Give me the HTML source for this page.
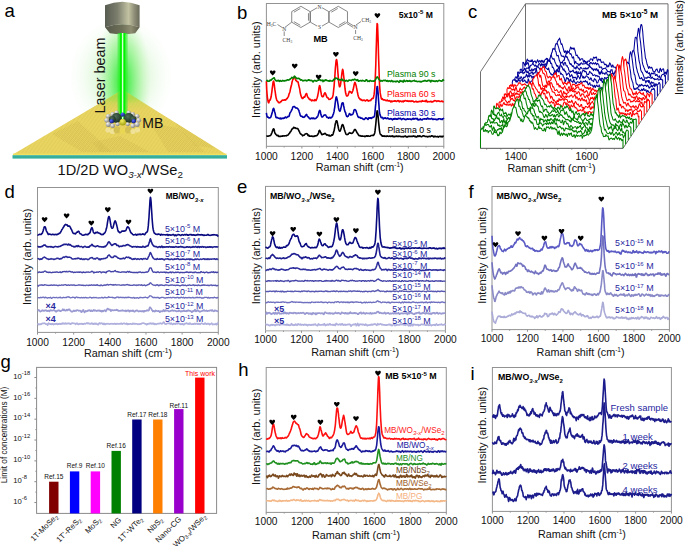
<!DOCTYPE html><html><head><meta charset="utf-8"><style>html,body{margin:0;padding:0;background:#fff;}svg{display:block;}</style></head><body>
<svg width="685" height="546" viewBox="0 0 685 546" font-family='"Liberation Sans", sans-serif'>
<rect width="685" height="546" fill="#fff"/>
<text x="4.60" y="16.90" font-size="18.5" text-anchor="start" font-weight="normal" fill="#000">a</text>
<text x="237.00" y="18.90" font-size="18.5" text-anchor="start" font-weight="normal" fill="#000">b</text>
<text x="468.00" y="17.60" font-size="18.5" text-anchor="start" font-weight="normal" fill="#000">c</text>
<text x="4.50" y="197.60" font-size="18.5" text-anchor="start" font-weight="normal" fill="#000">d</text>
<text x="237.00" y="193.00" font-size="18.5" text-anchor="start" font-weight="normal" fill="#000">e</text>
<text x="468.50" y="197.80" font-size="18.5" text-anchor="start" font-weight="normal" fill="#000">f</text>
<text x="0.60" y="367.70" font-size="18.5" text-anchor="start" font-weight="normal" fill="#000">g</text>
<text x="238.20" y="375.70" font-size="18.5" text-anchor="start" font-weight="normal" fill="#000">h</text>
<text x="470.50" y="379.70" font-size="18.5" text-anchor="start" font-weight="normal" fill="#000">i</text>
<rect x="266.4" y="3.5" width="177.40000000000003" height="142.8" fill="none" stroke="#939393" stroke-width="1"/>
<line x1="266.40" y1="146.3" x2="266.40" y2="148.5" stroke="#939393" stroke-width="1"/>
<line x1="284.14" y1="146.3" x2="284.14" y2="147.5" stroke="#939393" stroke-width="1"/>
<line x1="301.88" y1="146.3" x2="301.88" y2="148.5" stroke="#939393" stroke-width="1"/>
<line x1="319.62" y1="146.3" x2="319.62" y2="147.5" stroke="#939393" stroke-width="1"/>
<line x1="337.36" y1="146.3" x2="337.36" y2="148.5" stroke="#939393" stroke-width="1"/>
<line x1="355.10" y1="146.3" x2="355.10" y2="147.5" stroke="#939393" stroke-width="1"/>
<line x1="372.84" y1="146.3" x2="372.84" y2="148.5" stroke="#939393" stroke-width="1"/>
<line x1="390.58" y1="146.3" x2="390.58" y2="147.5" stroke="#939393" stroke-width="1"/>
<line x1="408.32" y1="146.3" x2="408.32" y2="148.5" stroke="#939393" stroke-width="1"/>
<line x1="426.06" y1="146.3" x2="426.06" y2="147.5" stroke="#939393" stroke-width="1"/>
<line x1="443.80" y1="146.3" x2="443.80" y2="148.5" stroke="#939393" stroke-width="1"/>
<text x="266.40" y="159.60" font-size="10.2" text-anchor="middle" font-weight="normal" fill="#111">1000</text>
<text x="301.88" y="159.60" font-size="10.2" text-anchor="middle" font-weight="normal" fill="#111">1200</text>
<text x="337.36" y="159.60" font-size="10.2" text-anchor="middle" font-weight="normal" fill="#111">1400</text>
<text x="372.84" y="159.60" font-size="10.2" text-anchor="middle" font-weight="normal" fill="#111">1600</text>
<text x="408.32" y="159.60" font-size="10.2" text-anchor="middle" font-weight="normal" fill="#111">1800</text>
<text x="443.80" y="159.60" font-size="10.2" text-anchor="middle" font-weight="normal" fill="#111">2000</text>
<text x="359.70" y="170.80" font-size="10.8" text-anchor="middle" font-weight="normal" fill="#111">Raman shift (cm<tspan dy="-3.6" font-size="6.5">-1</tspan><tspan dy="3.6">)</tspan></text>
<text x="260.20" y="69.60" font-size="11.0" text-anchor="middle" font-weight="normal" fill="#111" transform="rotate(-90 260.2 69.6)">Intensity (arb. units)</text>
<g stroke="#6a6a6a" stroke-width="0.8" fill="none"><path d="M300.90,6.30 L291.72,11.60 L291.72,22.20 L300.90,27.50 L310.08,22.20 L310.08,11.60Z"/><path d="M319.60,6.30 L310.42,11.60 L310.42,22.20 L319.60,27.50 L328.78,22.20 L328.78,11.60Z"/><path d="M338.30,6.30 L329.12,11.60 L329.12,22.20 L338.30,27.50 L347.48,22.20 L347.48,11.60Z"/><line x1="300.32" y1="8.48" x2="293.90" y2="12.19"/><line x1="293.90" y1="21.61" x2="300.32" y2="25.32"/><line x1="308.48" y1="20.61" x2="308.48" y2="13.19"/><line x1="337.72" y1="8.48" x2="331.30" y2="12.19"/><line x1="338.88" y1="25.32" x2="345.30" y2="21.61"/><line x1="291.7" y1="22.2" x2="284.6" y2="27.6"/><line x1="283.8" y1="28.5" x2="277.5" y2="24.5"/><line x1="284.2" y1="31" x2="284.2" y2="36"/><line x1="347.5" y1="22.2" x2="354.3" y2="26.3"/><line x1="347.0" y1="23.6" x2="353.5" y2="27.6"/><line x1="356" y1="25" x2="361" y2="21.5"/><line x1="355.6" y1="29.5" x2="355.6" y2="34"/></g>
<circle cx="319.6" cy="6.9" r="2.6" fill="#fff"/><circle cx="319.6" cy="27.4" r="2.6" fill="#fff"/><circle cx="284.3" cy="29.2" r="2.4" fill="#fff"/><circle cx="355.5" cy="27.5" r="2.4" fill="#fff"/>
<g fill="#3a3a3a" font-family="Liberation Serif, serif" font-size="5.6">
<text x="319.6" y="8.8" text-anchor="middle">N</text>
<text x="319.6" y="29.4" text-anchor="middle">S</text>
<text x="266.8" y="26.3">H<tspan font-size="3.5" dy="1">3</tspan><tspan dy="-1">C</tspan></text>
<text x="284.3" y="31" text-anchor="middle">N</text>
<text x="282.6" y="41.5">CH<tspan font-size="3.5" dy="1">3</tspan></text>
<text x="355.5" y="29.3" text-anchor="middle">N</text>
<text x="361.5" y="21.5">CH<tspan font-size="3.5" dy="1">3</tspan></text>
<text x="353.3" y="40">CH<tspan font-size="3.5" dy="1">3</tspan></text>
</g>
<text x="313.40" y="41.90" font-size="9.2" text-anchor="start" font-weight="bold" fill="#000">MB</text>
<text x="432.80" y="17.50" font-size="8.6" text-anchor="end" font-weight="bold" fill="#000">5x10<tspan dy="-3.5" font-size="6">-5</tspan><tspan dy="3.5"> M</tspan></text>
<path transform="scale(0.1)" d="M2664,1361l3-1 4 3 3 0 4-2 3-1 4 1 3-1 3-2 4 0 3-1 4-1 3-2 3-2 4-8 3-8 4-9 3-8 4-10 3-10 3-8 4-3 3 1 4 12 3 18 3 12 4 5 3 5 4 5 3 1 4 4 3 5 3 1 4-3 3 0 4 4 3 5 3 2 4-2 3-1 4 2 3 0 4 0 3-1 3-1 4-1 3 0 4 0 3-3 3-1 4 2 3 1 4 0 3-3 4 2 3-2 3 0 4 0 3 2 4-2 3-4 4-1 3 1 3-2 4-4 3-5 4-5 3-2 3-3 4-7 3-8 4-2 3-5 4-7 3-9 3-4 4-1 3-3 4-4 3-6 3-3 4 2 3 5 4 0 3-3 4 2 3 4 3 2 4 0 3-1 4 0 3 2 3 4 4 1 3 7 4 8 3 8 4 6 3 8 3 7 4 2 3 5 4 2 3 2 3 1 4 5 3 6 4-2 3-3 4-1 3 1 3-2 4-5 3-4 4-3 3-1 4-2 3 1 3 0 4 0 3 4 4 11 3 5 3-5 4-1 3 6 4 5 3-1 4 1 3 1 3-2 4 0 3-1 4 1 3 1 3 2 4 1 3-1 4 0 3 1 4-2 3-4 3-1 4 1 3 0 4 0 3-1 3-3 4-1 3-3 4-5 3-7 4-5 3-10 3-14 4-6 3-1 4 9 3 7 3 7 4 5 3 8 4 7 3 0 4-1 3-3 3-2 4 1 3 1 4-3 3-3 3-2 4 0 3 5 4 2 3 4 4 3 3 3 3-1 4-1 3 2 4 5 3-2 4-3 3 1 3 7 4 1 3 0 4-1 3-1 3-5 4-4 3 2 4 1 3-1 4-11 3-9 3-13 4-10 3-17 4-22 3-19 3-15 4-13 3-13 4-2 3 0 4 11 3 15 3 20 4 16 3 16 4 13 3 8 3 5 4 1 3-4 4-8 3-11 4-11 3-13 3-11 4-7 3-1 4 3 3 9 3 9 4 13 3 14 4 12 3 9 4 9 3 11 3 7 4 1 3 2 4 1 3-1 4-1 3-1 3-5 4-5 3-1 4-4 3-2 3 2 4 4 3 0 4 0 3 2 4 0 3-2 3-2 4-5 3-5 4-6 3-5 3-8 4-6 3 0 4 0 3 5 4 6 3 7 3 7 4 6 3 6 4 3 3 6 3 7 4 4 3 5 4-2 3 0 4 0 3 5 3-1 4 2 3 2 4-3 3-2 3 3 4 1 3 0 4 0 3 0 4-1 3 4 3 1 4 0 3-4 4-1 3-3 4 1 3 0 3 3 4-1 3-3 4-1 3 3 3 3 4 0 3 0 4-1 3-1 4-4 3-1 3-1 4 0 3 0 4-2 3 0 3 1 4 0 3-4 4-4 3-8 4-11 3-23 3-28 4-34 3-36 4-41 3-36 3-20 4 4 3 25 4 37 3 38 4 36 3 31 3 26 4 21 3 11 4 7 3 2 3 1 4 6 3 3 4 5 3-3 4 2 3 1 3 1 4-4 3 0 4 2 3 3 4-1 3-2 3 2 4 1 3-1 4-4 3 2 3 0 4 2 3 0 4 1 3-2 4-1 3 0 3 2 4 2 3-3 4-2 3 2 3 2 4 0 3-6 4 3 3 4 4 1 3-2 3 3 4 1 3-5 4-1 3 1 3 1 4-4 3 1 4-1 3 4 4 1 3 1 3-3 4-2 3 1 4 2 3-1 3-1 4 2 3 1 4 3 3 0 4-2 3-1 3 0 4 2 3 0 4 2 3-6 3 1 4 0 3 0 4-3 3-1 4 3 3 6 3 1 4-1 3-3 4 3 3-3 4-3 3-1 3 1 4 1 3-1 4 2 3 0 3-1 4-1 3 1 4-1 3 1 4 0 3 0 3-3 4 1 3-2 4 1 3 1 3 4 4 0 3-2 4 1 3 4 4 1 3-1 3-4 4-4 3-3 4 2 3 3 3 2 4-1 3-5 4-2 3 3 4 4 3 2 3 1 4 1 3-2 4-4 3-2 3-1 4 0 3 0 4 0 3 1 4 1 3 3 3 1 4 0 3 1 4-1 3-1 4 1 3 1 3 3 4-1 3-2 4-3 3 0 3 0 4 1 3 2 4 0 3-4 4-1 3-3 3 1 4 0 3 2 4 0 3 3 3 5 4 0 3-4 4-3 3 0 4 3 3-1 3 4 4 0 3 0 4-1 3-3 3 1 4 1 3 5 4-4 3-1 4-2 3 0 3-2 4 3 3 3 4-2 3-2 3 2 4 3 3-4 4-2 3-1 4 3 3 1" fill="none" stroke="#000" stroke-width="16.0" stroke-linejoin="round" opacity="1"/>
<path transform="scale(0.1)" d="M2664,1128l3 20 4 18 3 5 4 0 3-1 4 6 3 2 3 2 4-1 3-1 4-1 3 0 3-7 4-9 3-12 4-11 3-14 4-12 3-15 3-10 4-4 3 6 4 14 3 14 3 9 4 14 3 19 4 17 3 1 4-1 3-2 3 1 4 2 3 3 4 2 3 0 3 2 4 2 3 1 4-6 3-1 4 5 3 5 3-4 4-3 3-3 4 5 3-1 3-2 4-1 3 3 4-2 3-4 4-2 3-4 3-2 4 3 3 6 4-2 3-3 4-3 3-1 3-5 4-2 3 0 4 2 3-10 3-12 4-14 3-5 4-5 3-5 4-8 3-7 3-3 4-12 3-11 4-7 3 1 3 0 4-1 3-1 4 3 3 6 4 4 3 2 3-1 4 1 3 0 4 3 3 0 3 6 4 3 3 6 4 7 3 12 4 12 3 11 3 12 4 7 3 3 4 0 3 2 3-1 4 2 3 5 4 2 3 1 4-2 3 2 3-4 4 1 3-6 4-6 3-6 4-3 3-5 3 1 4 10 3 7 4 5 3 2 3 1 4 5 3 6 4 4 3 3 4 1 3-1 3-4 4-4 3 1 4 2 3 3 3-6 4 0 3-1 4 6 3 3 4 0 3-2 3-3 4 3 3-1 4 0 3-7 3-2 4-7 3 1 4-7 3-7 4-13 3-12 3-14 4-9 3-4 4 3 3 11 3 17 4 16 3 9 4 8 3 2 4 0 3-4 3-3 4-6 3-5 4 1 3-2 3-2 4 0 3 2 4 2 3 7 4 8 3 6 3-2 4 0 3 2 4 7 3 2 4-2 3-5 3-2 4 0 3 2 4 5 3-1 3-3 4-7 3 0 4-2 3-11 4-11 3-5 3-12 4-15 3-22 4-22 3-31 3-24 4-26 3-17 4-3 3 13 4 16 3 14 3 19 4 23 3 25 4 15 3 10 3 5 4 4 3-6 4-13 3-13 4-15 3-18 3-15 4-1 3-3 4-1 3 8 3 21 4 17 3 16 4 16 3 12 4 5 3 8 3 15 4 9 3 9 4 2 3 1 4-4 3 0 3-6 4-9 3-8 4-4 3 0 3 5 4 8 3 2 4-3 3-2 4-2 3 2 3-2 4-4 3-7 4-13 3-15 3-8 4 0 3-1 4 1 3 3 4 8 3 8 3 12 4 9 3 11 4 11 3 8 3 5 4 2 3 1 4-2 3-1 4 3 3 4 3 3 4-2 3 0 4 2 3 3 3-2 4 3 3 6 4 2 3-2 4 2 3 0 3-5 4-4 3-7 4 0 3 1 4 4 3-1 3 5 4 5 3 2 4-5 3-8 3-4 4 1 3 5 4-1 3-4 4-1 3 4 3 4 4-5 3-3 4-3 3 2 3-3 4-2 3 0 4-3 3-7 4-20 3-32 3-35 4-40 3-48 4-54 3-44 3-23 4 0 3 32 4 47 3 53 4 48 3 46 3 34 4 18 3 11 4 8 3 9 3 5 4 0 3 0 4-2 3 2 4 4 3 9 3-2 4-3 3-4 4 1 3-3 4-1 3 3 3 4 4 0 3 2 4-1 3-2 3-4 4 3 3 3 4 4 3 1 4 1 3-2 3 1 4-1 3-3 4 1 3 0 3 6 4 4 3 2 4-6 3-5 4 3 3 1 3 0 4-6 3-1 4 0 3 5 3 1 4 1 3-3 4 1 3 2 4 0 3-7 3-3 4 2 3 4 4-1 3-1 3-4 4 0 3 5 4 5 3 3 4 1 3-4 3-5 4 0 3 0 4-1 3 1 3 4 4-1 3 0 4 6 3 0 4-3 3 1 3 1 4-3 3-4 4 1 3 2 4 1 3 1 3-4 4 1 3 0 4 1 3-1 3 2 4 3 3 1 4-1 3-4 4-1 3-5 3-1 4 0 3 7 4 0 3-3 3 0 4-3 3-1 4 2 3 2 4 2 3-6 3 0 4 3 3 10 4 3 3-2 3-2 4 0 3 1 4-2 3-6 4 1 3 3 3 4 4 0 3 2 4-1 3-5 3-3 4 0 3 0 4-1 3-1 4 1 3 2 3-1 4-1 3-1 4 4 3-1 4-3 3-8 3 2 4 1 3 7 4-1 3-1 3 1 4 1 3 1 4-2 3-1 4-2 3-2 3 1 4 3 3 5 4 2 3 0 3-4 4-1 3 2 4 1 3-1 4 0 3 2 3-3 4 3 3 4 4 0 3-6 3 0 4 2 3-4 4-2 3-1 4 0 3 0 3 1 4 2 3 1 4 4 3-3 3-1 4-1 3 5 4-5 3-4 4-2 3 5" fill="none" stroke="#0000a8" stroke-width="16.0" stroke-linejoin="round" opacity="1"/>
<path transform="scale(0.1)" d="M2664,811l3 81 4 54 3 30 4 24 3 17 4 9 3 2 3-13 4-9 3-7 4 0 3-8 3-11 4-15 3-23 4-26 3-29 4-28 3-24 3-18 4-6 3 12 4 26 3 27 3 23 4 25 3 26 4 21 3 15 4 12 3 8 3 2 4 4 3 4 4 9 3 2 3 1 4-1 3 1 4-7 3-5 4 2 3-1 3-3 4-7 3-5 4-1 3-1 3 1 4 2 3 0 4-3 3-3 4 2 3 0 3 2 4-3 3-5 4-5 3-1 4-2 3-10 3-3 4-5 3-8 4-17 3-8 3-7 4-12 3-17 4-18 3-13 4-15 3-10 3-19 4-14 3-13 4-3 3-10 3-9 4-5 3 3 4 4 3 9 4 11 3 9 3 1 4 3 3 4 4 4 3-2 3 0 4 8 3 17 4 18 3 13 4 14 3 20 3 21 4 17 3 13 4 8 3 10 3 6 4 5 3 0 4 0 3-6 4-6 3-5 3 4 4-1 3-6 4-14 3-5 4-7 3-4 3 2 4 14 3 13 4 7 3 5 3 2 4 5 3 6 4 7 3-2 4 1 3-1 3 6 4 4 3 5 4-5 3-3 3-1 4 5 3 0 4 0 3 2 4 0 3-8 3-4 4 4 3 6 4 1 3-5 3-9 4-10 3-9 4-13 3-19 4-18 3-23 3-24 4-17 3-3 4 12 3 19 3 21 4 20 3 19 4 13 3 5 4-1 3 4 3-3 4-4 3-11 4-8 3-9 3-5 4 2 3 5 4 9 3 10 4 10 3 8 3 3 4 3 3-1 4 6 3 6 4 6 3-2 3 0 4 0 3-1 4-5 3-1 3-4 4 0 3-3 4-4 3-9 4-17 3-24 3-30 4-34 3-42 4-47 3-48 3-46 4-40 3-32 4-10 3 6 4 29 3 35 3 47 4 48 3 42 4 32 3 21 3 12 4-1 3-9 4-16 3-25 4-26 3-31 3-27 4-26 3-13 4 7 3 24 3 30 4 32 3 35 4 33 3 32 4 28 3 18 3 10 4 12 3 5 4 0 3-2 4-1 3-5 3-10 4-13 3-11 4-4 3 4 3 1 4-3 3 2 4 7 3 6 4-1 3-8 3-7 4-11 3-11 4-18 3-14 3-17 4-13 3-8 4 7 3 9 4 13 3 12 3 16 4 18 3 19 4 18 3 15 3 12 4 10 3 8 4 3 3 4 4 6 3 4 3-3 4 0 3 4 4 5 3-2 3 3 4 2 3-1 4-3 3-1 4 0 3 1 3 3 4 4 3 1 4-4 3-3 4-3 3 2 3-3 4 3 3 5 4 4 3-2 3-3 4 2 3-1 4-3 3 0 4 2 3-6 3-5 4-4 3-5 4-4 3 1 3 2 4-6 3-15 4-20 3-26 4-36 3-56 3-79 4-102 3-118 4-122 3-108 3-62 4 9 3 73 4 111 3 119 4 115 3 99 3 80 4 53 3 35 4 22 3 16 3 15 4 9 3 1 4-5 3 4 4 5 3 3 3 0 4 1 3 0 4-2 3 2 4 4 3-1 3 2 4 1 3 0 4-6 3 1 3 5 4 4 3 0 4-2 3 1 4-3 3 2 3 2 4 7 3 3 4-5 3-5 3 1 4 6 3-2 4-3 3 0 4 1 3-1 3-4 4 3 3-2 4-1 3 0 3 5 4 2 3-2 4-2 3-2 4 0 3-3 3 0 4 2 3 7 4 3 3-3 3-5 4 0 3 2 4 2 3 3 4-3 3-3 3 0 4 6 3 2 4-5 3-5 3 2 4 1 3-4 4-3 3 1 4 1 3 1 3 0 4 4 3-1 4 0 3-5 4 6 3 2 3 0 4-4 3 2 4 0 3-2 3 2 4 3 3-2 4-4 3-1 4 3 3 2 3-2 4 2 3 5 4 2 3-1 3-1 4 0 3-4 4 1 3-1 4 4 3-2 3 4 4 0 3 0 4-4 3 0 3 2 4-2 3-2 4 0 3-2 4 1 3 2 3 3 4-4 3-4 4-4 3 3 3 3 4 1 3 0 4-1 3-1 4 1 3 3 3 1 4-5 3-7 4 0 3 5 4 10 3 1 3-1 4-3 3 0 4 2 3 0 3 0 4-1 3-1 4-4 3 1 4 6 3 1 3-4 4 0 3 3 4-1 3-2 3-3 4-1 3-4 4-2 3 0 4 1 3 0 3 0 4 5 3 3 4 0 3-6 3 1 4 0 3 2 4-3 3 0 4 2 3 3 3 1 4 0 3 0 4-1 3-4 3 0 4 2 3 4 4-2 3 2 4 2 3 1" fill="none" stroke="#ff0000" stroke-width="16.0" stroke-linejoin="round" opacity="1"/>
<path transform="scale(0.1)" d="M2664,811l3-4 4-4 3 4 4 5 3 1 4-3 3 3 3-1 4-2 3-7 4-2 3-1 3 4 4-5 3 0 4-7 3-1 4-6 3 0 3-2 4-3 3 0 4-1 3 8 3 7 4 7 3-1 4 6 3 3 4 1 3 0 3-1 4-2 3-4 4 0 3 2 3 5 4 3 3-4 4-4 3 1 4 4 3 3 3 0 4-1 3-2 4-5 3-1 3 2 4 3 3 0 4 1 3 0 4-4 3 2 3-2 4 0 3-2 4 0 3-3 4-3 3 0 3 1 4 1 3 1 4-4 3-1 3 0 4-3 3-6 4-1 3-2 4-4 3-6 3 3 4-2 3 4 4 1 3 1 3-5 4-6 3-8 4 2 3 3 4 7 3 0 3 7 4 4 3 2 4 0 3-2 3 0 4-3 3 0 4 2 3 3 4 1 3 4 3 5 4 4 3-1 4-1 3 0 3 2 4 3 3 1 4 4 3-2 4-1 3-3 3 2 4-1 3 1 4-1 3-2 4 2 3 3 3 3 4-4 3 0 4-2 3-1 3-6 4 0 3 5 4 2 3-3 4 1 3 3 3 1 4-1 3-1 4 1 3 3 3 5 4 6 3 0 4-7 3-4 4-1 3-1 3-2 4 3 3 2 4 1 3 1 3 0 4-4 3-3 4 0 3-1 4 0 3-2 3-1 4-3 3 0 4 1 3 2 3 4 4 3 3-2 4-1 3-3 4 1 3 7 3 7 4-5 3-8 4 1 3 5 3-3 4-4 3-3 4 3 3-1 4 0 3 4 3 3 4 0 3-1 4 0 3 0 4 6 3 0 3-5 4-5 3 4 4 2 3 2 3-1 4 0 3-2 4 2 3 1 4-5 3-7 3-5 4 0 3 2 4-3 3-9 3-3 4-2 3 4 4-1 3 1 4 0 3 7 3 4 4-2 3 1 4 1 3 5 3-2 4 2 3 0 4 2 3-1 4-4 3-5 3-1 4 5 3 7 4 4 3 0 3-2 4-1 3 1 4 0 3 3 4 4 3-1 3-5 4-1 3 1 4 2 3 0 4 6 3-2 3-3 4-6 3-1 4 0 3 2 3-1 4 0 3 2 4 2 3-2 4-3 3-5 3 1 4 0 3 3 4-1 3 0 3-6 4-2 3 2 4 3 3 0 4 1 3 4 3 4 4-5 3-2 4-2 3 9 3 5 4 3 3-2 4-4 3 1 4 0 3-2 3-1 4 1 3 4 4-1 3 0 3-5 4 1 3 2 4 1 3 0 4 2 3 3 3 0 4-2 3-4 4-7 3-3 4 0 3 6 3 4 4 3 3 4 4-2 3-1 3-1 4 4 3-3 4-6 3-1 4 2 3 2 3 2 4 1 3-1 4 1 3-1 3 1 4-2 3 3 4-2 3 1 4-6 3-3 3-3 4-8 3-9 4-5 3-4 3-4 4 1 3 6 4 4 3 6 4 7 3 4 3 2 4 3 3 6 4 3 3 0 3-2 4-3 3 2 4 3 3-1 4-4 3-1 3-1 4-1 3 1 4 3 3-2 4-3 3 2 3 4 4 4 3-3 4-2 3-1 3 3 4 6 3-1 4-2 3-3 4 0 3 1 3 1 4 3 3 2 4-6 3-4 3 0 4 3 3 6 4 2 3 0 4-5 3 0 3 3 4 0 3-3 4 0 3 5 3 2 4-5 3-2 4 0 3-2 4 2 3 2 3 3 4 2 3 5 4-4 3-7 3-8 4 4 3 3 4 2 3-3 4-1 3 0 3 1 4 6 3 4 4-6 3-8 3-5 4 5 3 3 4 5 3-2 4-1 3-3 3-3 4 1 3 1 4 5 3-2 4 1 3-2 3 2 4-5 3-1 4 2 3 7 3 0 4-1 3 0 4 0 3-3 4-1 3 0 3-3 4 1 3 0 4-2 3-3 3 4 4 6 3 0 4 0 3-3 4 3 3 1 3 2 4-1 3 0 4 0 3 0 3 0 4-2 3 2 4 1 3 1 4-2 3 4 3 0 4-1 3-4 4 0 3-2 3 1 4-3 3-1 4 0 3 1 4-4 3-2 3 2 4 4 3 0 4 1 3 1 4-1 3-3 3-2 4-1 3-1 4-1 3 4 3 0 4-3 3 3 4 9 3 3 4-7 3-6 3-1 4 3 3 1 4 1 3 1 3 1 4-3 3 1 4 2 3 3 4 0 3-3 3-2 4-2 3 0 4 3 3 4 3-1 4-3 3-3 4-2 3-2 4 1 3 1 3 1 4 1 3 0 4 4 3 0 3 0 4-2 3-4 4-7 3-2 4 5 3 6" fill="none" stroke="#008000" stroke-width="16.0" stroke-linejoin="round" opacity="1"/>
<text x="387.00" y="77.00" font-size="8.8" text-anchor="start" font-weight="normal" fill="#008000">Plasma 90 s</text>
<text x="387.00" y="96.90" font-size="8.8" text-anchor="start" font-weight="normal" fill="#ff0000">Plasma 60 s</text>
<text x="387.00" y="115.50" font-size="8.8" text-anchor="start" font-weight="normal" fill="#0000a8">Plasma 30 s</text>
<text x="387.50" y="133.40" font-size="8.8" text-anchor="start" font-weight="normal" fill="#000">Plasma 0 s</text>
<path d="M272.70,75.50 C271.92,74.46 269.84,72.90 269.84,71.76 C269.84,70.04 272.44,70.04 272.70,71.60 C272.96,70.04 275.56,70.04 275.56,71.76 C275.56,72.90 273.48,74.46 272.70,75.50 Z" fill="#000"/>
<path d="M294.70,68.70 C293.92,67.66 291.84,66.10 291.84,64.96 C291.84,63.24 294.44,63.24 294.70,64.80 C294.96,63.24 297.56,63.24 297.56,64.96 C297.56,66.10 295.48,67.66 294.70,68.70 Z" fill="#000"/>
<path d="M318.60,79.70 C317.82,78.66 315.74,77.10 315.74,75.96 C315.74,74.24 318.34,74.24 318.60,75.80 C318.86,74.24 321.46,74.24 321.46,75.96 C321.46,77.10 319.38,78.66 318.60,79.70 Z" fill="#000"/>
<path d="M335.90,57.10 C335.12,56.06 333.04,54.50 333.04,53.36 C333.04,51.64 335.64,51.64 335.90,53.20 C336.16,51.64 338.76,51.64 338.76,53.36 C338.76,54.50 336.68,56.06 335.90,57.10 Z" fill="#000"/>
<path d="M355.70,76.30 C354.92,75.26 352.84,73.70 352.84,72.56 C352.84,70.84 355.44,70.84 355.70,72.40 C355.96,70.84 358.56,70.84 358.56,72.56 C358.56,73.70 356.48,75.26 355.70,76.30 Z" fill="#000"/>
<path d="M377.40,18.20 C376.62,17.16 374.54,15.60 374.54,14.46 C374.54,12.74 377.14,12.74 377.40,14.30 C377.66,12.74 380.26,12.74 380.26,14.46 C380.26,15.60 378.18,17.16 377.40,18.20 Z" fill="#000"/>
<rect x="37.5" y="187.5" width="180.8" height="144.89999999999998" fill="none" stroke="#939393" stroke-width="1"/>
<line x1="37.50" y1="332.4" x2="37.50" y2="334.59999999999997" stroke="#939393" stroke-width="1"/>
<line x1="55.58" y1="332.4" x2="55.58" y2="333.59999999999997" stroke="#939393" stroke-width="1"/>
<line x1="73.66" y1="332.4" x2="73.66" y2="334.59999999999997" stroke="#939393" stroke-width="1"/>
<line x1="91.74" y1="332.4" x2="91.74" y2="333.59999999999997" stroke="#939393" stroke-width="1"/>
<line x1="109.82" y1="332.4" x2="109.82" y2="334.59999999999997" stroke="#939393" stroke-width="1"/>
<line x1="127.90" y1="332.4" x2="127.90" y2="333.59999999999997" stroke="#939393" stroke-width="1"/>
<line x1="145.98" y1="332.4" x2="145.98" y2="334.59999999999997" stroke="#939393" stroke-width="1"/>
<line x1="164.06" y1="332.4" x2="164.06" y2="333.59999999999997" stroke="#939393" stroke-width="1"/>
<line x1="182.14" y1="332.4" x2="182.14" y2="334.59999999999997" stroke="#939393" stroke-width="1"/>
<line x1="200.22" y1="332.4" x2="200.22" y2="333.59999999999997" stroke="#939393" stroke-width="1"/>
<line x1="218.30" y1="332.4" x2="218.30" y2="334.59999999999997" stroke="#939393" stroke-width="1"/>
<text x="37.50" y="346.30" font-size="10.2" text-anchor="middle" font-weight="normal" fill="#111">1000</text>
<text x="73.66" y="346.30" font-size="10.2" text-anchor="middle" font-weight="normal" fill="#111">1200</text>
<text x="109.82" y="346.30" font-size="10.2" text-anchor="middle" font-weight="normal" fill="#111">1400</text>
<text x="145.98" y="346.30" font-size="10.2" text-anchor="middle" font-weight="normal" fill="#111">1600</text>
<text x="182.14" y="346.30" font-size="10.2" text-anchor="middle" font-weight="normal" fill="#111">1800</text>
<text x="218.30" y="346.30" font-size="10.2" text-anchor="middle" font-weight="normal" fill="#111">2000</text>
<text x="128.00" y="356.60" font-size="10.8" text-anchor="middle" font-weight="normal" fill="#111">Raman shift (cm<tspan dy="-3.6" font-size="6.5">-1</tspan><tspan dy="3.6">)</tspan></text>
<text x="31.50" y="256.80" font-size="11.0" text-anchor="middle" font-weight="normal" fill="#111" transform="rotate(-90 31.5 256.8)">Intensity (arb. units)</text>
<text x="165.70" y="199.40" font-size="8.2" text-anchor="start" font-weight="bold" fill="#000">MB/WO<tspan dy="2.4" font-size="6" font-style="italic">3-x</tspan></text>
<path transform="scale(0.1)" d="M375,2351l3 1 4-3 3-1 4-2 3-1 4-2 3-1 4 1 3 2 4 0 3-2 4-4 3-5 4-5 3-9 4-10 3-12 4-13 3-13 4-5 3 0 4 2 3 7 4 14 3 15 4 8 3 5 4 6 3 7 4 9 3 4 3 1 4-2 3-2 4 0 3 0 4 2 3 1 4 2 3 2 4-2 3-2 4 0 3 0 4-1 3 2 4 1 3 0 4 0 3 0 4-1 3-1 4 0 3 1 4 2 3 1 4-5 3-3 4 0 3 1 4-3 3-5 3-3 4 1 3-1 4-7 3-6 4-6 3-8 4-7 3-4 4-6 3-7 4-5 3-5 4-5 3-8 4-4 3-4 4-2 3-2 4 2 3 4 4 0 3-1 4 4 3 7 4 3 3-2 4 0 3 0 3 0 4 3 3 7 4 8 3 8 4 5 3 6 4 9 3 9 4 6 3 7 4 6 3 0 4 0 3 0 4 2 3-1 4 3 3-5 4-5 3-5 4-1 3 0 4-3 3-4 4-4 3 3 4 1 3 7 4 8 3 5 3 2 4 0 3 2 4 2 3 4 4 4 3 1 4 2 3 0 4-1 3-2 4 0 3-1 4-3 3-2 4 0 3 2 4 0 3-1 4-1 3 3 4 1 3-2 4-6 3-2 4-4 3 0 4-4 3-6 4-13 3-10 3-11 4-10 3-3 4 3 3 11 4 11 3 15 4 9 3 3 4 2 3 3 4 1 3-7 4-3 3-2 4 3 3 0 4-3 3-3 4 5 3 4 4 1 3-1 4 2 3 4 4-1 3 2 4 1 3 6 4 2 3 2 3-2 4-1 3-1 4 3 3-2 4-5 3-6 4-1 3-3 4-5 3-7 4-10 3-11 4-13 3-14 4-23 3-22 4-23 3-18 4-14 3-4 4 4 3 11 4 19 3 21 4 21 3 18 4 13 3 7 3 3 4 1 3-3 4-7 3-12 4-15 3-13 4-12 3-8 4-5 3 5 4 10 3 13 4 11 3 14 4 15 3 16 4 14 3 9 4 3 3 0 4 6 3 3 4 0 3-2 4-2 3-3 4-7 3-1 4-1 3 0 3 0 4 1 3-1 4-1 3 1 4-1 3-2 4-2 3 1 4-6 3-8 4-9 3-8 4-7 3-1 4 2 3 4 4 2 3 8 4 7 3 10 4 9 3 10 4 5 3 5 4 2 3 3 4 4 3 4 4 3 3 2 3 1 4-1 3-1 4 0 3 0 4-4 3-1 4 5 3 4 4-1 3-5 4-1 3 2 4 0 3-2 4-1 3 1 4 1 3-4 4 0 3 2 4 4 3-2 4-1 3-1 4-1 3-4 4 0 3 3 4 3 3 2 3 1 4-2 3-5 4-7 3-4 4-3 3-1 4-3 3-4 4-9 3-19 4-31 3-40 4-47 3-54 4-61 3-54 4-30 3 8 4 38 3 56 4 58 3 52 4 47 3 36 4 26 3 14 4 13 3 9 3 3 4 1 3 3 4 4 3 2 4-1 3 1 4 2 3-1 4 0 3-3 4 1 3-1 4 2 3-1 4 1 3 4 4 4 3-4 4-3 3-1 4 2 3 4 4-1 3-1 4-1 3 2 4-1 3 0 4 0 3 1 3 1 4 1 3 0 4-2 3-2 4-2 3 2 4 6 3 3 4-5 3-3 4 3 3 0 4-2 3 0 4 4 3 1 4-2 3-1 4-1 3-1 4-2 3 1 4-2 3 2 4 3 3 6 4 0 3-2 4-5 3 3 3 3 4 1 3-6 4 0 3-1 4-2 3-2 4 2 3 1 4-1 3 1 4 4 3 1 4 2 3-2 4-2 3-3 4-2 3 1 4 1 3 2 4 1 3 0 4-2 3-3 4 0 3 1 4 3 3-2 4-3 3-1 3 2 4 5 3 0 4 1 3-2 4 2 3-3 4-1 3-3 4 1 3 1 4 0 3-2 4 2 3 4 4 1 3-1 4-3 3 0 4-1 3 4 4-2 3 1 4 2 3 2 4-2 3-2 4-1 3 2 3-1 4-1 3-5 4 2 3 0 4 3 3-1 4 0 3-1 4 3 3 0 4 0 3-4 4 1 3 1 4 2 3-2 4 3 3 3 4-1 3-4 4 3 3 2 4-1 3-1 4 0 3 1 4-1 3 0 4-5 3-1 3-1 4 1 3 3 4 4 3 0 4-1 3 2 4 0 3-2 4 0 3-1 4-1 3-2 4 2 3-1 4 1 3-2 4-2 3 1 4 0 3 2 4-1 3 2 4 0 3 1 4-1 3-1 4 3 3 8 4-1 3-5" fill="none" stroke="#0a0a80" stroke-width="16.0" stroke-linejoin="round" opacity="1"/>
<path transform="scale(0.1)" d="M375,2467l3-2 4 1 3 3 4 2 3-1 4-1 3-2 4 3 3-1 4-1 3-4 4 2 3-1 4-1 3-4 4-3 3-2 4-3 3-2 4 1 3 0 4 0 3 3 4 6 3 2 4 2 3 4 4 1 3-2 4-2 3 3 3 1 4-2 3 0 4 0 3-1 4 0 3 3 4 1 3-1 4-3 3 2 4 3 3 2 4 1 3-1 4-3 3-2 4-1 3-1 4-2 3 1 4 0 3 3 4 0 3 0 4 0 3 1 4 0 3-4 4 0 3 0 3 0 4 0 3-2 4-1 3-3 4 0 3-2 4-3 3-2 4 0 3-3 4-5 3 1 4 1 3-1 4-3 3 2 4-1 3 1 4-1 3-1 4 1 3 3 4 4 3-1 4-3 3-6 4 3 3 5 3 2 4-5 3 0 4 4 3 5 4 2 3 2 4 4 3 1 4 0 3 0 4 2 3 3 4 2 3-2 4-3 3 2 4 1 3-3 4-6 3 0 4 2 3 5 4-3 3-6 4-2 3 5 4 4 3 0 4 2 3 2 3-1 4-1 3-1 4 0 3 2 4 0 3 5 4 3 3-1 4-4 3-2 4 0 3-3 4-1 3 0 4 2 3 2 4 3 3 1 4 0 3 0 4-1 3-2 4-1 3 3 4 0 3-3 4-6 3-4 4-1 3 1 3-5 4-5 3-4 4 1 3 4 4 7 3 4 4 0 3 1 4 1 3 1 4 3 3 1 4 0 3-3 4-1 3-2 4-2 3-1 4 1 3 2 4 2 3 2 4 2 3 0 4-1 3 0 4 2 3 0 4 1 3 0 3 1 4 0 3-2 4 0 3 1 4 2 3-3 4-4 3 1 4 1 3 0 4-6 3-2 4-5 3-4 4-6 3-4 4-7 3-9 4-3 3-1 4 1 3 4 4 6 3 5 4 6 3 4 4 5 3 3 3 2 4-4 3-4 4-1 3 0 4-2 3-4 4-2 3 0 4 0 3 1 4 0 3 6 4 5 3 4 4 0 3-2 4 1 3 3 4 4 3 5 4 3 3-2 4-3 3 0 4-1 3-1 4 2 3 1 4-2 3-2 3-2 4-3 3 0 4 2 3 1 4-1 3-1 4 1 3-1 4-4 3-4 4 1 3 1 4-3 3-2 4 2 3 1 4 3 3 1 4 4 3 2 4 2 3 0 4 2 3 3 4 2 3 2 4 3 3-1 4-4 3-1 3 1 4 0 3 1 4-1 3-1 4 0 3 1 4 2 3 2 4-1 3-4 4 0 3 3 4 0 3 0 4 1 3-1 4 3 3-2 4-1 3 1 4 3 3-1 4-2 3 1 4-1 3-6 4-1 3 2 4 5 3-2 3 3 4 2 3-1 4-4 3-4 4 0 3 1 4-4 3-2 4 1 3 0 4-6 3-11 4-10 3-10 4-11 3-14 4-10 3 6 4 13 3 13 4 7 3 11 4 5 3 6 4 4 3 5 4 4 3 3 3-1 4-1 3 2 4 1 3 0 4 0 3 3 4 2 3 1 4 3 3-1 4-4 3-3 4 0 3 0 4-1 3 6 4 2 3-1 4-7 3-3 4-2 3 5 4 7 3 2 4-3 3-5 4 1 3 0 4 4 3 0 3 0 4-3 3 0 4-1 3 1 4 0 3-1 4-1 3 1 4 3 3-2 4-2 3-1 4 1 3 1 4 3 3 1 4-2 3-2 4 2 3 2 4 1 3-5 4 2 3 1 4 2 3-3 4 1 3-1 4-3 3-1 3 0 4 2 3 2 4 0 3 0 4 1 3 1 4-1 3-2 4 0 3 1 4-1 3-3 4-2 3 1 4 2 3 3 4 1 3-1 4-2 3 2 4 3 3 1 4-1 3 0 4 1 3 0 4-2 3 0 4 0 3-4 3-1 4 0 3 3 4-1 3 3 4 1 3-2 4-2 3-1 4 3 3 3 4 0 3-3 4 0 3 2 4 0 3-4 4-3 3 0 4 4 3 1 4 0 3-1 4-1 3-3 4-1 3 2 4 2 3 3 3 1 4 1 3-6 4-2 3-1 4 4 3 5 4 0 3-4 4-3 3 1 4 1 3 1 4 1 3-3 4-3 3 3 4 1 3 2 4 1 3-2 4 0 3-1 4 1 3 2 4 3 3 0 4-3 3 1 4-3 3 1 3-2 4 2 3 0 4-1 3-2 4 0 3 4 4-1 3-3 4-1 3 2 4 3 3 1 4 2 3-2 4-3 3 0 4 0 3-2 4-1 3 0 4 1 3 1 4 1 3-1 4-1 3 2 4-1 3 1 4 0 3 1" fill="none" stroke="#1e1e90" stroke-width="16.0" stroke-linejoin="round" opacity="1"/>
<path transform="scale(0.1)" d="M375,2590l3-2 4-1 3-1 4 3 3 3 4 4 3-1 4-4 3-2 4-1 3 4 4 0 3 0 4-7 3-4 4-5 3 0 4-1 3-3 4-1 3 2 4 2 3 2 4 3 3 3 4 3 3 0 4 3 3 0 4 2 3 0 3 3 4 0 3-1 4-2 3 1 4-1 3-2 4-3 3 2 4 2 3 0 4-1 3 0 4 0 3 5 4 2 3-2 4-3 3-1 4-1 3 0 4-1 3-2 4-3 3 1 4 0 3-2 4 1 3 2 4 2 3 1 3 3 4 1 3-3 4-4 3 0 4 3 3 0 4-4 3-4 4-3 3-4 4-2 3-1 4 2 3 2 4-1 3-4 4-3 3-1 4 0 3 0 4 4 3 4 4 1 3-4 4 2 3 0 4 0 3-1 3 2 4-1 3 2 4 2 3 2 4 1 3 4 4 5 3 3 4-1 3-1 4 1 3 0 4 0 3-2 4-1 3 1 4 1 3-4 4-1 3 0 4 4 3-2 4-3 3-4 4 2 3 3 4 2 3-1 4 1 3 5 3 1 4-1 3-5 4 0 3 3 4 4 3 1 4 2 3-3 4-4 3 1 4 4 3 0 4-3 3-3 4 2 3 1 4-1 3 1 4 0 3 3 4 2 3 1 4-4 3-1 4-1 3-3 4-5 3-1 4-2 3-2 3 0 4 0 3-2 4 0 3 3 4 4 3 3 4 3 3 1 4-2 3-2 4 3 3 1 4-1 3-5 4-3 3-1 4 0 3-1 4 4 3 3 4 2 3 4 4 4 3-4 4-3 3 3 4 5 3-5 4-4 3-1 3 3 4 0 3-2 4-2 3 0 4 1 3-1 4-1 3 1 4 0 3-1 4-3 3-3 4-2 3 0 4-2 3-9 4-7 3-5 4-1 3-4 4 1 3 3 4 6 3 5 4 3 3 4 4 3 3 2 3-1 4-2 3 1 4 1 3-3 4-4 3-6 4-3 3 0 4 3 3 1 4 3 3-1 4 1 3 5 4 3 3 4 4 2 3 2 4-1 3 3 4 2 3 2 4-2 3 2 4 2 3-1 4-4 3 2 4 0 3-1 3-3 4-3 3-1 4 5 3 4 4 0 3-3 4-5 3-3 4-3 3-2 4-2 3 3 4 1 3 2 4-2 3 0 4-3 3 2 4 6 3 4 4-1 3-4 4 4 3 5 4 4 3 0 4 2 3 2 4-5 3-3 3 2 4 5 3-1 4-4 3-3 4-1 3 2 4 2 3 2 4 3 3-3 4-2 3-2 4 3 3 0 4 2 3 1 4 1 3-2 4-3 3-1 4-1 3 0 4 1 3 5 4 2 3-3 4-4 3-2 4 3 3 1 3-2 4-2 3-2 4 1 3 1 4 6 3 1 4 0 3-1 4-3 3-9 4-8 3-5 4-7 3-10 4-10 3-9 4-6 3 5 4 6 3 10 4 6 3 9 4 8 3 7 4 4 3 3 4 5 3 2 3 2 4 2 3-1 4-2 3 2 4 2 3-4 4-5 3 0 4 4 3 3 4-1 3 0 4 1 3-1 4-3 3 3 4 1 3 0 4-5 3 1 4 0 3-1 4 4 3 1 4 0 3-1 4 7 3 0 4-2 3-5 3-1 4-1 3 0 4 0 3-1 4 0 3-1 4 1 3-1 4 3 3 3 4 1 3-2 4 2 3 1 4-1 3-3 4-3 3 0 4 2 3 3 4 0 3 0 4 2 3 0 4-4 3-4 4 2 3 3 4-2 3-2 3 0 4 3 3-2 4-1 3-4 4 0 3 2 4 5 3 2 4 2 3-2 4 2 3-3 4 0 3-1 4 3 3-2 4-2 3-2 4 2 3 2 4-2 3 0 4 1 3 1 4 1 3 1 4 1 3-2 4-1 3-2 3 0 4 0 3 1 4 1 3-2 4-1 3-1 4 4 3 3 4-4 3-3 4 2 3 3 4-2 3-1 4 3 3 3 4 2 3-1 4 0 3 0 4 0 3-4 4-3 3-2 4 2 3 3 4 1 3-2 3-4 4 0 3 2 4 1 3 1 4 2 3-1 4 0 3 0 4-1 3-3 4 0 3 2 4 2 3 0 4-2 3-1 4-1 3-2 4-1 3 1 4 5 3 1 4 0 3-3 4-2 3 0 4 4 3 2 4 0 3-3 3-4 4 0 3 2 4 4 3 0 4-1 3-4 4 1 3 1 4 2 3 0 4-2 3-1 4-1 3 1 4 1 3 0 4 0 3-3 4 0 3 0 4 4 3 1 4 1 3-3 4-2 3-1 4 2 3 1 4 5 3 0" fill="none" stroke="#2c2c9c" stroke-width="15.0" stroke-linejoin="round" opacity="1"/>
<path transform="scale(0.1)" d="M375,2725l3 0 4 1 3-5 4 0 3-2 4 1 3 2 4 2 3-1 4-1 3 1 4 0 3-2 4-1 3 1 4 2 3-3 4-3 3-4 4 1 3-3 4 0 3 1 4 2 3 4 4 1 3 3 4 0 3 0 4-2 3 2 3 3 4 0 3-1 4-3 3 0 4 3 3 1 4 1 3 0 4 1 3-3 4-1 3-1 4 0 3 1 4 1 3-2 4-1 3 0 4 2 3-1 4-1 3-1 4 1 3-1 4 0 3 2 4 3 3-2 4 0 3 0 3 0 4-3 3-2 4 4 3 3 4 1 3-2 4-1 3-5 4-2 3 1 4 0 3-1 4-1 3 1 4 0 3-1 4 1 3 3 4-1 3-4 4-1 3 3 4 2 3 0 4 0 3-2 4-3 3-1 3 2 4 1 3 0 4 1 3 3 4 2 3-1 4-2 3-1 4 3 3 4 4 2 3-1 4-2 3-1 4 0 3 3 4-2 3-1 4-1 3 1 4-2 3 1 4 1 3 2 4-2 3-2 4 1 3 3 4-3 3-2 3 0 4 2 3 0 4 3 3 1 4 0 3 2 4-3 3-3 4-2 3 4 4 2 3-1 4-1 3-1 4 3 3 0 4-3 3-2 4 1 3 1 4-1 3-1 4 0 3 2 4 1 3 0 4-1 3-1 4-1 3-1 3 0 4-4 3-3 4 1 3 1 4 2 3 5 4 7 3 2 4-4 3-4 4 1 3 0 4 1 3-2 4 0 3-3 4 0 3 1 4 2 3 1 4-2 3-2 4-3 3 0 4 1 3 1 4 1 3 3 4 6 3-1 3-4 4-3 3 1 4 1 3-1 4-2 3 2 4 3 3-1 4-2 3 3 4 4 3 0 4-6 3-6 4-2 3 1 4-2 3-3 4-2 3 0 4 1 3-1 4 3 3 2 4 4 3-1 4 1 3 0 3 0 4-1 3-1 4 2 3-1 4-1 3-3 4-2 3-3 4-2 3 4 4 5 3 2 4 0 3 1 4 0 3-2 4 2 3 3 4 1 3-1 4 1 3 1 4 1 3 1 4 0 3-2 4-1 3-1 4 0 3-1 3 0 4 0 3 1 4 0 3 1 4 0 3-2 4 2 3 1 4 3 3-2 4-2 3-4 4-2 3-1 4 4 3 4 4-1 3-6 4-1 3 5 4 1 3 2 4 0 3 2 4-2 3 2 4 1 3-1 4-1 3 2 3 1 4-1 3-1 4 1 3 0 4-1 3 1 4 1 3-1 4-2 3 3 4 1 3 0 4-4 3-2 4 1 3 0 4-1 3-2 4 0 3 2 4 2 3 3 4 0 3 0 4-2 3-1 4-1 3 2 4 2 3 0 3-1 4-2 3 0 4 0 3-2 4-2 3 0 4 3 3 0 4-2 3-3 4-3 3-3 4-10 3-10 4-9 3-4 4 0 3 0 4 3 3 3 4 11 3 9 4 7 3 5 4 6 3 1 4-3 3 0 3 1 4 1 3 0 4 1 3 2 4 0 3-1 4-4 3 1 4-1 3 1 4-2 3 3 4 3 3 1 4-2 3-2 4-1 3 1 4-1 3 0 4 2 3 1 4-1 3-2 4 0 3 1 4 2 3-1 4-2 3-1 3 3 4 4 3 0 4-3 3-3 4 2 3 2 4 3 3 0 4 0 3-4 4-1 3 1 4 2 3-2 4-5 3 1 4 4 3 3 4-4 3-1 4-2 3 2 4 2 3 2 4 0 3 0 4 1 3-4 4-2 3 1 3 4 4-2 3-2 4 0 3 1 4-2 3 0 4 1 3 2 4 3 3 1 4-2 3-2 4 1 3 1 4-3 3 0 4 0 3 4 4-1 3-2 4 2 3 0 4 1 3-2 4-1 3-2 4 0 3 2 4-1 3-4 3-1 4 3 3 1 4 0 3 1 4 3 3 0 4-2 3-3 4 1 3 0 4 1 3-2 4 1 3 0 4 3 3 1 4 0 3-3 4 1 3 2 4 1 3-4 4-4 3 1 4 3 3 2 4 0 3 0 3 0 4 1 3 1 4 0 3-2 4 1 3-1 4 1 3 0 4 2 3-6 4-5 3-1 4 3 3 2 4 2 3 1 4-1 3-1 4-1 3 3 4 4 3 0 4-4 3 0 4-1 3-1 4-2 3 1 4 1 3 3 3 3 4 1 3-2 4-2 3 1 4 0 3-2 4-1 3 2 4-2 3-3 4-1 3 3 4 1 3-1 4-4 3-1 4 4 3 6 4-3 3-1 4-2 3 2 4-2 3 1 4 4 3 1 4-2 3-3 4 2 3 1" fill="none" stroke="#4444a8" stroke-width="13.5" stroke-linejoin="round" opacity="1"/>
<path transform="scale(0.1)" d="M375,2853l3 3 4 4 3 0 4-5 3-4 4 0 3 0 4 1 3-2 4 1 3-1 4 0 3-2 4 1 3 3 4 0 3 1 4 1 3-3 4-4 3 0 4 2 3 0 4 0 3 1 4 2 3 1 4 1 3-2 4 0 3 1 3 1 4 1 3-2 4-1 3-1 4 2 3-1 4 0 3-2 4 0 3 1 4 2 3 1 4-1 3-2 4-2 3 0 4 3 3 1 4 0 3-2 4 0 3 1 4 0 3 1 4 3 3 0 4-2 3 1 4 0 3-3 3-1 4 1 3 1 4 0 3 0 4-1 3-2 4-1 3 1 4 1 3 1 4 0 3-2 4-1 3-1 4 1 3-2 4-1 3 0 4 4 3 3 4 1 3-1 4 0 3-3 4-2 3 0 4 4 3 1 3 1 4-2 3-1 4-1 3 1 4 0 3-1 4 0 3 0 4 2 3 0 4-2 3-1 4 0 3 2 4 1 3 3 4-1 3 0 4 0 3 0 4-1 3 0 4-1 3-1 4-1 3 1 4-1 3 0 4-1 3 0 3 1 4 1 3 2 4-1 3-1 4 2 3 1 4-3 3 0 4 3 3 2 4-2 3-1 4 0 3 3 4 0 3-1 4-3 3-1 4 0 3 1 4 1 3 2 4 0 3-1 4-4 3 2 4 1 3 1 4-2 3 0 3-1 4-3 3 1 4 2 3 2 4 1 3-1 4-3 3-1 4 2 3 2 4-1 3 1 4-1 3 1 4-2 3-1 4-4 3 3 4 3 3 3 4-1 3-1 4 0 3 2 4 3 3-1 4-4 3-4 4 0 3 3 3 3 4 1 3 1 4-1 3-3 4-2 3 2 4-2 3-2 4 0 3 3 4 2 3-3 4-3 3-2 4-1 3 0 4 1 3 5 4 0 3-3 4-2 3 0 4 0 3-1 4 1 3 0 4 0 3 2 3 2 4 0 3-4 4 0 3 3 4 3 3-3 4-1 3-1 4 0 3-2 4 2 3 2 4 2 3 0 4-2 3 0 4 0 3 0 4 0 3-1 4 1 3 1 4 1 3 1 4 1 3 1 4-2 3-2 4 1 3-1 3 0 4-1 3 2 4-3 3 2 4 1 3 2 4-3 3-1 4-1 3 1 4-2 3-2 4 0 3 3 4 1 3 2 4-1 3 0 4 0 3 3 4 1 3-1 4-1 3 1 4 1 3 0 4 0 3-1 4-2 3-2 3 1 4 1 3-2 4 0 3 1 4 2 3 1 4 2 3-3 4-2 3 0 4 2 3 0 4 0 3-1 4-3 3 1 4 0 3 1 4 1 3 2 4-2 3-4 4 1 3 2 4 4 3 1 4-1 3-2 4 1 3 0 3-3 4 0 3 2 4 5 3 0 4-2 3-3 4 0 3-2 4-1 3-3 4-1 3 0 4-1 3-3 4-7 3-4 4-2 3 1 4 4 3 4 4 3 3 2 4 3 3 3 4 2 3 1 4 1 3-1 3 1 4 0 3 1 4 3 3-3 4-4 3-1 4 2 3 0 4-2 3 2 4 4 3 3 4 0 3-4 4-4 3 0 4 3 3 0 4-3 3 0 4 2 3 2 4-1 3 1 4 1 3 0 4 1 3 0 4-1 3-3 3-1 4 0 3 1 4-1 3 0 4 1 3 0 4 0 3 2 4 2 3 1 4-2 3 0 4-1 3-2 4-1 3 2 4 0 3-2 4-3 3 2 4 2 3 1 4 0 3 1 4 0 3-1 4 2 3 0 4 2 3-2 3-1 4-1 3 1 4-1 3 0 4 0 3 0 4 1 3 2 4 1 3 1 4 0 3 0 4 0 3-2 4-3 3 0 4 1 3-1 4-3 3 1 4 2 3 4 4-3 3 0 4-2 3 1 4-1 3 4 4 3 3 0 3-2 4-2 3-2 4 0 3 2 4 0 3-4 4-2 3 0 4 4 3 1 4 1 3-1 4 0 3 0 4 0 3-2 4-1 3-2 4 3 3 0 4 4 3 1 4-3 3-2 4 2 3 1 4 0 3-1 3 2 4 1 3-2 4-3 3-2 4 3 3 1 4 1 3 1 4 1 3 0 4 0 3-4 4 0 3 0 4 0 3-2 4 3 3-1 4-3 3 0 4 3 3 1 4-2 3 0 4 1 3 1 4 0 3 1 4-1 3-1 3 0 4 4 3-1 4 1 3-1 4 0 3-1 4-2 3-1 4-1 3 0 4 1 3 4 4 1 3-3 4-2 3 3 4 0 3-1 4 0 3 2 4-4 3 0 4 3 3 4 4 0 3-1 4 0 3-1 4-3 3-1" fill="none" stroke="#5858b2" stroke-width="13.5" stroke-linejoin="round" opacity="1"/>
<path transform="scale(0.1)" d="M375,2980l3 0 4-2 3-1 4-1 3 1 4 0 3 1 4-4 3-1 4 1 3 2 4 1 3-1 4-2 3-1 4-2 3 0 4 1 3 4 4 3 3 0 4-4 3-3 4 1 3 2 4 3 3 0 4 3 3-1 4-1 3-2 3 0 4-1 3 1 4 0 3-2 4-2 3 3 4 3 3 3 4 0 3-3 4-1 3-2 4-2 3-1 4 1 3 1 4 1 3 0 4 0 3 1 4-1 3-3 4 0 3 3 4 2 3 1 4-1 3-1 4-2 3-1 3 1 4 1 3-2 4-2 3 3 4 4 3 0 4 0 3-1 4 1 3-3 4-2 3-1 4 2 3 1 4 0 3 0 4-1 3-1 4 2 3 0 4-3 3-4 4 0 3 0 4 2 3-1 4-1 3 0 3 3 4 4 3 2 4 0 3-1 4-1 3 0 4-1 3-1 4-2 3 0 4 1 3 0 4 1 3 2 4 5 3 0 4-3 3-4 4-2 3-1 4-1 3 3 4 3 3 1 4-1 3-1 4 1 3 1 4-1 3 2 3 1 4 0 3-3 4-1 3 0 4 2 3 2 4-1 3-2 4-2 3 3 4 2 3-1 4-2 3-1 4-1 3 1 4 3 3 1 4-3 3 1 4 1 3 1 4-1 3 0 4-2 3-2 4-1 3-1 4 2 3 0 3 3 4 2 3 2 4-2 3-3 4 0 3 1 4-2 3-2 4 3 3 1 4 1 3-2 4-1 3-1 4 3 3 1 4 1 3-1 4 0 3 1 4 1 3-2 4-1 3 1 4 1 3 0 4 0 3-1 4-3 3 0 3-1 4 1 3 1 4 4 3 0 4-2 3-2 4-1 3-2 4-2 3 4 4 1 3 0 4 1 3 1 4-1 3-1 4 0 3-5 4-4 3 2 4 4 3 0 4 0 3 0 4 1 3 0 4-1 3 1 3 0 4 1 3-2 4 4 3 0 4-1 3 2 4 2 3 1 4-3 3-1 4 0 3-3 4-2 3-1 4 1 3-1 4-1 3 4 4 3 3-1 4-1 3 1 4 0 3-3 4-1 3 1 4 2 3 1 4 0 3-2 3 0 4 2 3 0 4-2 3 0 4 4 3 1 4-2 3-4 4-1 3 3 4 2 3 0 4-1 3-3 4-2 3 0 4 4 3 0 4-2 3 0 4 2 3 2 4 1 3 1 4-1 3-2 4 1 3 2 4 1 3-2 3-4 4 1 3 3 4 4 3 0 4-2 3-2 4 1 3 1 4-1 3-3 4 0 3 2 4 2 3 2 4 0 3-4 4-4 3 0 4 1 3 1 4-2 3 1 4 1 3 0 4 0 3 2 4 0 3-2 4-1 3 0 3-1 4-1 3 0 4-2 3 2 4 2 3 1 4 0 3 2 4 2 3-4 4-3 3-2 4-3 3-5 4-5 3 1 4-1 3 1 4 0 3 3 4 3 3 4 4 3 3 2 4 3 3-1 4-1 3-2 3 3 4 0 3 0 4-1 3 2 4 0 3-2 4 0 3 0 4 0 3-2 4 2 3 3 4 4 3 2 4-2 3-3 4-3 3 0 4 0 3-1 4-2 3 1 4 0 3 0 4 0 3 3 4 1 3 1 4 1 3 1 3-2 4 1 3-1 4-1 3-2 4 1 3 1 4-1 3-3 4 2 3 0 4 0 3 0 4 1 3-2 4-1 3 1 4 3 3 1 4-1 3-2 4-2 3 0 4-1 3 0 4 1 3 3 4 2 3-1 4-2 3 0 3 2 4-1 3-2 4-1 3 0 4-1 3 4 4 3 3 0 4-4 3 2 4 0 3 0 4-4 3-2 4 0 3 2 4 2 3 2 4-1 3-2 4-3 3 3 4 4 3 2 4-4 3-2 4 1 3 2 4-1 3 0 3 0 4 2 3 0 4-3 3 0 4-1 3 1 4-1 3 1 4 2 3-1 4 0 3 1 4 0 3 0 4-3 3-1 4 0 3 2 4 1 3 3 4-1 3 0 4-1 3 0 4-3 3 1 4-1 3 0 3-3 4 2 3 2 4 1 3-1 4 0 3-1 4 0 3 0 4 0 3 1 4 1 3 0 4 3 3 2 4-2 3-1 4 2 3-1 4-1 3-3 4 0 3-3 4 0 3 0 4 0 3 1 4 0 3 0 4 2 3 3 3 1 4-4 3-2 4 3 3 4 4-1 3-2 4-1 3 0 4 0 3-1 4 1 3 1 4 0 3-2 4 1 3 2 4-3 3-2 4-2 3 3 4 2 3 0 4-1 3 0 4 4 3 0 4-2 3-4 4 3 3 2" fill="none" stroke="#7070c0" stroke-width="13.5" stroke-linejoin="round" opacity="1"/>
<path transform="scale(0.1)" d="M375,3109l3-3 4-5 3-2 4 2 3 3 4 5 3 3 4 4 3-2 4-2 3-1 4-3 3-5 4-1 3 1 4 1 3 6 4-1 3 0 4-4 3 2 4-4 3 0 4 2 3-1 4 4 3-1 4 5 3-3 4 1 3-4 3-1 4 3 3 5 4 0 3-8 4-4 3 0 4 1 3 3 4 1 3 1 4-2 3 0 4-1 3-2 4-3 3 3 4 5 3 1 4 0 3 5 4 5 3-3 4-5 3-1 4-1 3 1 4-5 3-1 4 0 3 1 3 1 4 2 3 5 4-1 3 0 4-3 3-3 4-1 3-1 4-6 3-5 4 8 3 3 4-1 3-6 4 6 3 4 4 1 3 0 4-3 3-4 4-3 3 6 4 0 3-3 4-5 3 4 4-3 3 1 3-4 4 9 3 3 4 3 3 2 4 5 3 2 4-2 3 1 4 0 3-4 4-4 3-3 4 3 3 3 4-3 3-3 4 0 3 5 4-1 3-4 4-4 3 0 4 1 3 2 4 0 3 4 4 1 3-2 4 0 3 0 3 0 4 1 3 8 4 5 3-1 4-5 3-5 4-6 3-5 4 1 3 10 4 10 3 3 4-3 3-3 4-8 3 1 4 1 3 3 4-4 3 1 4-5 3-2 4 0 3 3 4-2 3-4 4 3 3 3 4 4 3-3 3-4 4-1 3 6 4 3 3 0 4-4 3-1 4-7 3-1 4 4 3 5 4-2 3-3 4 2 3 3 4 1 3 2 4-3 3-4 4 2 3 2 4-1 3-3 4 3 3-3 4 5 3 4 4-1 3-5 4 4 3 6 3-1 4-9 3 1 4 4 3 2 4-6 3-3 4-2 3-2 4 5 3 4 4 3 3-3 4-6 3-8 4-6 3-3 4 0 3 2 4 4 3 4 4 1 3-4 4 0 3 5 4 6 3 6 4-6 3-4 3-3 4 4 3 1 4 2 3 0 4-1 3-4 4 1 3 1 4 1 3-1 4-1 3-5 4 3 3 4 4 1 3-5 4 5 3 4 4 2 3-2 4 0 3 0 4 0 3-1 4-2 3 4 4-3 3-2 4-3 3 5 3-2 4 4 3-1 4 0 3 1 4 2 3-3 4-2 3 6 4 3 3-3 4-5 3 0 4 0 3 2 4-3 3-2 4 2 3 6 4 5 3-6 4-5 3 1 4 4 3-2 4-1 3 3 4 1 3-6 4-2 3 4 3 3 4 7 3 0 4 0 3-4 4-4 3-2 4 0 3 1 4-5 3 1 4 2 3 3 4 3 3 4 4-2 3-4 4 0 3 1 4 0 3-1 4 3 3-2 4 4 3-1 4 1 3-6 4 2 3 5 4 2 3-8 3-2 4 3 3 0 4-2 3 0 4 1 3-4 4-3 3-2 4 4 3 1 4 1 3-1 4-4 3-15 4-11 3-4 4 6 3 3 4 2 3 6 4 7 3 7 4 3 3 9 4-2 3-3 4-2 3 6 3 2 4-1 3-5 4-6 3 1 4 4 3 1 4 0 3 1 4 1 3-2 4-1 3 0 4 3 3 4 4 6 3-3 4-5 3-3 4 2 3 0 4-1 3 1 4 2 3-4 4-10 3-2 4 5 3 6 4 3 3-1 3-6 4-4 3 1 4 5 3-1 4-1 3 1 4 1 3 1 4 2 3 3 4-1 3 1 4-1 3-4 4-1 3 1 4-1 3-3 4-1 3-2 4 5 3 1 4 1 3-3 4 1 3-1 4 1 3 2 4 1 3-1 3 3 4 2 3-1 4-1 3 0 4 0 3 2 4-8 3-2 4 1 3 5 4 0 3 2 4 3 3 2 4-5 3-2 4 1 3 2 4-1 3-4 4 1 3-6 4 4 3 4 4 1 3-2 4 1 3 0 4-2 3 1 3 3 4-2 3-2 4-5 3-2 4 1 3 5 4-1 3 1 4 2 3 2 4-1 3 1 4 7 3 3 4-3 3-9 4 0 3 1 4 2 3-2 4-5 3-5 4-4 3 7 4 7 3 3 4-1 3-3 3-8 4-2 3 3 4 6 3-3 4 2 3 5 4 4 3 1 4-1 3-1 4-3 3-1 4-1 3-1 4-3 3 0 4 1 3-3 4-3 3-2 4 6 3 2 4 0 3 0 4 1 3-2 4-3 3 2 4 6 3 0 3-2 4-2 3-1 4 1 3 1 4-1 3-4 4-1 3-1 4 1 3 2 4 3 3-7 4 0 3 4 4 6 3 0 4 3 3-2 4-5 3-4 4 1 3 3 4 1 3-1 4 1 3 2 4 2 3 0 4 2 3-2" fill="none" stroke="#9a9ad2" stroke-width="17.0" stroke-linejoin="round" opacity="1"/>
<path transform="scale(0.1)" d="M375,3234l3 2 4 5 3 6 4-1 3-2 4-2 3 1 4-3 3 3 4-1 3 2 4-6 3-3 4-2 3 2 4-1 3-1 4 1 3-2 4-1 3 2 4 5 3 1 4-1 3 4 4-2 3 1 4 3 3 7 4-6 3-10 3-3 4 4 3 3 4 0 3-1 4 3 3-1 4-2 3 3 4 3 3-1 4-6 3 1 4 4 3 3 4-3 3-2 4 1 3-2 4-1 3 2 4 2 3-2 4-5 3 1 4 5 3 3 4-4 3-1 4 3 3-1 3-4 4-1 3 1 4 3 3 2 4-3 3-1 4-3 3 4 4-7 3 3 4-3 3 5 4-1 3 3 4-1 3-5 4-2 3 3 4 4 3-3 4 0 3 2 4 0 3-4 4-1 3 1 4 3 3 0 3-2 4 3 3 4 4 1 3-2 4-6 3-2 4 1 3 0 4-2 3 1 4 1 3 0 4 1 3 1 4 0 3 2 4 4 3 2 4-6 3-3 4-1 3 1 4 0 3 9 4 2 3-2 4-2 3 0 4-1 3-4 3 2 4 0 3 2 4-3 3-1 4 2 3 3 4-1 3-2 4 3 3-1 4-1 3-5 4 2 3 0 4 3 3-1 4-6 3-1 4-2 3 3 4 1 3 3 4-2 3-3 4 5 3 2 4 2 3-2 4 1 3-1 3-4 4-3 3 5 4 2 3-1 4-3 3 7 4 0 3 0 4-5 3-1 4-2 3 2 4 6 3 0 4-3 3-3 4 4 3 2 4 4 3 2 4-2 3-8 4-5 3-2 4 4 3 1 4 2 3-4 4-1 3-1 3 4 4 0 3 1 4 6 3 2 4-9 3-1 4 4 3 5 4-2 3 2 4-4 3-1 4-1 3 3 4-2 3-1 4-1 3 1 4 2 3 0 4 2 3-1 4 0 3-3 4 1 3 1 4-1 3-1 3 0 4 2 3 1 4-1 3 0 4 2 3-3 4-2 3-1 4 2 3 3 4 2 3-1 4-4 3-1 4 2 3 1 4 0 3-1 4 1 3 1 4-2 3-1 4 3 3 0 4-4 3-4 4 2 3 4 4 4 3-3 3-1 4-2 3-2 4-1 3 0 4 2 3 2 4 2 3 1 4-1 3-3 4-3 3 5 4 7 3 0 4-6 3 0 4 1 3 1 4-1 3-2 4-1 3 1 4 2 3 0 4 1 3 1 4-1 3-6 4 4 3-2 3 0 4-4 3 7 4-1 3 0 4-2 3 2 4 0 3-1 4 0 3 1 4 2 3 2 4 0 3-2 4-2 3 3 4 1 3-1 4-3 3-1 4 2 3-1 4-3 3-4 4 1 3-1 4 0 3-1 4 1 3 2 3 1 4 2 3 2 4 0 3 0 4 5 3 3 4-1 3-8 4 2 3 1 4-3 3-2 4 0 3 2 4-3 3-2 4-1 3 2 4 4 3 1 4-5 3-1 4 1 3 4 4-4 3 0 4 5 3 4 3-3 4-3 3 3 4 1 3 2 4 0 3-2 4-2 3-2 4 1 3-1 4 1 3-2 4-2 3 2 4-1 3-1 4-3 3 1 4 2 3 3 4 2 3-2 4-4 3-4 4-7 3-1 4 1 3 7 4 7 3 4 3 0 4 1 3 1 4-2 3-3 4-2 3-1 4-1 3 0 4 1 3 1 4 0 3-3 4 3 3 5 4-3 3-5 4-1 3 6 4 2 3 5 4-3 3 2 4-6 3 1 4-2 3 2 4-1 3 3 4 1 3-1 3-8 4 0 3 1 4 5 3-3 4-5 3-1 4 2 3 4 4 5 3-1 4-1 3 0 4 6 3 0 4-3 3-3 4 2 3 1 4-3 3 3 4 6 3 0 4-5 3-2 4-4 3-1 4 1 3-1 4-4 3 0 3 1 4 6 3-2 4 0 3-1 4 5 3 1 4-5 3-4 4 0 3 4 4 2 3 3 4 1 3 1 4-1 3-2 4-2 3 4 4-1 3-2 4-4 3 3 4 2 3 1 4-4 3 0 4 0 3 1 3-3 4 3 3 4 4 0 3-2 4-4 3 0 4 3 3 4 4 1 3-5 4-3 3-2 4 1 3-1 4 1 3 0 4 4 3 3 4 0 3-2 4-3 3-5 4-1 3 1 4 7 3 2 4 0 3-3 4-1 3 0 3 3 4-2 3-3 4 0 3 7 4 4 3-3 4-2 3-1 4-2 3-4 4-2 3 4 4 8 3 2 4-3 3-2 4 3 3 0 4-3 3 0 4 3 3-1 4-6 3 1 4 8 3 1 4-7 3-9 4-1 3 2" fill="none" stroke="#b0b0de" stroke-width="17.0" stroke-linejoin="round" opacity="1"/>
<text x="164.90" y="231.70" font-size="8.9" text-anchor="start" font-weight="normal" fill="#2828a0">5×10<tspan dy="-3.3" font-size="6">-5</tspan><tspan dy="3.3"> M</tspan></text>
<text x="164.90" y="244.40" font-size="8.9" text-anchor="start" font-weight="normal" fill="#2828a0">5×10<tspan dy="-3.3" font-size="6">-6</tspan><tspan dy="3.3"> M</tspan></text>
<text x="164.90" y="257.10" font-size="8.9" text-anchor="start" font-weight="normal" fill="#2828a0">5×10<tspan dy="-3.3" font-size="6">-7</tspan><tspan dy="3.3"> M</tspan></text>
<text x="164.90" y="269.60" font-size="8.9" text-anchor="start" font-weight="normal" fill="#2828a0">5×10<tspan dy="-3.3" font-size="6">-8</tspan><tspan dy="3.3"> M</tspan></text>
<text x="164.90" y="282.60" font-size="8.9" text-anchor="start" font-weight="normal" fill="#2828a0">5×10<tspan dy="-3.3" font-size="6">-10</tspan><tspan dy="3.3"> M</tspan></text>
<text x="164.90" y="295.10" font-size="8.9" text-anchor="start" font-weight="normal" fill="#2828a0">5×10<tspan dy="-3.3" font-size="6">-11</tspan><tspan dy="3.3"> M</tspan></text>
<text x="164.90" y="308.80" font-size="8.9" text-anchor="start" font-weight="normal" fill="#2828a0">5×10<tspan dy="-3.3" font-size="6">-12</tspan><tspan dy="3.3"> M</tspan></text>
<text x="164.90" y="322.30" font-size="8.9" text-anchor="start" font-weight="normal" fill="#2828a0">5×10<tspan dy="-3.3" font-size="6">-13</tspan><tspan dy="3.3"> M</tspan></text>
<text x="45.50" y="308.80" font-size="8.9" text-anchor="start" font-weight="bold" fill="#2828a0">×4</text>
<text x="45.50" y="322.30" font-size="8.9" text-anchor="start" font-weight="bold" fill="#2828a0">×4</text>
<path d="M44.60,222.20 C43.82,221.16 41.74,219.60 41.74,218.46 C41.74,216.74 44.34,216.74 44.60,218.30 C44.86,216.74 47.46,216.74 47.46,218.46 C47.46,219.60 45.38,221.16 44.60,222.20 Z" fill="#000"/>
<path d="M66.60,218.50 C65.82,217.46 63.74,215.90 63.74,214.76 C63.74,213.04 66.34,213.04 66.60,214.60 C66.86,213.04 69.46,213.04 69.46,214.76 C69.46,215.90 67.38,217.46 66.60,218.50 Z" fill="#000"/>
<path d="M91.30,225.70 C90.52,224.66 88.44,223.10 88.44,221.96 C88.44,220.24 91.04,220.24 91.30,221.80 C91.56,220.24 94.16,220.24 94.16,221.96 C94.16,223.10 92.08,224.66 91.30,225.70 Z" fill="#000"/>
<path d="M107.80,212.40 C107.02,211.36 104.94,209.80 104.94,208.66 C104.94,206.94 107.54,206.94 107.80,208.50 C108.06,206.94 110.66,206.94 110.66,208.66 C110.66,209.80 108.58,211.36 107.80,212.40 Z" fill="#000"/>
<path d="M128.50,224.70 C127.72,223.66 125.64,222.10 125.64,220.96 C125.64,219.24 128.24,219.24 128.50,220.80 C128.76,219.24 131.36,219.24 131.36,220.96 C131.36,222.10 129.28,223.66 128.50,224.70 Z" fill="#000"/>
<path d="M150.40,193.70 C149.62,192.66 147.54,191.10 147.54,189.96 C147.54,188.24 150.14,188.24 150.40,189.80 C150.66,188.24 153.26,188.24 153.26,189.96 C153.26,191.10 151.18,192.66 150.40,193.70 Z" fill="#000"/>
<rect x="265.5" y="186.4" width="179.89999999999998" height="144.29999999999998" fill="none" stroke="#939393" stroke-width="1"/>
<line x1="265.5" y1="330.7" x2="445.4" y2="330.7" stroke="#c4c4c4" stroke-width="1.2"/>
<line x1="265.50" y1="330.7" x2="265.50" y2="332.9" stroke="#939393" stroke-width="1"/>
<line x1="283.49" y1="330.7" x2="283.49" y2="331.9" stroke="#939393" stroke-width="1"/>
<line x1="301.48" y1="330.7" x2="301.48" y2="332.9" stroke="#939393" stroke-width="1"/>
<line x1="319.47" y1="330.7" x2="319.47" y2="331.9" stroke="#939393" stroke-width="1"/>
<line x1="337.46" y1="330.7" x2="337.46" y2="332.9" stroke="#939393" stroke-width="1"/>
<line x1="355.45" y1="330.7" x2="355.45" y2="331.9" stroke="#939393" stroke-width="1"/>
<line x1="373.44" y1="330.7" x2="373.44" y2="332.9" stroke="#939393" stroke-width="1"/>
<line x1="391.43" y1="330.7" x2="391.43" y2="331.9" stroke="#939393" stroke-width="1"/>
<line x1="409.42" y1="330.7" x2="409.42" y2="332.9" stroke="#939393" stroke-width="1"/>
<line x1="427.41" y1="330.7" x2="427.41" y2="331.9" stroke="#939393" stroke-width="1"/>
<line x1="445.40" y1="330.7" x2="445.40" y2="332.9" stroke="#939393" stroke-width="1"/>
<text x="265.50" y="343.30" font-size="10.2" text-anchor="middle" font-weight="normal" fill="#111">1000</text>
<text x="301.48" y="343.30" font-size="10.2" text-anchor="middle" font-weight="normal" fill="#111">1200</text>
<text x="337.46" y="343.30" font-size="10.2" text-anchor="middle" font-weight="normal" fill="#111">1400</text>
<text x="373.44" y="343.30" font-size="10.2" text-anchor="middle" font-weight="normal" fill="#111">1600</text>
<text x="409.42" y="343.30" font-size="10.2" text-anchor="middle" font-weight="normal" fill="#111">1800</text>
<text x="445.40" y="343.30" font-size="10.2" text-anchor="middle" font-weight="normal" fill="#111">2000</text>
<text x="355.20" y="355.60" font-size="10.8" text-anchor="middle" font-weight="normal" fill="#111">Raman shift (cm<tspan dy="-3.6" font-size="6.5">-1</tspan><tspan dy="3.6">)</tspan></text>
<text x="260.00" y="256.00" font-size="11.0" text-anchor="middle" font-weight="normal" fill="#111" transform="rotate(-90 260 256)">Intensity (arb. units)</text>
<text x="269.90" y="199.30" font-size="8.8" text-anchor="start" font-weight="bold" fill="#000">MB/WO<tspan dy="2.4" font-size="6" font-style="italic">3-x</tspan><tspan dy="-2.4">/WSe</tspan><tspan dy="2.4" font-size="6">2</tspan></text>
<path transform="scale(0.1)" d="M2655,2478l3-3 4-1 3 1 4 3 3 2 4 1 3 0 4-3 3-4 4-3 3-1 4-2 3-4 4-8 3-14 3-17 4-16 3-15 4-12 3-12 4-2 3 5 4 10 3 17 4 20 3 19 4 8 3 10 4 8 3 4 3 1 4 5 3 2 4-3 3-4 4 3 3 5 4 4 3 0 4-5 3-5 4 5 3 5 4 0 3-4 3-2 4 1 3 2 4 0 3-5 4-2 3-1 4 0 3 1 4 0 3-1 4 1 3 0 4-6 3-7 3-3 4-1 3 2 4-2 3-6 4-5 3-2 4-7 3-12 4-10 3-10 4-7 3-7 4-4 3-8 3-11 4-9 3-6 4-4 3-3 4-2 3 2 4 6 3 8 4 5 3 1 4-3 3 0 3 1 4-1 3-3 4 2 3 4 4 9 3 13 4 17 3 13 4 7 3 3 4 10 3 9 4 10 3 7 3 4 4 2 3 0 4-1 3-1 4-3 3 0 4-3 3-3 4-7 3-5 4-2 3-4 4-4 3 2 3 8 4 8 3 5 4 3 3 5 4 4 3 1 4-1 3 3 4 3 3 1 4 3 3-2 4-1 3-2 3 3 4-2 3-1 4 2 3 0 4 1 3 0 4-2 3-3 4-1 3 3 4 2 3-1 4-1 3-6 3-7 4-6 3-11 4-15 3-18 4-13 3-8 4 1 3 8 4 11 3 10 4 8 3 12 4 8 3 6 3 1 4 2 3-2 4-3 3-7 4-4 3-2 4-1 3 0 4 3 3 7 4 5 3 2 4 2 3 1 3 4 4 5 3 5 4 1 3-1 4-2 3-2 4-4 3 0 4 2 3 3 4-3 3-1 4-4 3-2 3-10 4-10 3-15 4-13 3-18 4-21 3-26 4-31 3-30 4-25 3-19 4-12 3 5 4 19 3 24 3 27 4 28 3 28 4 18 3 13 4 4 3 4 4-3 3-11 4-17 3-19 4-23 3-19 4-10 3-1 3 4 4 14 3 16 4 21 3 20 4 21 3 17 4 15 3 11 4 5 3 4 4 2 3 1 4 0 3-1 3-4 4-5 3-5 4-5 3-5 4-1 3 3 4 6 3 1 4 1 3 1 4-1 3-3 4-1 3-8 3-10 4-9 3-9 4-10 3-7 4 0 3 1 4 4 3 8 4 10 3 10 4 11 3 9 3 7 4 5 3 9 4 9 3 9 4 4 3 2 4 0 3 1 4-2 3 1 4 0 3 0 4 4 3 4 3 0 4-4 3-2 4 2 3-1 4 0 3 1 4 2 3-2 4-2 3-1 4 1 3 4 4-1 3 2 3-1 4 4 3-1 4-2 3-7 4 0 3 4 4 3 3-4 4-6 3-3 4 1 3 2 4-1 3-5 3-3 4-4 3-7 4-8 3-14 4-26 3-42 4-53 3-63 4-76 3-82 4-68 3-35 4 7 3 47 3 74 4 81 3 73 4 61 3 48 4 31 3 22 4 14 3 12 4 9 3 6 4 1 3-2 4 1 3 2 3-1 4-1 3 1 4 4 3 0 4-2 3 0 4 2 3 2 4 2 3-3 4-1 3 3 4 1 3 0 3 2 4 1 3-2 4-1 3 3 4-2 3-1 4 2 3-2 4-2 3-2 4 3 3 1 4-1 3 0 3-1 4 1 3 1 4 1 3 2 4-1 3 2 4 3 3 0 4-1 3-2 4 0 3 1 4 2 3-3 3-3 4-1 3 3 4 4 3 5 4-1 3-5 4-2 3 1 4 3 3-3 4 1 3 3 4 2 3-3 3-3 4-3 3 1 4 1 3 3 4-5 3-1 4 2 3 3 4-1 3-4 4 0 3 3 4 2 3 0 3-1 4 1 3 0 4-1 3-2 4-1 3 0 4 0 3-1 4 1 3 2 4-2 3 1 4 1 3-1 3-2 4 0 3 1 4 0 3 1 4-1 3 0 4 1 3 2 4 0 3-4 4-3 3 0 3 5 4 0 3 0 4 1 3 2 4 0 3 0 4 1 3-1 4 1 3-2 4-2 3-1 4 3 3 0 3-1 4 0 3 1 4 0 3 1 4-1 3-1 4 0 3 1 4 2 3-1 4-2 3-4 4 2 3-1 3 1 4-2 3 4 4 1 3 1 4-1 3 1 4-2 3-1 4 0 3 0 4-2 3 1 4 3 3 3 3-1 4 1 3 0 4-1 3-3 4 5 3 3 4 0 3-4 4-2 3 0 4 1 3 0 4-4 3 0 3 2 4 4 3 0 4-1 3-5 4 0 3 1 4 3 3-1 4-5 3-2 4 4 3 4 4-2 3-1" fill="none" stroke="#0a0a80" stroke-width="16.0" stroke-linejoin="round" opacity="1"/>
<path transform="scale(0.1)" d="M2655,2581l3 2 4-1 3 1 4-1 3 4 4 2 3-1 4-4 3-3 4-2 3 3 4 3 3-4 4-8 3-9 3-5 4-2 3-2 4-6 3-4 4 2 3 4 4 4 3 3 4 4 3 3 4 6 3 4 4 3 3 2 3 4 4 1 3-3 4-1 3 1 4 2 3 0 4 1 3-1 4-1 3-1 4 0 3 2 4 1 3 3 3-1 4-1 3-2 4 0 3-2 4-3 3 1 4 1 3 4 4 0 3 1 4-3 3 0 4 1 3-1 3-2 4-1 3-2 4-4 3-3 4 0 3-1 4-1 3-2 4-1 3-4 4-4 3-4 4-2 3-4 3-5 4-2 3 0 4 1 3-1 4-2 3-2 4-1 3 3 4 2 3 0 4 0 3 3 3 5 4 0 3-1 4 0 3 2 4 0 3 4 4 6 3 5 4 0 3 5 4 5 3 3 4-3 3 2 3 7 4 5 3-2 4-6 3-5 4-1 3 2 4 1 3-2 4-2 3 0 4-4 3 0 4 2 3 3 3 0 4 1 3 4 4 1 3-2 4-2 3 1 4 0 3 5 4 5 3 3 4-2 3 0 4-1 3-1 3 0 4 3 3 0 4-3 3-3 4-2 3 1 4 0 3 0 4 0 3-2 4 1 3 3 4 2 3-2 3-5 4-4 3-4 4-3 3-7 4-5 3-4 4 1 3 4 4 4 3 1 4 5 3 6 4 4 3-1 3-1 4 0 3 0 4 0 3-2 4-1 3-1 4-1 3-1 4-1 3 1 4 2 3 5 4 5 3 0 3-2 4 0 3-1 4 0 3 2 4 3 3-1 4-1 3 0 4 4 3-1 4-4 3-5 4 1 3 3 3-2 4-7 3-5 4-3 3-6 4-7 3-6 4-7 3-10 4-14 3-9 4-2 3 4 4 6 3 9 3 13 4 9 3 5 4 4 3 8 4 4 3-2 4-4 3-3 4-4 3-8 4-7 3-6 4-3 3-2 3 3 4 5 3 5 4 7 3 8 4 5 3 4 4 2 3 1 4 2 3 4 4 0 3 0 4 3 3 3 3 0 4 0 3-3 4-4 3-3 4-1 3 0 4 3 3 1 4 1 3 2 4-1 3-2 4-3 3-3 3-5 4-1 3 0 4-1 3-5 4-4 3 1 4 3 3 4 4 0 3 0 4 6 3 6 3 7 4 0 3 0 4 2 3 4 4 1 3-2 4 1 3 2 4 2 3-2 4 0 3 1 4 2 3 4 3-1 4-4 3 0 4 2 3 0 4-4 3 3 4 0 3 1 4-4 3 1 4 0 3 2 4-1 3-2 3-1 4 0 3-1 4-1 3 0 4 2 3 1 4 0 3-1 4-1 3-1 4 0 3 0 4-1 3-1 3 1 4 0 3-3 4-4 3-6 4-4 3-12 4-13 3-19 4-22 3-25 4-23 3-14 4 0 3 15 3 21 4 23 3 23 4 23 3 15 4 8 3 5 4 5 3 2 4 2 3 2 4 1 3 0 4 2 3 2 3 1 4-3 3-4 4 0 3 5 4 5 3 0 4 0 3-1 4 0 3-1 4-1 3-4 4-2 3-1 3 0 4 3 3 2 4 3 3-1 4-2 3 1 4-1 3-2 4 0 3 2 4 3 3 5 4 2 3-3 3-4 4 1 3 2 4-3 3-3 4-2 3 4 4 0 3-1 4-2 3 2 4 2 3 2 4 0 3 0 3-1 4 0 3-1 4-2 3 0 4 2 3 2 4 1 3 0 4 1 3 3 4 0 3-6 4-2 3 1 3 1 4-2 3 1 4-2 3-2 4 3 3 3 4 0 3-5 4 1 3 0 4-2 3-3 4-1 3 1 3 2 4 1 3 3 4-1 3 0 4-2 3 4 4-1 3 4 4 1 3 1 4-1 3 3 4 1 3-2 3-3 4-2 3 1 4 1 3 1 4 2 3-1 4 2 3-1 4-2 3-6 4-3 3 1 3 4 4 1 3-1 4-2 3 3 4 1 3-2 4-4 3 2 4 1 3 1 4 0 3-1 4-1 3 1 3 1 4 1 3 2 4 0 3-1 4-2 3 3 4-1 3-1 4-4 3 4 4 5 3 0 4-6 3-2 3 2 4 0 3 0 4 1 3 1 4-1 3-3 4 2 3 2 4-2 3-1 4 1 3 1 4-2 3-3 3 1 4 1 3 1 4 2 3 2 4 0 3-3 4 2 3 0 4-3 3-1 4 2 3 2 4-2 3-4 3 0 4 5 3 4 4 0 3-1 4-2 3 0 4 1 3-1 4 0 3-2 4-2 3-3 4 6 3 2" fill="none" stroke="#1e1e90" stroke-width="16.0" stroke-linejoin="round" opacity="1"/>
<path transform="scale(0.1)" d="M2655,2704l3 1 4-1 3-4 4 0 3-1 4-1 3-2 4 3 3 1 4-3 3-5 4-1 3-1 4 2 3 1 3 3 4-1 3-4 4-5 3-1 4-2 3 1 4 1 3 5 4 0 3-1 4 3 3 6 4-1 3-1 3-1 4 0 3 3 4 1 3 1 4-1 3 3 4-1 3-3 4-1 3 2 4-1 3-2 4-4 3 0 3 0 4-1 3 1 4 2 3 2 4 0 3 0 4 3 3 2 4 0 3 0 4 2 3-2 4-3 3 0 3 1 4-2 3 0 4 1 3-1 4-1 3-2 4-4 3-3 4-2 3-1 4-2 3 0 4 1 3-1 3-1 4 0 3 0 4-2 3-2 4 1 3 5 4 0 3-2 4 1 3 2 4 0 3-3 3 1 4-2 3 0 4 0 3 2 4 0 3 3 4 1 3 2 4 1 3 3 4 3 3 1 4-1 3 1 3 0 4 0 3-2 4-1 3 1 4 0 3-2 4-1 3 2 4 2 3-1 4-1 3 1 4 3 3 1 3 2 4 0 3 0 4-2 3-1 4 2 3 2 4-1 3 0 4 1 3 1 4 0 3 1 4-3 3 0 3 0 4 1 3-3 4-3 3 2 4 1 3 0 4-3 3 0 4 1 3 2 4 2 3-2 4-3 3-1 3 1 4-2 3-2 4-1 3 1 4-2 3-2 4-2 3-1 4 3 3 4 4 4 3 2 4 2 3 0 3 0 4-4 3 0 4-1 3-3 4-2 3 2 4 2 3 0 4 2 3 0 4-1 3 0 4 3 3 2 3 1 4 1 3 2 4-2 3-2 4-2 3-1 4-1 3 1 4 3 3 1 4-1 3-2 4 1 3 3 3-2 4-2 3-5 4-3 3-3 4-2 3-5 4-5 3-3 4-3 3-3 4-2 3 1 4 1 3 2 3 5 4 5 3 6 4 2 3 2 4 1 3 2 4-1 3-2 4-7 3-4 4-2 3 1 4-2 3-1 3-2 4 1 3 2 4 3 3 5 4 6 3 4 4 3 3-1 4 0 3-1 4 3 3 1 4 0 3-4 3-1 4-1 3 2 4-1 3 1 4 1 3-2 4 1 3 0 4 1 3 0 4 2 3 2 4-1 3-2 3-4 4-2 3-3 4 1 3-1 4-1 3 1 4 2 3-2 4-1 3 4 4 3 3-1 3 1 4 1 3 4 4 2 3 4 4-3 3-1 4-5 3 0 4 1 3 5 4 3 3 1 4-3 3 0 3 3 4 1 3-4 4-2 3 1 4-1 3-3 4 3 3 3 4 1 3-3 4 0 3 1 4 1 3-1 3 0 4 3 3 2 4-2 3-2 4 2 3 2 4-1 3-3 4-2 3 0 4-2 3-2 4 1 3 4 3-2 4-2 3-2 4 0 3-3 4-4 3-6 4-8 3-8 4-11 3-11 4-13 3-8 4 0 3 9 3 14 4 10 3 8 4 9 3 9 4 4 3 2 4 6 3 6 4 1 3-2 4 0 3-2 4 1 3-2 3 2 4-1 3 1 4-2 3-2 4-2 3 1 4 4 3 4 4 6 3-2 4-5 3-5 4 3 3-1 3 1 4-1 3 5 4 1 3-1 4-4 3 0 4 3 3-1 4 1 3 0 4 3 3-3 4 1 3-3 3 1 4 1 3 1 4 1 3 0 4 1 3 0 4-2 3-1 4-2 3-1 4-1 3 3 4 1 3-1 3-4 4 0 3-1 4 3 3 3 4 0 3-2 4 3 3 1 4 0 3-5 4-2 3 0 4 5 3 3 3 0 4-1 3-3 4 0 3 0 4 2 3-2 4 1 3 1 4 0 3-2 4 1 3 1 4 0 3-4 3 1 4 0 3 0 4 0 3 0 4-1 3-2 4 1 3 0 4 0 3 2 4 3 3 1 4 0 3-1 3-4 4 0 3 2 4 2 3-3 4-2 3 2 4 2 3 2 4-2 3-3 4-1 3 2 3 1 4 2 3 1 4 0 3 0 4 2 3 3 4-2 3-3 4-1 3 2 4 3 3-1 4-1 3 0 3 1 4-5 3-3 4 1 3 4 4-2 3-2 4-1 3 4 4 1 3-3 4-3 3 0 4 2 3 0 3 0 4-1 3 2 4 1 3 2 4 0 3 0 4-1 3-4 4 0 3 3 4 1 3-1 4-2 3 2 3-2 4 1 3 0 4-1 3 2 4 3 3 1 4-4 3 0 4 1 3 1 4-1 3-1 4 0 3-3 3-1 4 2 3 3 4 0 3 0 4 0 3 1 4 2 3 1 4-4 3-3 4 0 3 2 4 1 3-1" fill="none" stroke="#2c2c9c" stroke-width="15.0" stroke-linejoin="round" opacity="1"/>
<path transform="scale(0.1)" d="M2655,2809l3 0 4 4 3 0 4 2 3-3 4-2 3-3 4 0 3 0 4 2 3 2 4-2 3-1 4 1 3 2 3 0 4-1 3-1 4-1 3 0 4 1 3 0 4 1 3 0 4-2 3 0 4 1 3-2 4-1 3 4 3 4 4-4 3-5 4 1 3 3 4 1 3 0 4 3 3-1 4 0 3-2 4 0 3-3 4-2 3 2 3 4 4-1 3 0 4 1 3 1 4 0 3 2 4 2 3-2 4-2 3-3 4 0 3-1 4 1 3-1 3 1 4 1 3 0 4-3 3-4 4 1 3 3 4 5 3 4 4 2 3-4 4-4 3 2 4 0 3-2 3-2 4 1 3-1 4-1 3 1 4 1 3 1 4-4 3 1 4-2 3 0 4-3 3 3 3 0 4 1 3 1 4 2 3 1 4 0 3 1 4 1 3 0 4-1 3-1 4 2 3-1 4-1 3-1 3 1 4 1 3-1 4 0 3 0 4 2 3 2 4 0 3-4 4-4 3-2 4 1 3 0 4 3 3 1 3-1 4-3 3 1 4 4 3-1 4 0 3-1 4 2 3-1 4-1 3-2 4 0 3 2 4 1 3 1 3-1 4-2 3-1 4 3 3 3 4 0 3-2 4 1 3 0 4-4 3-1 4 3 3 0 4-1 3 1 3 1 4-1 3-1 4-1 3 3 4-1 3 0 4-2 3 0 4 1 3-2 4 1 3 1 4 4 3 1 3 0 4 0 3 0 4 1 3-1 4-2 3-3 4 2 3 1 4 0 3-5 4-2 3 3 4 4 3 0 3-3 4-1 3 1 4 1 3 1 4 0 3-1 4 0 3-1 4 4 3 1 4-2 3-5 4-2 3 2 3 3 4 2 3-2 4 0 3 1 4 3 3-2 4-2 3-3 4-1 3-2 4-2 3 1 4 4 3 3 3 0 4-3 3-2 4 3 3 3 4 0 3 0 4 2 3 0 4-4 3-5 4-2 3 2 4 1 3-1 3 0 4 1 3 2 4 0 3 1 4 0 3 0 4-2 3 1 4 1 3 3 4 1 3 0 4 1 3 0 3 0 4 0 3-1 4-1 3-1 4-2 3-3 4 0 3 1 4 2 3-3 4-1 3-1 4 3 3 3 3 0 4-1 3 0 4 0 3 1 4 3 3 2 4 0 3-2 4-1 3 0 4 2 3-2 3-2 4 0 3 2 4-2 3-2 4 1 3 1 4 0 3 1 4 3 3 2 4-3 3-4 4-1 3 0 3 0 4 0 3 4 4 2 3 0 4-3 3-3 4 2 3 4 4 0 3-2 4 0 3 0 4-2 3-2 3 1 4 0 3 1 4 1 3 3 4-2 3-5 4-1 3 2 4 2 3-1 4-1 3-1 4 2 3 2 3 2 4 3 3 0 4-1 3-4 4-1 3-1 4-1 3-4 4-5 3-2 4-1 3-2 4-2 3 1 3 3 4 3 3 3 4 0 3 2 4 3 3 3 4-1 3 1 4 2 3 2 4 0 3-1 4-3 3 2 3-1 4-1 3 0 4 1 3 1 4 1 3 2 4 1 3-1 4-3 3-2 4 1 3 1 4 2 3-1 3-2 4-2 3 0 4 2 3 1 4 2 3 2 4 0 3-2 4-3 3-1 4 1 3 3 4 1 3-2 3-2 4 2 3 1 4-1 3-4 4 1 3 0 4 1 3 1 4 1 3 0 4 1 3 0 4-3 3-2 3 3 4 3 3 0 4 1 3 1 4-1 3-5 4-3 3 1 4 2 3 2 4 2 3-1 4-2 3-2 3 1 4 1 3-1 4 4 3 1 4-2 3-1 4 1 3 2 4 0 3-2 4-2 3-1 4 0 3 0 3-3 4 0 3 2 4 4 3-2 4 0 3 2 4 0 3-3 4-1 3 0 4 1 3-1 4 1 3-1 3 2 4 0 3 0 4-4 3 0 4-1 3 2 4-2 3 1 4 1 3 5 4 2 3-1 3-4 4-2 3 1 4 0 3 1 4 1 3-1 4-2 3 0 4 2 3 1 4 0 3 0 4 1 3 0 3 0 4 1 3-1 4-4 3-4 4 1 3 4 4 1 3-1 4-2 3 2 4 4 3 3 4-2 3-2 3 0 4 2 3-2 4 0 3 0 4-1 3-2 4 2 3 1 4 3 3-1 4-1 3 0 4 1 3-2 3-2 4-1 3-1 4 1 3 1 4 1 3 1 4 0 3-1 4-1 3 1 4 0 3 0 4-1 3-2 3 5 4 1 3-1 4-3 3 3 4 1 3 0 4-2 3 0 4 0 3 1 4-1 3 1 4-1 3-1" fill="none" stroke="#4444a8" stroke-width="13.5" stroke-linejoin="round" opacity="1"/>
<path transform="scale(0.1)" d="M2655,2911l3 2 4 3 3 0 4-1 3-1 4 1 3-1 4 1 3 0 4-1 3-2 4 0 3 0 4-1 3 1 3 2 4 1 3-2 4 1 3-1 4 2 3-2 4-1 3-3 4 2 3 4 4 4 3-1 4-5 3-3 3-1 4 3 3 2 4 2 3-2 4-1 3 1 4-1 3 0 4 0 3 4 4-1 3-1 4-4 3 2 3 5 4 1 3-5 4-3 3 2 4 1 3 2 4 4 3 1 4-4 3-2 4 1 3 1 4 0 3 1 3-3 4-2 3-1 4 2 3 0 4 0 3-1 4 1 3 0 4 0 3-2 4 2 3 1 4 2 3-4 3-1 4-1 3 4 4 1 3 1 4-1 3-1 4-3 3 0 4-2 3 2 4-1 3 2 3 0 4 1 3 0 4-1 3 1 4 0 3 1 4-2 3 2 4-1 3 1 4 0 3 2 4 0 3-2 3-5 4 2 3 2 4 1 3-5 4 0 3 1 4 0 3-1 4 1 3 2 4 0 3-2 4 0 3 0 3 4 4 0 3 1 4-4 3-1 4-1 3 1 4 1 3 3 4 2 3 1 4-3 3 0 4-1 3 2 3-1 4-1 3-1 4 2 3-1 4 1 3-1 4 5 3-1 4-2 3-5 4 0 3 0 4 3 3 1 3 1 4-1 3 0 4 0 3-1 4-2 3 0 4 2 3 0 4-1 3-2 4 0 3 0 4 3 3-1 3 1 4 0 3 2 4-1 3 1 4 0 3-1 4-1 3-2 4-2 3-2 4 1 3 3 4 0 3-1 3 3 4 3 3-1 4-2 3 2 4 0 3 0 4-1 3 0 4 0 3-1 4-1 3-2 4 0 3 2 3 2 4-2 3-4 4 0 3 2 4 2 3-1 4 2 3 2 4-1 3-3 4-3 3 1 4 1 3 1 3 0 4 3 3 3 4-1 3-4 4 0 3-1 4 4 3-1 4 0 3-3 4 2 3 0 4 1 3-2 3 0 4-1 3 0 4 0 3 2 4 1 3 0 4 1 3-1 4 1 3-1 4 1 3 0 4 1 3-3 3-3 4-1 3 2 4 1 3-1 4-1 3-2 4 0 3 4 4 3 3-1 4-1 3-1 4-3 3-1 3 1 4 0 3 0 4 1 3-1 4 1 3 1 4 0 3 0 4 1 3 0 4-2 3-1 3 2 4 2 3 0 4-3 3 0 4 1 3 3 4 2 3-2 4-1 3-1 4 2 3 2 4 1 3 0 3-5 4 0 3 1 4 3 3-1 4-3 3-1 4 0 3 2 4 0 3-1 4 2 3 3 4-2 3-2 3 0 4 1 3-1 4 0 3-1 4 1 3 2 4 1 3-1 4-3 3-3 4-1 3 0 4 1 3-1 3 0 4 3 3 2 4 1 3-1 4-2 3-4 4-1 3 2 4-1 3-5 4-3 3 0 4 1 3-1 3 5 4 5 3 1 4-1 3 2 4 3 3-1 4-2 3-1 4 0 3 1 4 1 3-1 4-1 3 0 3 2 4 3 3 2 4 0 3-3 4 1 3 2 4-2 3-7 4 1 3 4 4 0 3 0 4 0 3 2 3-1 4-1 3-3 4 1 3 3 4 3 3-2 4-2 3-3 4 0 3 1 4 2 3-4 4 0 3 0 3 4 4 2 3 0 4-3 3-2 4 0 3 0 4 1 3 1 4 2 3 1 4 1 3 0 4-2 3-4 3-3 4-1 3 3 4 3 3 2 4-2 3-4 4-2 3 2 4 2 3 2 4 0 3-1 4 0 3 1 3 1 4 0 3 0 4-1 3-1 4-1 3 3 4 1 3 1 4 0 3 0 4-2 3 1 4 1 3 0 3-2 4-3 3 2 4 0 3 1 4-4 3 2 4 2 3 3 4-1 3-1 4-1 3-1 4-1 3 1 3 0 4-1 3 0 4 0 3 0 4 2 3 2 4-1 3-3 4-1 3 2 4-1 3 0 3 1 4 1 3 0 4 0 3 1 4 0 3-1 4 0 3-2 4 0 3-1 4 0 3 1 4 1 3 0 3 3 4 0 3 0 4 1 3 1 4-2 3-4 4-1 3-2 4 1 3 2 4 2 3 0 4-1 3-1 3 1 4 0 3-1 4-1 3 0 4 2 3 3 4-2 3-2 4-1 3 4 4 1 3 0 4-2 3 1 3-3 4 1 3 1 4 4 3 1 4-4 3-4 4 1 3 1 4 0 3-1 4 2 3 2 4 0 3-1 3-1 4 0 3-4 4 1 3 2 4 0 3-1 4 1 3 2 4-1 3-1 4 1 3 1 4 1 3-1" fill="none" stroke="#5858b2" stroke-width="13.5" stroke-linejoin="round" opacity="1"/>
<path transform="scale(0.1)" d="M2655,3023l3 1 4 4 3 0 4-2 3-5 4 1 3-1 4-2 3-1 4 4 3 1 4 0 3 0 4-1 3-2 3 0 4 3 3 1 4 0 3-1 4-1 3 0 4-1 3 0 4 4 3 3 4 1 3-3 4-1 3-2 3-1 4-1 3 2 4 0 3-1 4 0 3 0 4 1 3 0 4 1 3 0 4 0 3-1 4-2 3 1 3 0 4 1 3-3 4-2 3 0 4 1 3 0 4 2 3 3 4-1 3-1 4-1 3 0 4 1 3 2 3 2 4 0 3 2 4-3 3 0 4 1 3 1 4-2 3-1 4 1 3-2 4-2 3 1 4-2 3-2 3-3 4 2 3-1 4 3 3 3 4 1 3-2 4 0 3-1 4 3 3 2 4-2 3-3 3 1 4 1 3-1 4 0 3 1 4 1 3 1 4-3 3 1 4 0 3 2 4-2 3 0 4-1 3 2 3 1 4 2 3 0 4-1 3 1 4 1 3 0 4-2 3-1 4 2 3 1 4-1 3-1 4 0 3 1 3 0 4-1 3-1 4 2 3 1 4 1 3-2 4-2 3 1 4 2 3 2 4 0 3-4 4-1 3-4 3 2 4-1 3 0 4 1 3 1 4 1 3 1 4-1 3-1 4 2 3-2 4-2 3 0 4 1 3-1 3 2 4 0 3-2 4 0 3 2 4-1 3 2 4 0 3-1 4-3 3 1 4 1 3-2 4-1 3 1 3 3 4 2 3 1 4-1 3 0 4 0 3-1 4-1 3-1 4-1 3 1 4 2 3 0 4 1 3 2 3 3 4-3 3-4 4-2 3 0 4 0 3 1 4 2 3 1 4 1 3-1 4 0 3 0 4 0 3-1 3 0 4 0 3 1 4 2 3 0 4-3 3-4 4-2 3 0 4 0 3 2 4 3 3-1 4-5 3-1 3 0 4 1 3 1 4 4 3 3 4 0 3-1 4-2 3-1 4-1 3 0 4 0 3 0 4 2 3 3 3 0 4-4 3-1 4 1 3 1 4 0 3-1 4 3 3 2 4-2 3-2 4-2 3 1 4 4 3-1 3-3 4 3 3 5 4-3 3-3 4 1 3 0 4-4 3-2 4 1 3 3 4 1 3-4 4 0 3 4 3 3 4-2 3-3 4 0 3 1 4-1 3-1 4-2 3 2 4 0 3 2 4-2 3 1 3 1 4 2 3-1 4 1 3 0 4 0 3-2 4 0 3 0 4 2 3 2 4 4 3 0 4-2 3-2 3 0 4-1 3 0 4-3 3-1 4 3 3 5 4-1 3-3 4-4 3 2 4 2 3 2 4-2 3-1 3-2 4 0 3 1 4 2 3 0 4-3 3-1 4 1 3 3 4 2 3-1 4-1 3-1 4-1 3-2 3 0 4 2 3 1 4 0 3-1 4-1 3-1 4-1 3-4 4-3 3-3 4-2 3 1 4 2 3 5 3 2 4 0 3-1 4-1 3 4 4 2 3 3 4 1 3 2 4-3 3-2 4-3 3 1 4 0 3 1 3-1 4 1 3 0 4 0 3 0 4 1 3 1 4 3 3 1 4-3 3-3 4 1 3 3 4-2 3-4 3 2 4 5 3 4 4-1 3-1 4-4 3-3 4 0 3-1 4 1 3 0 4 1 3 1 4 0 3 1 3-1 4-1 3 0 4 1 3 0 4 0 3-1 4 1 3-1 4 0 3 1 4 1 3 0 4-3 3 0 3 0 4 4 3 1 4 3 3-3 4 0 3-3 4-2 3-3 4 3 3 4 4 3 3-4 4-4 3-1 3 1 4 2 3 2 4-2 3-1 4 2 3 2 4-3 3 1 4-1 3 2 4-4 3 0 4 1 3 3 3 1 4-1 3 2 4-2 3 1 4-1 3-2 4-3 3-1 4 1 3-1 4 3 3 2 4 0 3-1 3 1 4 2 3 1 4-2 3-2 4 2 3 2 4 0 3-2 4 0 3 0 4 1 3 0 3-1 4-3 3 1 4 2 3 1 4-3 3-2 4 0 3 0 4 3 3 3 4 1 3-4 4-1 3 1 3 1 4 0 3-3 4-3 3 1 4 2 3 5 4 0 3 0 4-2 3-1 4 0 3-2 4-1 3 1 3 4 4 2 3-3 4-5 3-1 4 2 3 3 4 0 3-2 4-2 3 1 4 1 3 1 4-1 3 2 3-1 4 1 3-2 4 1 3 0 4 2 3 0 4 0 3-2 4-1 3 0 4 3 3 2 4-1 3-3 3 2 4 0 3-2 4-3 3 1 4 0 3-2 4 3 3 1 4 1 3 1 4 1 3-1 4-2 3-1" fill="none" stroke="#7070c0" stroke-width="13.5" stroke-linejoin="round" opacity="1"/>
<path transform="scale(0.1)" d="M2655,3146l3-2 4-10 3-10 4 4 3 4 4 4 3-4 4-3 3-1 4 2 3-1 4-2 3 5 4 4 3 0 3 1 4 5 3-1 4-3 3-5 4 1 3-3 4-2 3-2 4 5 3 8 4-3 3-5 4-7 3 3 3 5 4 5 3 1 4-2 3-4 4-6 3-6 4 1 3 4 4 8 3 4 4 0 3-1 4-1 3 1 3 1 4-5 3 1 4 0 3 1 4-7 3 1 4 6 3-3 4-8 3-2 4 6 3 5 4 2 3 1 3-3 4-4 3 2 4 2 3 2 4 2 3 1 4-4 3-7 4 1 3 1 4 0 3-2 4 3 3 2 3-1 4-2 3 2 4 4 3 0 4-5 3-3 4 0 3 3 4-2 3 0 4 3 3 4 3-2 4-2 3 1 4 2 3-1 4-3 3-2 4 4 3 2 4-2 3-1 4-2 3 0 4-2 3 5 3-1 4 0 3-2 4 1 3-3 4 0 3 2 4 2 3 3 4 5 3 3 4-3 3-4 4-4 3-3 3 0 4 4 3 0 4-2 3 0 4 8 3 0 4 0 3-4 4-1 3 1 4 5 3-4 4-2 3 3 3 8 4-3 3-7 4-6 3 2 4 5 3 1 4 0 3-2 4-3 3 4 4 9 3 0 4-9 3-3 3 4 4 1 3-6 4-1 3 0 4 2 3-2 4 0 3 1 4 3 3 2 4-2 3-2 4-1 3 2 3 0 4-1 3 2 4 8 3 2 4-4 3-10 4-5 3-2 4 0 3 3 4 3 3 3 4-1 3 1 3 1 4 0 3-2 4 4 3 1 4-3 3-4 4 5 3 3 4-2 3-3 4 1 3 0 4-1 3 4 3 2 4-1 3-3 4 4 3-2 4-3 3-3 4-1 3-4 4 3 3 3 4 1 3 2 4 1 3-4 3-3 4 1 3 1 4-1 3 6 4 1 3 1 4 1 3 2 4-6 3-6 4-5 3 2 4 2 3 3 3 1 4 0 3-1 4 4 3 2 4-1 3-6 4-1 3 0 4 8 3-1 4-3 3-1 4 4 3 4 3-5 4-1 3-3 4 4 3-6 4-3 3-4 4 6 3 5 4 1 3-1 4 1 3 0 4-2 3-1 3 3 4-1 3-3 4 0 3 0 4 5 3-2 4-2 3 0 4 4 3 2 4-1 3 7 3 0 4 0 3-5 4-4 3-5 4 1 3 0 4-2 3-4 4 6 3 7 4-1 3 0 4-1 3 0 3-7 4 0 3 0 4 6 3 3 4 2 3 0 4-4 3-3 4-2 3 2 4 2 3 2 4 0 3 0 3-2 4 0 3 0 4 3 3 0 4-5 3-4 4 2 3 5 4 4 3-1 4-3 3-3 4 2 3 1 3 1 4-3 3-1 4-2 3 2 4 1 3 1 4-4 3-3 4-5 3-1 4-2 3 0 4-2 3 2 3 5 4 6 3 3 4-2 3-4 4 1 3 1 4 3 3 0 4 3 3 1 4 0 3-3 4 3 3-1 3-3 4-4 3-2 4 4 3 5 4 5 3-5 4-2 3-1 4 0 3 1 4-1 3-2 4 0 3 5 3 4 4 1 3-2 4-1 3-3 4 2 3 1 4 1 3-4 4-1 3-1 4 1 3 4 4 2 3-5 3-5 4-2 3 7 4 3 3-2 4-3 3 5 4 0 3-1 4-2 3 0 4-4 3-1 4 7 3 4 3 3 4-5 3 1 4-5 3 1 4-2 3 2 4-3 3 3 4 1 3 2 4-3 3-2 4-1 3 2 3 0 4 0 3 1 4-1 3-5 4 2 3 8 4 5 3-8 4-7 3 0 4 6 3 4 4-2 3-5 3-7 4 5 3 1 4 0 3-3 4 5 3 3 4 2 3-2 4 4 3 2 4 0 3 1 4-2 3-4 3-4 4 2 3 2 4-4 3-2 4-2 3 0 4 2 3 0 4-1 3-5 4-2 3 5 3 7 4 4 3-1 4-3 3-1 4 3 3 0 4-5 3-1 4-3 3-1 4 0 3 7 4 1 3 0 3-1 4 6 3-3 4-6 3-5 4 5 3 4 4 1 3-1 4-2 3-1 4 5 3 3 4-1 3-1 3-5 4 1 3 3 4 5 3-6 4-2 3 1 4 1 3-6 4-1 3 1 4 0 3 0 4 5 3 3 3-1 4-3 3 0 4-5 3-3 4 0 3 5 4 3 3 4 4 1 3-3 4-3 3-1 4 0 3 1 3 4 4-1 3 2 4 0 3 2 4-7 3 1 4 1 3 0 4-2 3-2 4 1 3 0 4 0 3 0" fill="none" stroke="#9a9ad2" stroke-width="17.0" stroke-linejoin="round" opacity="1"/>
<path transform="scale(0.1)" d="M2655,3243l3-2 4 5 3 1 4 1 3-1 4-1 3 0 4 3 3 4 4 1 3 2 4 0 3-5 4 0 3 2 3-2 4-5 3 3 4 2 3 0 4-4 3 2 4 0 3-2 4 1 3 3 4 4 3-3 4 1 3-6 3-1 4-3 3 5 4 0 3-2 4-2 3 2 4 1 3-2 4 5 3 1 4-1 3-3 4-2 3-4 3 3 4 1 3 1 4-2 3 1 4 1 3-1 4 0 3 2 4 1 3-1 4 1 3 2 4-2 3-4 3 1 4 5 3-2 4-4 3 3 4 4 3 1 4-3 3 4 4-1 3 1 4-1 3-2 4-9 3-4 3 2 4 8 3 3 4 1 3 2 4-1 3-3 4-2 3 5 4-1 3-5 4-4 3 3 3 2 4 1 3 5 4-2 3-8 4-4 3 5 4 0 3 1 4 2 3 1 4-7 3 2 4 5 3 3 3-1 4-4 3 0 4 0 3 2 4-1 3 5 4-2 3-3 4-4 3 1 4 2 3 3 4 2 3-4 3-1 4 5 3 5 4-1 3-6 4 0 3-2 4 1 3-1 4 2 3 2 4 0 3-3 4-2 3 2 3 3 4-2 3-4 4 0 3 4 4-2 3-4 4 3 3 1 4-3 3-3 4 6 3 4 4 2 3 1 3 0 4 3 3-4 4-8 3-6 4 3 3 5 4 2 3 1 4 0 3-1 4 0 3-1 4 0 3 0 3-3 4 0 3 3 4 2 3-4 4-7 3-1 4 6 3 7 4 4 3-2 4-2 3-1 4-3 3-4 3 0 4 2 3 5 4 0 3 0 4-9 3-3 4 0 3 5 4 5 3 0 4-1 3 1 4-1 3-1 3 3 4 3 3-2 4-3 3-2 4 1 3 5 4 4 3-5 4-9 3-6 4 3 3 5 4 2 3 1 3 1 4 1 3-3 4 0 3-3 4-1 3-1 4 8 3 2 4-1 3-6 4-2 3-4 4 2 3 6 3 4 4 2 3-3 4 2 3-4 4 1 3-2 4 5 3-2 4 2 3-2 4-1 3-2 4 2 3-1 3-2 4 0 3 0 4-2 3 1 4 2 3 6 4 7 3 3 4-7 3-4 4 0 3 0 4-4 3-3 3 2 4 1 3 1 4-1 3-2 4-6 3 3 4 7 3 8 4-1 3-4 4-11 3-5 3 5 4 10 3 7 4-3 3-8 4-3 3 1 4-1 3-2 4 3 3-1 4 4 3 1 4-2 3-3 3 2 4 2 3 0 4 2 3 3 4 0 3-7 4-3 3 2 4 3 3 4 4 4 3 2 4-6 3-1 3 0 4 1 3 0 4 0 3 0 4-4 3 3 4-2 3 0 4-5 3 1 4 5 3-1 4 0 3-4 3 0 4-2 3-2 4 0 3-1 4 4 3 0 4 4 3 0 4 6 3-3 4-8 3-5 4 5 3 4 3-1 4-2 3 1 4-3 3-2 4 0 3 2 4 2 3 1 4 4 3-2 4-2 3 2 4 3 3 1 3-1 4-1 3 0 4 3 3 0 4 1 3 0 4 0 3-4 4 1 3-1 4 1 3-2 4 0 3-2 3-2 4 1 3 5 4-2 3-2 4 1 3 7 4 0 3 3 4-1 3-3 4-4 3-4 4-3 3-3 3 6 4 6 3 6 4-3 3-1 4-2 3 1 4-5 3 1 4 2 3 0 4 1 3 0 4 0 3-3 3 2 4-2 3-4 4-3 3 0 4 3 3 2 4 2 3-6 4-1 3 0 4 7 3 2 4-1 3-2 3 5 4 2 3-5 4-5 3 1 4 3 3-2 4-1 3 1 4 7 3 4 4 2 3-6 4-3 3-3 3 7 4 5 3 0 4-7 3-7 4-4 3 4 4 7 3 6 4-5 3-6 4-3 3 1 4 1 3 2 3 0 4 3 3-2 4 2 3-2 4 1 3 1 4-4 3 0 4 3 3 6 4-2 3-3 3 1 4 1 3-2 4-4 3-3 4 0 3 2 4-1 3 0 4 2 3 1 4-2 3 0 4 2 3-2 3 0 4 5 3 2 4-2 3-1 4 2 3 0 4-2 3-3 4-1 3 4 4 4 3-1 4-2 3 1 3-4 4-1 3 4 4 7 3-2 4-2 3-2 4 0 3-2 4 1 3-1 4-1 3-1 4 5 3-2 3 3 4-4 3-2 4-7 3 3 4 3 3 5 4 0 3 1 4-3 3 0 4-2 3 0 4-2 3 2 3 0 4-1 3-5 4 2 3 3 4 3 3-1 4 2 3 0 4-2 3-1 4-3 3-2 4 3 3 5" fill="none" stroke="#b0b0de" stroke-width="17.0" stroke-linejoin="round" opacity="1"/>
<text x="392.20" y="246.80" font-size="8.9" text-anchor="start" font-weight="normal" fill="#2828a0">5×10<tspan dy="-3.3" font-size="6">-5</tspan><tspan dy="3.3"> M</tspan></text>
<text x="392.20" y="257.00" font-size="8.9" text-anchor="start" font-weight="normal" fill="#2828a0">5×10<tspan dy="-3.3" font-size="6">-6</tspan><tspan dy="3.3"> M</tspan></text>
<text x="392.20" y="268.50" font-size="8.9" text-anchor="start" font-weight="normal" fill="#2828a0">5×10<tspan dy="-3.3" font-size="6">-7</tspan><tspan dy="3.3"> M</tspan></text>
<text x="392.20" y="278.40" font-size="8.9" text-anchor="start" font-weight="normal" fill="#2828a0">5×10<tspan dy="-3.3" font-size="6">-14</tspan><tspan dy="3.3"> M</tspan></text>
<text x="392.20" y="290.30" font-size="8.9" text-anchor="start" font-weight="normal" fill="#2828a0">5×10<tspan dy="-3.3" font-size="6">-15</tspan><tspan dy="3.3"> M</tspan></text>
<text x="392.20" y="300.40" font-size="8.9" text-anchor="start" font-weight="normal" fill="#2828a0">5×10<tspan dy="-3.3" font-size="6">-16</tspan><tspan dy="3.3"> M</tspan></text>
<text x="392.20" y="311.90" font-size="8.9" text-anchor="start" font-weight="normal" fill="#2828a0">5×10<tspan dy="-3.3" font-size="6">-17</tspan><tspan dy="3.3"> M</tspan></text>
<text x="392.20" y="323.50" font-size="8.9" text-anchor="start" font-weight="normal" fill="#2828a0">5×10<tspan dy="-3.3" font-size="6">-18</tspan><tspan dy="3.3"> M</tspan></text>
<text x="274.00" y="311.90" font-size="8.9" text-anchor="start" font-weight="bold" fill="#2828a0">×5</text>
<text x="274.00" y="323.50" font-size="8.9" text-anchor="start" font-weight="bold" fill="#2828a0">×5</text>
<path d="M272.60,236.20 C271.82,235.16 269.74,233.60 269.74,232.46 C269.74,230.74 272.34,230.74 272.60,232.30 C272.86,230.74 275.46,230.74 275.46,232.46 C275.46,233.60 273.38,235.16 272.60,236.20 Z" fill="#000"/>
<path d="M293.20,232.10 C292.42,231.06 290.34,229.50 290.34,228.36 C290.34,226.64 292.94,226.64 293.20,228.20 C293.46,226.64 296.06,226.64 296.06,228.36 C296.06,229.50 293.98,231.06 293.20,232.10 Z" fill="#000"/>
<path d="M319.40,236.70 C318.62,235.66 316.54,234.10 316.54,232.96 C316.54,231.24 319.14,231.24 319.40,232.80 C319.66,231.24 322.26,231.24 322.26,232.96 C322.26,234.10 320.18,235.66 319.40,236.70 Z" fill="#000"/>
<path d="M336.40,222.40 C335.62,221.36 333.54,219.80 333.54,218.66 C333.54,216.94 336.14,216.94 336.40,218.50 C336.66,216.94 339.26,216.94 339.26,218.66 C339.26,219.80 337.18,221.36 336.40,222.40 Z" fill="#000"/>
<path d="M355.90,233.40 C355.12,232.36 353.04,230.80 353.04,229.66 C353.04,227.94 355.64,227.94 355.90,229.50 C356.16,227.94 358.76,227.94 358.76,229.66 C358.76,230.80 356.68,232.36 355.90,233.40 Z" fill="#000"/>
<path d="M377.90,194.90 C377.12,193.86 375.04,192.30 375.04,191.16 C375.04,189.44 377.64,189.44 377.90,191.00 C378.16,189.44 380.76,189.44 380.76,191.16 C380.76,192.30 378.68,193.86 377.90,194.90 Z" fill="#000"/>
<rect x="492" y="186.5" width="177.39999999999998" height="143.10000000000002" fill="none" stroke="#939393" stroke-width="1"/>
<line x1="492.00" y1="329.6" x2="492.00" y2="331.8" stroke="#939393" stroke-width="1"/>
<line x1="509.74" y1="329.6" x2="509.74" y2="330.8" stroke="#939393" stroke-width="1"/>
<line x1="527.48" y1="329.6" x2="527.48" y2="331.8" stroke="#939393" stroke-width="1"/>
<line x1="545.22" y1="329.6" x2="545.22" y2="330.8" stroke="#939393" stroke-width="1"/>
<line x1="562.96" y1="329.6" x2="562.96" y2="331.8" stroke="#939393" stroke-width="1"/>
<line x1="580.70" y1="329.6" x2="580.70" y2="330.8" stroke="#939393" stroke-width="1"/>
<line x1="598.44" y1="329.6" x2="598.44" y2="331.8" stroke="#939393" stroke-width="1"/>
<line x1="616.18" y1="329.6" x2="616.18" y2="330.8" stroke="#939393" stroke-width="1"/>
<line x1="633.92" y1="329.6" x2="633.92" y2="331.8" stroke="#939393" stroke-width="1"/>
<line x1="651.66" y1="329.6" x2="651.66" y2="330.8" stroke="#939393" stroke-width="1"/>
<line x1="669.40" y1="329.6" x2="669.40" y2="331.8" stroke="#939393" stroke-width="1"/>
<text x="492.00" y="341.70" font-size="10.2" text-anchor="middle" font-weight="normal" fill="#111">1000</text>
<text x="527.48" y="341.70" font-size="10.2" text-anchor="middle" font-weight="normal" fill="#111">1200</text>
<text x="562.96" y="341.70" font-size="10.2" text-anchor="middle" font-weight="normal" fill="#111">1400</text>
<text x="598.44" y="341.70" font-size="10.2" text-anchor="middle" font-weight="normal" fill="#111">1600</text>
<text x="633.92" y="341.70" font-size="10.2" text-anchor="middle" font-weight="normal" fill="#111">1800</text>
<text x="669.40" y="341.70" font-size="10.2" text-anchor="middle" font-weight="normal" fill="#111">2000</text>
<text x="580.60" y="355.60" font-size="10.8" text-anchor="middle" font-weight="normal" fill="#111">Raman shift (cm<tspan dy="-3.6" font-size="6.5">-1</tspan><tspan dy="3.6">)</tspan></text>
<text x="486.30" y="255.50" font-size="11.0" text-anchor="middle" font-weight="normal" fill="#111" transform="rotate(-90 486.3 255.5)">Intensity (arb. units)</text>
<text x="496.50" y="199.30" font-size="8.8" text-anchor="start" font-weight="bold" fill="#000">MB/WO<tspan dy="2.4" font-size="6" font-style="italic">3-x</tspan><tspan dy="-2.4">/WSe</tspan><tspan dy="2.4" font-size="6">2</tspan></text>
<path transform="scale(0.1)" d="M4920,2357l3 53 4 45 3 34 4 16 3 21 4 15 3 16 3 0 4 3 3-6 4-7 3-12 3-13 4-12 3-15 4-16 3-11 4-5 3-4 3-2 4-1 3 4 4 5 3 15 3 9 4 2 3 3 4 9 3 7 4 1 3 1 3 2 4 2 3-3 4-9 3-6 3-6 4 4 3 6 4 6 3-4 4-7 3-4 3 0 4-3 3-2 4-4 3-1 3-3 4-1 3 2 4-2 3-5 4-3 3-8 3-5 4 3 3 11 4 1 3-1 4-8 3-5 3-10 4 0 3-5 4-8 3-11 3 2 4 2 3-4 4-13 3-7 4-11 3-3 3 3 4 6 3-6 4-5 3-3 3-5 4-5 3 7 4 7 3-1 4 4 3 5 3 2 4-3 3 7 4 1 3 5 3-1 4 9 3 4 4 7 3 6 4 15 3 10 3 3 4 1 3 3 4-6 3-2 3 0 4 7 3 1 4 5 3 3 4 4 3-4 3 5 4 5 3 3 4-1 3 1 4 0 3-6 3 0 4 3 3 6 4 11 3-2 3-2 4 0 3 13 4 2 3-3 4-3 3 2 3-3 4 1 3 0 4 5 3 3 3-1 4-2 3-1 4-1 3 2 4-3 3 0 3-8 4-4 3-6 4 4 3 5 3-5 4-13 3-7 4-6 3-10 4-17 3-9 3-8 4-5 3-1 4 0 3 12 3 15 4 17 3 7 4 7 3 4 4 0 3-4 3 0 4 4 3-3 4-6 3-5 3 9 4 2 3 1 4-8 3-6 4 0 3 6 3 4 4-1 3-3 4 1 3 6 4 7 3-5 3-8 4 0 3 4 4-1 3-4 3-4 4-1 3-5 4 1 3 3 4 2 3-11 3-7 4-20 3-20 4-21 3-11 3-14 4-20 3-15 4-6 3 11 4 9 3 11 3 16 4 30 3 26 4 13 3-2 3 4 4-1 3 1 4-2 3-4 4-5 3-3 3 3 4-1 3 2 4-1 3-2 3 2 4 16 3 13 4-1 3-3 4 2 3 6 3 1 4 1 3-2 4-7 3-4 4-2 3-7 3-15 4-15 3-10 4-4 3 3 3 1 4 4 3 5 4 14 3 14 4 13 3 6 3-1 4-1 3-5 4-4 3-12 3 3 4 0 3 5 4-2 3 6 4-1 3 5 3 10 4 5 3 6 4 4 3 9 3-1 4 5 3 6 4 11 3 4 4-4 3-8 3-2 4 3 3 9 4 4 3-3 3-9 4 4 3 8 4 4 3-4 4 0 3 0 3-4 4-4 3 3 4 4 3 5 4 1 3-1 3-10 4 1 3 0 4 1 3-8 3-3 4 0 3 7 4 1 3-7 4-1 3 1 3 2 4-3 3 7 4-1 3-1 3-5 4 0 3-3 4-11 3-16 4-17 3-26 3-51 4-67 3-70 4-72 3-57 3-28 4 7 3 32 4 61 3 78 4 69 3 54 3 42 4 41 3 22 4 10 3 5 3 8 4 3 3 1 4-1 3-5 4 6 3 8 3 4 4-8 3-3 4 0 3 3 4 1 3-4 3-3 4 3 3 2 4 0 3 1 3 1 4-2 3 1 4 1 3 2 4-8 3 4 3 2 4 6 3 1 4 2 3-1 3-3 4-2 3 2 4-1 3-1 4 2 3 11 3 1 4-3 3 8 4 2 3-8 3-16 4-1 3-11 4-2 3 3 4 5 3-5 3 3 4 6 3 3 4 3 3 1 3-4 4-6 3 0 4 7 3 0 4 6 3 1 3-2 4-4 3-1 4 5 3 0 3 0 4-3 3 4 4 2 3 2 4 1 3 2 3-2 4-7 3-13 4-4 3 4 4 11 3 5 3-2 4-7 3 0 4 6 3-1 3-8 4-5 3 6 4 7 3 3 4 5 3 0 3-5 4-9 3 1 4 6 3 1 3-2 4-1 3 2 4 4 3 2 4 0 3-2 3 2 4 4 3-4 4-8 3-9 3 1 4 5 3 5 4-3 3 1 4 2 3 2 3-3 4-3 3-2 4 2 3 0 3 2 4 3 3 4 4-1 3-4 4 1 3 0 3 6 4-2 3-4 4-1 3 4 4 1 3-3 3-4 4-4 3-4 4 2 3 3 3-1 4 11 3 9 4-7 3-14 4 0 3 7 3-2 4-1 3 0 4-5 3-5 3 1 4 5 3 0 4 4 3-3 4-1 3-5 3-2 4 3 3 7 4 9 3-8 3-2 4 2 3 6 4-4 3-6 4 3 3-1 3-2 4 2 3 8 4 6 3-1 3 2 4-1 3-2 4-1 3-9 4-1 3 2" fill="none" stroke="#5a5ac4" stroke-width="16.0" stroke-linejoin="round" opacity="1"/>
<path transform="scale(0.1)" d="M4920,2622l3 38 4 34 3 27 4 22 3 14 4 16 3 8 3 9 4-3 3-9 4-10 3-5 3-11 4-8 3-8 4-10 3-13 4-6 3-9 3-6 4-4 3 6 4 8 3 11 3 8 4 7 3-2 4-3 3 4 4 8 3 6 3-2 4-6 3-4 4-1 3 1 3-5 4 6 3 10 4 5 3-12 4-7 3-3 3 4 4 3 3 2 4-9 3-9 3-2 4 2 3 1 4-3 3 1 4-3 3-1 3-4 4-2 3-1 4-3 3-4 4-5 3-2 3-5 4-1 3-6 4-7 3-6 3-5 4-8 3-6 4 8 3 9 4-1 3-15 3-12 4-5 3 3 4 4 3 0 3 1 4 0 3 0 4-3 3 0 4 5 3 2 3 1 4 7 3 9 4 6 3-6 3-3 4 1 3 5 4 4 3 2 4 7 3 14 3 7 4 0 3 0 4 6 3 6 3 8 4 0 3-8 4-6 3 4 4 5 3 5 3 2 4 2 3 2 4-1 3-7 4 3 3 4 3 2 4-1 3 5 4 2 3-1 3 5 4 6 3-5 4-12 3-9 4 7 3 9 3 3 4 2 3 3 4-1 3-2 3 5 4 7 3-3 4-6 3-3 4-4 3-4 3 3 4 4 3-8 4-2 3-4 3-3 4-6 3 3 4-6 3-12 4-9 3-12 3-13 4-8 3 3 4 6 3 10 3 11 4 7 3 4 4 1 3 1 4 0 3 1 3 5 4 1 3 3 4 1 3-1 3-2 4-5 3 2 4 3 3 10 4 0 3-3 3-1 4-5 3 0 4 1 3 6 4-1 3 1 3 4 4-2 3-4 4-1 3 6 3-6 4-2 3-1 4-4 3-15 4-6 3-3 3 0 4-16 3-15 4-15 3-9 3-14 4-12 3-6 4-10 3 0 4 8 3 13 3 17 4 12 3 9 4 9 3 13 3 9 4-1 3 1 4 1 3-1 4-5 3-8 3-6 4-8 3-3 4 10 3 7 3 6 4 0 3 7 4 2 3 6 4 4 3 7 3 9 4 1 3-4 4-4 3-3 4-9 3-12 3-7 4-10 3-11 4-6 3 2 3 7 4 9 3 6 4 8 3 12 4 9 3-2 3-2 4 1 3 0 4 1 3 0 3-2 4-7 3 8 4 2 3-1 4-2 3 6 3 7 4 3 3 6 4-1 3 4 3 5 4 5 3 6 4 0 3-2 4-1 3 4 3 0 4 4 3 2 4 0 3-2 3 0 4-3 3-3 4 2 3 5 4 9 3 4 3-3 4-4 3 1 4 5 3 3 4-8 3-1 3 1 4 8 3 0 4-4 3-3 3-2 4 8 3-1 4 4 3-5 4 0 3-6 3-3 4-2 3 4 4-1 3 0 3 0 4 0 3-9 4-18 3-16 4-20 3-19 3-34 4-45 3-65 4-64 3-56 3-27 4 5 3 39 4 65 3 71 4 56 3 38 3 30 4 24 3 14 4 13 3 9 3 5 4 2 3 0 4 0 3-2 4 6 3 5 3 0 4-3 3-3 4 6 3 11 4 0 3 2 3 4 4 3 3-9 4-9 3-4 3-10 4 1 3 1 4 7 3 1 4 1 3 1 3-1 4 6 3 4 4-2 3-3 3-2 4 1 3-1 4 2 3-1 4-2 3-4 3-1 4 6 3 7 4 0 3 2 3 2 4-3 3-5 4 2 3 0 4 5 3 2 3 3 4-7 3-3 4-7 3-6 3 1 4 5 3 4 4 3 3 6 4 2 3-3 3-5 4-4 3 6 4 4 3 4 3-7 4-3 3-1 4 7 3 2 4 1 3-1 3-9 4-3 3 3 4 9 3-7 4 0 3 2 3 3 4-10 3-5 4 5 3 14 3 14 4 0 3-12 4-15 3-3 4 2 3 0 3-6 4 1 3 4 4 0 3 0 3 3 4 3 3-6 4-3 3 7 4 8 3-3 3-10 4 3 3 8 4 4 3-3 3 1 4-6 3-4 4-9 3-1 4 1 3 2 3 2 4 9 3 4 4 2 3 3 3-2 4-7 3 0 4 5 3-3 4-6 3-3 3 3 4 1 3 5 4-3 3-1 4-1 3-6 3 5 4 8 3 9 4-4 3-8 3-2 4-5 3 3 4-2 3 0 4-2 3 1 3 1 4-6 3-7 4 2 3 8 3 3 4-4 3-4 4-6 3 7 4 13 3 3 3-10 4 1 3 6 4 1 3-8 3 1 4 3 3-1 4-8 3 2 4 7 3 9 3 6 4 2 3-9 4-10 3-7 3 0 4 0 3 4 4 6 3-1 4 0 3-1" fill="none" stroke="#7272c0" stroke-width="16.0" stroke-linejoin="round" opacity="1"/>
<path transform="scale(0.1)" d="M4920,2852l3 32 4 28 3 26 4 27 3 16 4 6 3 11 3 15 4 1 3-14 4-17 3-15 3-7 4-6 3-9 4-9 3-4 4-2 3-9 3-7 4-3 3 7 4 5 3 6 3 0 4-2 3 0 4 7 3-2 4-3 3-2 3 11 4 4 3 1 4 2 3 4 3-1 4-16 3-6 4 5 3 12 4-2 3-4 3-2 4-5 3-7 4 1 3 8 3-5 4-9 3-2 4 9 3 4 4-10 3-9 3 3 4 3 3-5 4-6 3 0 4 0 3 0 3 0 4 3 3 0 4 1 3-7 3-10 4-9 3-2 4-1 3 0 4-1 3-2 3-3 4 5 3 1 4-5 3-7 3 1 4 7 3 3 4-7 3-4 4-2 3 6 3-2 4 5 3 1 4 2 3-2 3 6 4 7 3 7 4 1 3 2 4 2 3 1 3 5 4 6 3 7 4-1 3 2 3-1 4 3 3-4 4-1 3-4 4 9 3 5 3 3 4-9 3-3 4-2 3 7 4-2 3 5 3 7 4 13 3-1 4-6 3-6 3 1 4-1 3-4 4 0 3 3 4 6 3 5 3 4 4-8 3-5 4-6 3 0 3-3 4 5 3 1 4 1 3-1 4 0 3 3 3 6 4-2 3-12 4-11 3 4 3 16 4 0 3-11 4-8 3-7 4-8 3-11 3-5 4-7 3 2 4 8 3 5 3 3 4 9 3 9 4 3 3-2 4-9 3-10 3 2 4 15 3 5 4-2 3-5 3-3 4-5 3 0 4 7 3 5 4 0 3-5 3-4 4 3 3 4 4 5 3 0 4-3 3-2 3-7 4 6 3-2 4 2 3-3 3 4 4-3 3-9 4-6 3 1 4 2 3-2 3-9 4-5 3-11 4-11 3-6 3-4 4-9 3-9 4-4 3-2 4 4 3 10 3 8 4 12 3 11 4 5 3 4 3 7 4 7 3-4 4-3 3-6 4 0 3-3 3-1 4-2 3 4 4 0 3 0 3 0 4 4 3 8 4 3 3 3 4 0 3 8 3 3 4-1 3-9 4-5 3 3 4 5 3-13 3-11 4-11 3 3 4 2 3 9 3 3 4 1 3 1 4 8 3 11 4 7 3-2 3-6 4-8 3-3 4 2 3 6 3 1 4 5 3 0 4-1 3-6 4 2 3 6 3 10 4 11 3 7 4 4 3-1 3-1 4 1 3 7 4 2 3-3 4-6 3-4 3-7 4-1 3 6 4 8 3-4 3-2 4 5 3 2 4-6 3 2 4 5 3 3 3-4 4 0 3-1 4 3 3 6 4 3 3-3 3-7 4 2 3 2 4-5 3-5 3 3 4 2 3-1 4 1 3 9 4 1 3-1 3-5 4-4 3-7 4 4 3 8 3-2 4-11 3-6 4-1 3-10 4-19 3-18 3-16 4-27 3-33 4-38 3-33 3-27 4 1 3 30 4 36 3 34 4 38 3 43 3 22 4 11 3 5 4 10 3 8 3 1 4-11 3-3 4 3 3 4 4-1 3 6 3 0 4-3 3-6 4-4 3-2 4 3 3 9 3 5 4-1 3 0 4 7 3 6 3 3 4 0 3-4 4-10 3-4 4 4 3 6 3 1 4-6 3-3 4 6 3 6 3 4 4-1 3-1 4-4 3 0 4-5 3-1 3-2 4-1 3-4 4 6 3 1 3-1 4-4 3 3 4-2 3 5 4 2 3-1 3-13 4 4 3 11 4 9 3-7 3-2 4-1 3 0 4-2 3 6 4 0 3-2 3-8 4-3 3-4 4 3 3 6 3 4 4 4 3 5 4 4 3-8 4-9 3 3 3 7 4-2 3-6 4 6 3 5 4-7 3-5 3 4 4-2 3-7 4 3 3 6 3-4 4-3 3 3 4 1 3-3 4-4 3-3 3-1 4 0 3 4 4 8 3 9 3 2 4 0 3-3 4-6 3-10 4-3 3 2 3 3 4 1 3 3 4 4 3 6 3 0 4-4 3-4 4-1 3-5 4-4 3 0 3 6 4 0 3 5 4 0 3-2 3-6 4 6 3 6 4-3 3-8 4 4 3 9 3 6 4-6 3-6 4-4 3 8 4 4 3 4 3-6 4 0 3-1 4 7 3-3 3-4 4-5 3 0 4 1 3-2 4-6 3-1 3 2 4 1 3 1 4 5 3 7 3 2 4-8 3-4 4 4 3 7 4-4 3-6 3 2 4 1 3 1 4-1 3 2 3 1 4 2 3-4 4 0 3 1 4 0 3-5 3-2 4 5 3 7 4 1 3-3 3 2 4 1 3-5 4-10 3-1 4 3 3 5" fill="none" stroke="#8a8ac8" stroke-width="16.0" stroke-linejoin="round" opacity="1"/>
<path transform="scale(0.1)" d="M4920,3117l3 23 4 20 3 22 4 17 3 13 4 6 3 5 3 0 4 5 3 4 4-12 3-11 3-10 4-9 3-9 4-4 3-8 4-6 3 0 3-3 4 0 3 4 4 1 3-4 3 6 4 7 3-5 4 0 3 2 4 2 3-4 3 1 4 4 3-4 4-7 3 0 3 8 4 4 3-2 4-2 3 2 4-3 3-1 3-3 4-1 3-5 4 1 3 0 3-3 4-4 3-2 4 2 3 2 4 3 3-3 3-6 4-3 3-8 4 5 3 5 4-1 3-4 3-5 4 3 3-4 4-3 3-5 3 4 4 4 3-6 4-7 3-5 4 1 3-1 3 1 4 3 3-1 4-4 3 3 3 4 4-5 3-13 4 4 3 8 4 3 3-5 3 3 4 3 3 4 4 0 3 4 3 0 4 1 3 0 4 3 3-1 4-3 3 1 3 10 4 9 3 2 4 5 3 2 3 0 4-6 3 0 4-2 3 0 4 2 3 6 3 4 4 1 3-3 4-1 3 1 4 6 3-6 3-1 4 0 3 8 4 0 3 1 3 1 4 8 3 4 4-3 3-10 4-1 3 3 3 0 4-15 3 1 4 6 3 13 3-6 4-7 3-3 4-1 3-6 4 0 3 5 3 6 4 0 3 3 4 0 3 1 3-2 4-6 3-4 4 0 3 1 4-8 3-7 3-10 4-2 3 4 4 4 3 1 3-4 4 1 3 11 4 15 3 3 4-8 3 1 3 3 4-10 3-12 4 1 3 3 3-3 4-3 3-4 4 4 3-4 4-2 3-3 3 7 4 6 3 4 4-1 3-6 4-7 3 3 3 4 4 5 3 3 4 4 3-4 3-2 4-6 3 0 4-6 3-6 4-10 3-1 3 3 4 3 3 1 4-8 3-13 3-7 4-9 3 0 4 2 3 8 4-3 3 2 3 11 4 4 3 5 4 1 3 6 3 1 4 5 3 3 4 3 3-2 4-3 3-2 3-5 4-12 3-7 4 3 3 9 3 6 4 8 3 11 4 5 3-4 4-10 3 5 3 0 4 3 3 2 4 4 3-7 4-7 3-4 3 2 4-4 3-6 4-2 3 2 3 7 4 1 3 8 4 0 3 3 4 2 3 4 3 3 4-2 3 3 4-4 3-1 3-7 4-2 3-2 4 9 3 11 4 7 3-9 3-3 4-1 3 1 4 2 3 8 3 1 4-1 3 3 4 7 3 0 4 0 3-5 3-2 4-2 3 4 4-6 3 2 3 4 4 10 3 6 4 4 3-4 4-3 3-3 3 4 4 5 3 2 4-8 3-2 4-1 3-5 3-5 4 9 3 2 4 0 3-2 3 3 4 0 3-4 4 1 3-3 4 1 3-8 3 1 4 1 3 6 4 3 3 4 3-4 4-2 3-7 4-2 3-1 4 0 3-15 3-19 4-22 3-15 4-25 3-23 3-18 4 1 3 19 4 31 3 31 4 16 3 10 3 8 4 14 3 7 4 10 3 2 3 6 4-1 3-1 4-6 3-1 4 5 3-1 3-5 4 2 3 5 4 3 3-4 4-2 3-1 3 2 4 4 3-1 4-3 3 6 3 8 4-1 3-6 4 3 3 3 4-4 3-1 3-1 4-5 3-7 4-1 3 5 3 0 4 2 3-2 4 6 3-2 4 2 3-1 3 0 4-3 3 3 4 4 3-4 3-6 4-3 3 6 4 6 3 0 4-5 3 1 3 5 4 1 3-7 4-3 3 7 3 0 4-3 3-4 4 12 3 5 4 0 3-8 3 0 4 6 3 7 4-2 3-7 3-6 4 4 3 5 4 0 3-9 4-5 3 0 3 8 4 1 3-2 4-5 3 5 4 2 3 1 3-1 4 2 3-2 4-6 3-1 3 6 4 6 3-1 4-8 3-4 4-5 3 7 3 6 4 8 3-2 4-4 3-9 3-2 4 3 3 0 4-11 3-1 4 4 3 2 3 0 4 3 3 4 4 4 3 4 3-5 4-8 3-3 4 8 3 2 4-2 3-7 3 2 4 5 3 7 4 2 3-9 3 4 4 4 3 4 4-1 3-1 4-6 3-9 3-1 4 2 3 1 4 2 3 1 4 2 3-2 3-1 4 2 3 2 4 3 3-2 3-2 4 0 3-3 4-7 3-5 4 6 3 8 3 3 4 1 3-4 4-2 3-2 3 0 4 1 3 8 4 6 3 2 4-4 3-9 3-1 4 0 3 2 4-6 3-6 3-5 4 4 3 6 4-1 3 1 4 6 3 4 3-7 4-2 3 0 4 0 3-1 3 7 4 8 3 4 4-3 3-9 4-2 3 2" fill="none" stroke="#ababd8" stroke-width="16.0" stroke-linejoin="round" opacity="1"/>
<text x="615.00" y="245.90" font-size="8.9" text-anchor="start" font-weight="normal" fill="#2828a0">5×10<tspan dy="-3.3" font-size="6">-15</tspan><tspan dy="3.3"> M</tspan></text>
<text x="615.00" y="269.40" font-size="8.9" text-anchor="start" font-weight="normal" fill="#2828a0">5×10<tspan dy="-3.3" font-size="6">-16</tspan><tspan dy="3.3"> M</tspan></text>
<text x="615.00" y="291.40" font-size="8.9" text-anchor="start" font-weight="normal" fill="#2828a0">5×10<tspan dy="-3.3" font-size="6">-17</tspan><tspan dy="3.3"> M</tspan></text>
<text x="615.00" y="313.30" font-size="8.9" text-anchor="start" font-weight="normal" fill="#2828a0">5×10<tspan dy="-3.3" font-size="6">-18</tspan><tspan dy="3.3"> M</tspan></text>
<path d="M495.50,247.20 C494.72,246.16 492.64,244.60 492.64,243.46 C492.64,241.74 495.24,241.74 495.50,243.30 C495.76,241.74 498.36,241.74 498.36,243.46 C498.36,244.60 496.28,246.16 495.50,247.20 Z" fill="#000"/>
<path d="M518.00,236.20 C517.22,235.16 515.14,233.60 515.14,232.46 C515.14,230.74 517.74,230.74 518.00,232.30 C518.26,230.74 520.86,230.74 520.86,232.46 C520.86,233.60 518.78,235.16 518.00,236.20 Z" fill="#000"/>
<path d="M544.40,240.90 C543.62,239.86 541.54,238.30 541.54,237.16 C541.54,235.44 544.14,235.44 544.40,237.00 C544.66,235.44 547.26,235.44 547.26,237.16 C547.26,238.30 545.18,239.86 544.40,240.90 Z" fill="#000"/>
<path d="M561.50,234.00 C560.72,232.96 558.64,231.40 558.64,230.26 C558.64,228.54 561.24,228.54 561.50,230.10 C561.76,228.54 564.36,228.54 564.36,230.26 C564.36,231.40 562.28,232.96 561.50,234.00 Z" fill="#000"/>
<path d="M580.70,240.90 C579.92,239.86 577.84,238.30 577.84,237.16 C577.84,235.44 580.44,235.44 580.70,237.00 C580.96,235.44 583.56,235.44 583.56,237.16 C583.56,238.30 581.48,239.86 580.70,240.90 Z" fill="#000"/>
<path d="M601.30,201.70 C600.52,200.66 598.44,199.10 598.44,197.96 C598.44,196.24 601.04,196.24 601.30,197.80 C601.56,196.24 604.16,196.24 604.16,197.96 C604.16,199.10 602.08,200.66 601.30,201.70 Z" fill="#000"/>
<rect x="266.2" y="367.5" width="180.10000000000002" height="144.89999999999998" fill="none" stroke="#939393" stroke-width="1"/>
<line x1="266.20" y1="512.4" x2="266.20" y2="514.6" stroke="#939393" stroke-width="1"/>
<line x1="284.21" y1="512.4" x2="284.21" y2="513.6" stroke="#939393" stroke-width="1"/>
<line x1="302.22" y1="512.4" x2="302.22" y2="514.6" stroke="#939393" stroke-width="1"/>
<line x1="320.23" y1="512.4" x2="320.23" y2="513.6" stroke="#939393" stroke-width="1"/>
<line x1="338.24" y1="512.4" x2="338.24" y2="514.6" stroke="#939393" stroke-width="1"/>
<line x1="356.25" y1="512.4" x2="356.25" y2="513.6" stroke="#939393" stroke-width="1"/>
<line x1="374.26" y1="512.4" x2="374.26" y2="514.6" stroke="#939393" stroke-width="1"/>
<line x1="392.27" y1="512.4" x2="392.27" y2="513.6" stroke="#939393" stroke-width="1"/>
<line x1="410.28" y1="512.4" x2="410.28" y2="514.6" stroke="#939393" stroke-width="1"/>
<line x1="428.29" y1="512.4" x2="428.29" y2="513.6" stroke="#939393" stroke-width="1"/>
<line x1="446.30" y1="512.4" x2="446.30" y2="514.6" stroke="#939393" stroke-width="1"/>
<text x="266.20" y="525.30" font-size="10.2" text-anchor="middle" font-weight="normal" fill="#111">1000</text>
<text x="302.22" y="525.30" font-size="10.2" text-anchor="middle" font-weight="normal" fill="#111">1200</text>
<text x="338.24" y="525.30" font-size="10.2" text-anchor="middle" font-weight="normal" fill="#111">1400</text>
<text x="374.26" y="525.30" font-size="10.2" text-anchor="middle" font-weight="normal" fill="#111">1600</text>
<text x="410.28" y="525.30" font-size="10.2" text-anchor="middle" font-weight="normal" fill="#111">1800</text>
<text x="446.30" y="525.30" font-size="10.2" text-anchor="middle" font-weight="normal" fill="#111">2000</text>
<text x="356.00" y="538.60" font-size="10.8" text-anchor="middle" font-weight="normal" fill="#111">Raman shift (cm<tspan dy="-3.6" font-size="6.5">-1</tspan><tspan dy="3.6">)</tspan></text>
<text x="260.00" y="436.80" font-size="11.0" text-anchor="middle" font-weight="normal" fill="#111" transform="rotate(-90 260 436.8)">Intensity (arb. units)</text>
<text x="385.20" y="379.30" font-size="8.9" text-anchor="start" font-weight="bold" fill="#000">MB 5×10<tspan dy="-3.3" font-size="6">-5</tspan><tspan dy="3.3"> M</tspan></text>
<path transform="scale(0.1)" d="M2662,4392l3 1 4-4 3-1 4 1 3 2 4-6 3-2 4 1 3 0 4-5 3-5 4-5 3-5 4-8 3-15 4-20 3-23 3-20 4-21 3-14 4-2 3 10 4 18 3 21 4 21 3 15 4 14 3 14 4 12 3 4 4 5 3 9 4 4 3-4 3-3 4 0 3 1 4-2 3 3 4 2 3-2 4-4 3 5 4 2 3-4 4-5 3 2 4 4 3 0 4 0 3 0 3-2 4-3 3-3 4-1 3 4 4 1 3 1 4-4 3-3 4-4 3-5 4-2 3-6 4-8 3-8 3-7 4-5 3-10 4-8 3-10 4-8 3-14 4-12 3-12 4-10 3-13 4-10 3-4 4-4 3-2 4 1 3 3 3 6 4 7 3 5 4-1 3 2 4 5 3 5 4 3 3 0 4 3 3 11 4 14 3 9 4 9 3 11 4 16 3 15 3 14 4 4 3 6 4 5 3 4 4 2 3 3 4 2 3-3 4-5 3-5 4-6 3-4 4-8 3-5 4-3 3 2 3 3 4 5 3 0 4 3 3 5 4 10 3 5 4 3 3 1 4 2 3 1 4 1 3 4 4 2 3 0 4 1 3 0 3 3 4-1 3 1 4-3 3 0 4-1 3 3 4 0 3 0 4-4 3-4 4-1 3-3 4-6 3-10 4-10 3-12 3-13 4-17 3-22 4-16 3 1 4 16 3 14 4 12 3 12 4 14 3 13 4 8 3 2 4-3 3-6 4-6 3-4 3 1 4-6 3-7 4 1 3 8 4 5 3 7 4 7 3 7 4 0 3 5 4 3 3 8 4 3 3 2 4-8 3-3 3-1 4 4 3 0 4-2 3-8 4-4 3-5 4-5 3-9 4-9 3-14 4-18 3-21 4-27 3-35 3-39 4-43 3-36 4-22 3 0 4 7 3 21 4 27 3 34 4 30 3 31 4 25 3 18 4 8 3 0 4-7 3-13 3-18 4-25 3-18 4-17 3-14 4-17 3 10 4 17 3 24 4 19 3 24 4 23 3 22 4 25 3 16 4 8 3 1 3 4 4 0 3-3 4-2 3-2 4-2 3-3 4-5 3-10 4-4 3 5 4 7 3 4 4 2 3-2 4-3 3-1 3-2 4-6 3-13 4-12 3-11 4-9 3-8 4-7 3 2 4 6 3 7 4 7 3 15 4 20 3 11 4 7 3 6 3 12 4 10 3 9 4 8 3 3 4-1 3-1 4 3 3 4 4 0 3-2 4-1 3 3 4 0 3-2 4 1 3 5 3-2 4-4 3 2 4 3 3-2 4-4 3 1 4 2 3 1 4-2 3-2 4-2 3 4 4 3 3 1 4-6 3-5 3-2 4 1 3 6 4 1 3-3 4-7 3-2 4-2 3 1 4-2 3-6 4-10 3-12 4-18 3-32 4-47 3-67 3-80 4-96 3-102 4-88 3-46 4 8 3 63 4 93 3 103 4 85 3 73 4 56 3 45 4 29 3 17 3 11 4 8 3 8 4 8 3 7 4 1 3-2 4-3 3 5 4 1 3 2 4 1 3 2 4-1 3 1 4 1 3-2 3 0 4 1 3-1 4-1 3 0 4 3 3 2 4 3 3-2 4-3 3 0 4 0 3 3 4 1 3 2 4-3 3-1 3 0 4-5 3 2 4 3 3 0 4-4 3 1 4 3 3-1 4 0 3 2 4 0 3 0 4-3 3 0 4 2 3 2 3 4 4 3 3-1 4-4 3-4 4-1 3 1 4-3 3-3 4 1 3 6 4 3 3 1 4-1 3-4 4 0 3 2 3 0 4 0 3 2 4 0 3-2 4 4 3 1 4-2 3-6 4 0 3-1 4 2 3-2 4 2 3 0 4 2 3 0 3-1 4 0 3-2 4 3 3-1 4-2 3-5 4 2 3 4 4 7 3-2 4 2 3-3 4 1 3-3 4 1 3 1 3-2 4-5 3-4 4 3 3 6 4 1 3 0 4 0 3 1 4 0 3-1 4 3 3-2 4 0 3 1 4 4 3-4 3-4 4-1 3 2 4 2 3-2 4 0 3 3 4 4 3 0 4-2 3-3 4-2 3-3 4-2 3-2 3 2 4 3 3 1 4 1 3 2 4-1 3 2 4 1 3 0 4-4 3-1 4 1 3-1 4 3 3 0 4 0 3-5 3 3 4 1 3 5 4-1 3-2 4 1 3 4 4 2 3-4 4-2 3-4 4-1 3-2 4-1 3 1 4 3 3 4 3 0 4-3 3-1 4-1 3-3 4-2 3 0 4 1 3-1 4 1 3 3 4 3 3 2 4 2 3 1 4-2 3-3" fill="none" stroke="#ff1010" stroke-width="16.0" stroke-linejoin="round" opacity="1"/>
<path transform="scale(0.1)" d="M2662,4517l3-1 4-3 3 2 4-1 3-1 4 0 3 5 4 2 3-1 4-6 3-7 4-2 3 1 4-6 3-9 4-6 3-2 3-6 4-9 3-7 4-1 3 3 4 6 3 5 4 10 3 9 4 4 3 2 4 4 3 6 4 2 3 2 4-2 3-4 3 2 4 5 3 4 4 2 3 0 4-6 3-4 4-1 3 3 4 2 3 1 4-2 3-1 4-2 3 1 4 5 3 2 3-1 4-2 3 1 4 4 3-3 4-5 3-3 4 0 3-2 4-2 3 1 4-3 3-4 4-6 3-3 3-1 4 1 3-1 4-2 3-5 4-5 3-8 4-7 3-4 4-1 3 1 4-1 3 1 4-4 3-1 4 0 3 2 3 3 4 2 3 0 4-5 3 3 4 3 3 6 4-3 3-1 4-2 3 8 4 6 3 6 4 6 3 7 4 6 3 3 3 5 4-1 3-1 4-1 3 3 4 1 3 1 4-1 3-1 4-3 3-1 4-3 3 0 4-2 3-2 4-6 3-2 3 4 4 7 3 2 4 0 3 6 4 3 3-1 4 1 3 5 4-1 3-2 4 1 3 3 4-3 3 1 4 1 3 1 3-4 4 0 3 0 4 0 3 0 4-3 3 5 4 3 3 1 4-3 3-2 4-3 3 0 4 2 3-4 4-8 3-4 3-6 4-8 3-6 4-2 3-3 4-2 3 7 4 11 3 6 4 1 3 3 4 5 3 2 4-2 3 2 4-1 3-1 3-3 4 1 3-1 4 0 3 1 4 0 3-1 4 4 3 2 4 4 3 0 4 2 3-3 4 2 3 1 4-2 3-5 3 1 4 2 3-1 4-2 3-1 4-2 3 4 4 1 3-10 4-9 3-1 4-2 3-8 4-11 3-13 3-19 4-15 3-12 4-6 3-1 4 5 3 9 4 8 3 11 4 14 3 14 4 4 3 2 4 4 3 4 4-2 3-3 3-8 4-5 3-6 4-6 3-11 4-2 3-2 4 1 3 6 4 15 3 15 4 9 3 8 4 8 3 2 4-1 3 3 3 7 4 2 3-1 4-4 3-3 4-4 3 1 4 0 3 1 4-1 3-4 4-3 3 2 4 1 3-3 4 3 3 3 3 1 4-7 3-8 4-3 3 0 4-4 3-9 4-3 3 0 4 6 3 7 4 5 3 4 4 7 3 5 4 1 3 3 3 6 4 1 3-1 4 5 3 4 4 5 3 4 4-2 3-4 4-4 3 2 4 1 3 1 4-1 3-1 4 2 3 0 3-4 4-5 3 0 4 2 3 2 4 1 3-2 4 3 3 3 4 0 3-6 4-2 3 3 4 6 3 0 4 0 3-2 3 1 4 2 3 0 4-4 3-4 4 2 3 2 4-3 3-5 4-1 3 1 4-2 3-7 4-8 3-14 4-18 3-26 3-33 4-40 3-39 4-32 3-19 4 2 3 26 4 40 3 41 4 35 3 29 4 19 3 15 4 11 3 7 3 3 4 6 3 6 4 3 3 0 4-1 3-7 4-2 3 4 4 7 3 2 4-3 3 0 4 1 3 1 4-3 3-4 3 1 4 3 3 6 4 2 3 2 4-2 3-2 4-3 3-1 4 1 3 4 4 4 3-1 4-1 3 1 4-1 3 0 3-1 4 1 3-2 4-2 3 1 4 1 3-4 4-3 3 3 4 1 3 1 4-2 3 5 4-2 3 1 4-3 3 1 3 3 4 4 3 2 4-4 3-5 4-3 3-1 4-3 3 4 4 6 3 5 4-4 3-3 4-1 3-2 4-1 3 3 3 5 4-2 3-4 4-2 3 3 4 2 3 0 4-3 3 1 4 3 3 1 4-5 3-1 4 2 3 0 4-1 3 4 3 4 4-1 3-4 4-2 3 4 4-1 3-1 4-3 3 3 4 0 3 1 4 4 3 2 4-3 3-5 4 1 3 1 3-3 4-3 3 1 4 3 3 4 4-1 3-1 4-4 3 0 4-4 3 2 4 1 3 4 4 3 3 5 4-2 3-1 3-7 4-4 3-4 4 5 3 0 4 3 3 3 4 3 3-2 4-2 3-2 4 3 3 0 4-3 3-4 3 7 4 4 3 0 4-6 3-2 4-1 3 3 4 3 3 2 4-4 3 1 4 1 3 5 4-5 3-4 4-1 3 2 3-1 4-1 3 2 4 1 3 0 4 4 3 2 4-2 3-4 4-6 3-2 4 0 3 8 4 5 3 0 4-8 3-3 3 4 4 3 3-2 4-5 3-2 4 4 3 3 4 2 3-4 4 1 3 0 4-1 3 3 4 3 3-1 4-3 3 2" fill="none" stroke="#1a1a9a" stroke-width="16.0" stroke-linejoin="round" opacity="1"/>
<path transform="scale(0.1)" d="M2662,4640l3 0 4-3 3 2 4 5 3 1 4-4 3-2 4 1 3-2 4-3 3-2 4-1 3-2 4 0 3-1 4-1 3-7 3-4 4-5 3 1 4-3 3 1 4 3 3 7 4 3 3 2 4 2 3 2 4-1 3 2 4 4 3 6 4-2 3-3 3-2 4 4 3 4 4-1 3-4 4-3 3 3 4 2 3 0 4-2 3-1 4-1 3 0 4 1 3 0 4 0 3 3 3 2 4 1 3-2 4 0 3-4 4-1 3-1 4 4 3 0 4 0 3-5 4-3 3-2 4 0 3 2 3-2 4-3 3 1 4 2 3-1 4-5 3-6 4-5 3 0 4-2 3-2 4-2 3-1 4 2 3 0 4 2 3 1 3 0 4 0 3-1 4 1 3-2 4 0 3 1 4 2 3 2 4 4 3 4 4 5 3 1 4 0 3 1 4 2 3 1 3-1 4 1 3 4 4 2 3 3 4 0 3-2 4 0 3 0 4 0 3-3 4 3 3-1 4-2 3-4 4-1 3-4 3 0 4 5 3 4 4 0 3-3 4-1 3 1 4 1 3 3 4 4 3 4 4-1 3 1 4-2 3-1 4 0 3 4 3-1 4-5 3-6 4-5 3 0 4 7 3 10 4 1 3-2 4-3 3 1 4-1 3-4 4-3 3-1 4 2 3 1 3-2 4-6 3-10 4-5 3-1 4 5 3 6 4 7 3 4 4-3 3 0 4 0 3 5 4-3 3-1 4-2 3 1 3 1 4-2 3 0 4 2 3 4 4 0 3-5 4-2 3 3 4 3 3-1 4-1 3 2 4 1 3-1 4-3 3 1 3 4 4 6 3-3 4-7 3-3 4 4 3 0 4-1 3 1 4 0 3-6 4-4 3-4 4-7 3-10 3-9 4-7 3 0 4-3 3 0 4 0 3 6 4 5 3 3 4 6 3 7 4 6 3 2 4 0 3-3 4-4 3-1 3 0 4-2 3-5 4-6 3-2 4 0 3 0 4-3 3-1 4 8 3 11 4 11 3 5 4 2 3-3 4 2 3 5 3 6 4 1 3-1 4-3 3 0 4-3 3 0 4 1 3-5 4-3 3 1 4 1 3-8 4 0 3 7 4 4 3-6 3-1 4 1 3-1 4-5 3-3 4 0 3 2 4-1 3 0 4-2 3 2 4 2 3 1 4 1 3 4 4 4 3 2 3 4 4 1 3 1 4-4 3-3 4 0 3 6 4 6 3-1 4-3 3-3 4 6 3 0 4-2 3 0 4 3 3 0 3-2 4-1 3 1 4 1 3-1 4-3 3 3 4 3 3 1 4-5 3 0 4 4 3 0 4-5 3-1 4 1 3 2 3-2 4 3 3 0 4-3 3-4 4-4 3-1 4 1 3-1 4 0 3-1 4 2 3-2 4-2 3-8 4-9 3-16 3-17 4-25 3-23 4-23 3-10 4 6 3 18 4 23 3 21 4 18 3 13 4 14 3 14 4 8 3 4 3 3 4 0 3-3 4-2 3 5 4 4 3 0 4-5 3-2 4 4 3 4 4 1 3-2 4-2 3-1 4-4 3 4 3 0 4-1 3-2 4 2 3 1 4 2 3 2 4 0 3-2 4-2 3 1 4 2 3-1 4-2 3 3 4 2 3-3 3-2 4-2 3 0 4-2 3 2 4-3 3 1 4 6 3 3 4-2 3-2 4 0 3 1 4 4 3 5 4-1 3-3 3-5 4-2 3 4 4 6 3 1 4-3 3-5 4-2 3-1 4 0 3 0 4 0 3 2 4 2 3 0 4-3 3 0 3 0 4 2 3 0 4-1 3 3 4 3 3 4 4 1 3-1 4-5 3-4 4-1 3-1 4-4 3 1 4 0 3 2 3 2 4 4 3 2 4 1 3-1 4-4 3-6 4 2 3 2 4 4 3-2 4 0 3 2 4 0 3-1 4-1 3 3 3 1 4-2 3-3 4-1 3 0 4-3 3 1 4 4 3 1 4-1 3-4 4 0 3 0 4 2 3-3 4-5 3 0 3 5 4 1 3 2 4 0 3 2 4-2 3 2 4 3 3 5 4 1 3-3 4-3 3-6 4-4 3 1 3 5 4 2 3-1 4 0 3-2 4 0 3-1 4 2 3 1 4-4 3-4 4-1 3 4 4 0 3 2 4 1 3 3 3-1 4 1 3-2 4-2 3-3 4 3 3 1 4 1 3-2 4 4 3 1 4 5 3 0 4-3 3-7 4-1 3 6 3 7 4 1 3-9 4-8 3 2 4 4 3 3 4 0 3 0 4-3 3-1 4-1 3-2 4 3 3 0 4-3 3-2" fill="none" stroke="#209020" stroke-width="16.0" stroke-linejoin="round" opacity="1"/>
<path transform="scale(0.1)" d="M2662,4759l3 1 4 6 3 11 4-5 3-7 4-8 3 7 4-4 3-5 4-3 3 8 4 5 3 1 4-3 3-1 4-7 3-3 3-2 4-6 3-2 4 7 3 6 4 5 3-1 4-3 3-7 4 4 3 13 4 2 3-4 4-3 3-3 4 3 3 6 3 15 4-4 3-10 4-10 3 2 4 5 3-1 4 0 3 4 4-2 3-7 4-5 3 2 4 3 3 5 4 0 3-1 3-2 4 2 3 2 4-1 3 2 4-3 3 1 4-10 3 4 4 5 3 4 4-6 3-7 4-3 3 1 3-2 4-9 3 3 4 7 3 2 4-8 3-6 4 2 3 5 4 2 3 6 4 1 3-9 4-15 3 0 4 12 3 3 3 1 4-10 3 1 4 15 3 8 4-14 3-9 4 11 3 12 4-4 3-6 4-2 3 12 4 5 3-4 4-8 3 5 3 1 4-7 3-1 4 9 3 0 4-2 3 0 4-3 3-5 4 3 3 15 4 2 3-5 4-6 3-4 4 3 3 6 3 8 4-6 3 0 4 5 3 3 4-5 3-2 4-6 3 7 4 0 3 3 4-9 3-8 4-4 3 4 4 4 3 4 3 1 4-2 3-5 4 1 3 2 4 3 3 9 4-3 3-13 4-3 3 5 4 10 3 1 4 2 3-2 4-2 3-8 3-11 4 1 3-3 4-2 3-8 4 9 3-5 4 4 3 6 4 19 3-3 4-11 3-7 4 2 3 7 4 6 3 9 3 1 4-5 3-4 4-9 3-8 4-1 3 11 4 1 3-3 4 2 3 3 4 1 3 0 4-4 3-1 4 1 3-2 3-3 4 6 3 9 4-3 3-14 4-6 3 8 4 3 3-3 4 4 3 4 4 4 3-6 4-4 3-17 3-1 4 2 3-2 4-15 3-6 4 7 3 8 4 8 3-4 4 2 3 3 4 7 3 7 4 1 3 2 4-4 3 1 3-10 4-4 3-12 4 8 3-1 4-1 3-9 4-1 3 9 4 8 3 5 4-6 3 6 4 5 3 5 4 2 3 6 3-4 4-5 3-12 4-2 3 8 4 9 3 4 4-3 3 1 4-1 3 3 4 3 3-4 4-3 3-1 4-6 3-5 3-2 4 2 3-8 4-6 3 8 4 7 3-1 4-9 3 3 4 4 3 9 4 3 3 6 4-5 3-1 4 2 3 6 3-3 4 0 3 2 4 2 3-3 4 0 3-2 4 3 3 3 4 1 3 3 4-5 3-1 4-12 3-1 4 1 3 11 3 1 4-3 3-4 4-1 3 0 4-1 3 4 4 4 3 1 4-1 3 1 4-5 3-5 4 4 3 2 4 3 3 2 3-1 4-3 3 0 4 3 3-9 4 4 3 5 4 6 3-8 4-6 3-4 4-5 3-4 4 4 3 8 4-3 3-15 3-18 4-23 3-19 4-19 3-11 4-2 3 19 4 16 3 19 4 15 3 16 4 2 3 6 4 7 3 5 3 3 4 1 3 4 4-1 3 9 4 3 3 2 4-6 3-11 4-6 3 3 4 4 3 3 4 4 3 3 4-2 3 0 3 0 4 2 3 0 4-9 3-3 4 2 3 10 4 3 3 0 4-3 3-1 4-2 3-4 4-2 3-5 4 6 3 10 3 3 4-6 3-9 4-5 3 3 4 14 3 9 4-4 3-3 4-1 3 6 4-5 3-2 4 1 3 11 4-4 3-7 3-10 4-5 3 0 4 5 3 13 4 2 3-5 4-7 3 8 4-1 3-5 4-6 3 8 4 9 3 0 4-3 3-2 3-6 4-11 3-7 4 9 3 12 4 4 3-3 4-5 3 1 4 1 3 3 4-1 3-6 4-3 3 8 4-4 3-10 3 8 4 13 3 5 4-4 3 2 4-4 3-4 4 2 3 6 4 8 3-4 4-8 3-12 4-4 3 0 4 6 3-4 3 1 4 8 3 10 4-5 3-12 4-1 3 9 4 4 3-3 4 0 3 7 4-3 3 2 4-7 3-3 4-5 3 1 3 1 4 3 3 3 4-5 3-10 4 2 3 6 4 0 3-3 4-3 3 5 4-6 3 3 4 0 3 8 3 4 4-2 3-4 4 6 3 7 4-7 3-14 4-1 3 9 4 0 3-6 4 1 3 3 4 5 3 5 4-1 3-7 3-4 4 2 3 7 4 2 3-7 4-8 3-1 4 9 3 5 4 4 3-2 4 2 3-4 4-6 3-6 4-5 3 1 3 3 4 6 3 7 4 9 3-2 4-7 3-2 4 6 3-1 4-1 3-5 4-1 3 6 4-2 3 2 4-2 3 3" fill="none" stroke="#7a4a1e" stroke-width="16.0" stroke-linejoin="round" opacity="1"/>
<path transform="scale(0.1)" d="M2662,4888l3 0 4 0 3-1 4-1 3 3 4 4 3 0 4 0 3-3 4-1 3 0 4 1 3-2 4-4 3 1 4-1 3-4 3-5 4-4 3 1 4 3 3 1 4 3 3 1 4 4 3 1 4 1 3-1 4 2 3 3 4 0 3 1 4 1 3-5 3-3 4 0 3 4 4 0 3-1 4 3 3 1 4 0 3-4 4 0 3-1 4 4 3 1 4 2 3 1 4-1 3-1 3 0 4 2 3-2 4-2 3 3 4 0 3 0 4-7 3-2 4-3 3 8 4-1 3-1 4-2 3 3 3-4 4-2 3 0 4 0 3-3 4 2 3-1 4-2 3-4 4-4 3-4 4 0 3 0 4 4 3-1 4 3 3 0 3 1 4-1 3-1 4 4 3 1 4 0 3-6 4 1 3 0 4 1 3-4 4 3 3 5 4 5 3 3 4 1 3 2 3-3 4 0 3 3 4 6 3 3 4 1 3 3 4-6 3-5 4-4 3 3 4 0 3 4 4-4 3-2 4-6 3 3 3-2 4 0 3 2 4 5 3 4 4 1 3 1 4-4 3-4 4 1 3 0 4 1 3 0 4 4 3 1 4-7 3-2 3 3 4 8 3-4 4-5 3-4 4-1 3 3 4 1 3 3 4-1 3-1 4-1 3 2 4 3 3 2 4 3 3-2 3-3 4-4 3-8 4-4 3 2 4 3 3 1 4 1 3 3 4 0 3 2 4 3 3-1 4-1 3 0 4 0 3-2 3-1 4 0 3 0 4 2 3 1 4 1 3-6 4-1 3 1 4 5 3-2 4-3 3 1 4 2 3 1 4 0 3 5 3 2 4 4 3 0 4-3 3-7 4-1 3 4 4 2 3 0 4-1 3 1 4-5 3-10 4-7 3-3 3 0 4-6 3-1 4-6 3-1 4 1 3 4 4 0 3 1 4 6 3 7 4 3 3 0 4-2 3 4 4 1 3-1 3-8 4-3 3-4 4 1 3 2 4 1 3-3 4-2 3 1 4 5 3 4 4 5 3 5 4 6 3 1 4 1 3-2 3-2 4-1 3 6 4 1 3-4 4-6 3 2 4-1 3-2 4 0 3 2 4 3 3 0 4 3 3-6 4 1 3 3 3 2 4-6 3-3 4-1 3 1 4-3 3-3 4-1 3 5 4 1 3-2 4 0 3 4 4 4 3 3 4-3 3 0 3 2 4 5 3 1 4-3 3 1 4 2 3 0 4-7 3-1 4-1 3 3 4 5 3 6 4 1 3-3 4-2 3-1 3-3 4 3 3 3 4-1 3-7 4 0 3 7 4-1 3-3 4-4 3 4 4 2 3 1 4-3 3 3 4 0 3-4 3-1 4 1 3-2 4-4 3 2 4 3 3 2 4-1 3 2 4-1 3 0 4 0 3-4 4-3 3-9 4-3 3-13 3-12 4-15 3-13 4-12 3-8 4-2 3 9 4 18 3 16 4 10 3 9 4 12 3 6 4 3 3 3 3 5 4 0 3-3 4-2 3-2 4 1 3 2 4 3 3-1 4 1 3 4 4 0 3 3 4 2 3 3 4 1 3-3 3-3 4-2 3 2 4 1 3-2 4-3 3 0 4 1 3 1 4-4 3 1 4 2 3 6 4 3 3-1 4-5 3-4 3-1 4-1 3 4 4 5 3 4 4-4 3 1 4 0 3-3 4-6 3-4 4 3 3 5 4 3 3 0 4-1 3 0 3-3 4-3 3-3 4-1 3 3 4 2 3 2 4 2 3 4 4 1 3-3 4-5 3-1 4 0 3 2 4-2 3-1 3 1 4 2 3 0 4-1 3-2 4 1 3 2 4 3 3-1 4-5 3-3 4-1 3 7 4 3 3 0 4-5 3 1 3 2 4 0 3-1 4 0 3 2 4 0 3-1 4-3 3 0 4 1 3 2 4-2 3 1 4 1 3 1 4 0 3-1 3-3 4-2 3-1 4 0 3 0 4 2 3-1 4 1 3 2 4-1 3 0 4 0 3-1 4 1 3 2 4 3 3 2 3 4 4-3 3-3 4-1 3 2 4-1 3-1 4 1 3-1 4 1 3 1 4-2 3-4 4 3 3 1 3 0 4-5 3 1 4-2 3 5 4 4 3 2 4-2 3 0 4 0 3-1 4-1 3 0 4-1 3 2 4 1 3 1 3-2 4-2 3 0 4 2 3-1 4-5 3 0 4 1 3 0 4 0 3 2 4 1 3-2 4 0 3 0 4 3 3 2 3 0 4-3 3 0 4 1 3-3 4-1 3-2 4 2 3 2 4 1 3 0 4-2 3 4 4 1 3 2 4-3 3-2" fill="none" stroke="#a86a34" stroke-width="16.0" stroke-linejoin="round" opacity="1"/>
<path transform="scale(0.1)" d="M2662,5012l3-1 4-2 3-1 4 0 3 0 4-1 3 2 4 0 3 1 4-1 3 2 4 0 3 0 4 1 3-1 4-5 3-3 3-2 4 0 3 1 4 4 3 1 4-3 3-2 4 4 3 4 4 0 3-1 4 2 3 1 4 0 3 2 4 1 3 0 3-4 4-3 3-3 4-2 3 4 4 4 3-1 4-4 3 4 4 3 3 1 4-3 3-3 4-2 3 2 4 1 3 0 3-2 4 1 3 0 4 1 3 0 4-2 3-2 4-1 3 5 4 3 3 0 4-4 3 1 4 0 3 0 3 0 4-1 3-2 4-2 3-1 4-3 3 2 4 2 3 1 4-3 3-2 4-3 3-1 4-1 3 2 4 2 3 4 3 1 4 2 3 0 4-4 3-3 4-1 3 2 4 2 3 0 4-1 3 0 4 3 3 4 4 0 3-5 4-4 3-3 3 7 4 7 3 2 4-2 3-1 4 3 3-3 4 0 3-1 4-3 3-2 4 2 3 6 4-2 3-2 4-3 3 3 3 0 4 3 3-2 4-2 3-2 4 3 3 3 4 2 3 1 4 1 3-2 4-2 3-1 4 0 3-2 4 0 3 1 3-1 4 0 3 1 4-1 3-3 4 4 3 1 4-1 3-2 4 2 3 2 4 1 3-2 4-3 3 5 4 2 3-3 3-6 4-3 3-5 4 1 3 1 4 2 3 2 4 3 3-3 4 0 3 2 4 3 3-1 4 1 3-1 4 0 3-1 3 3 4-1 3 0 4-1 3 1 4 0 3 0 4-4 3 0 4 3 3 3 4-1 3-1 4 0 3-1 4 2 3 3 3 0 4-2 3 0 4 1 3 0 4 1 3-4 4-1 3 1 4 0 3-4 4 1 3 0 4 2 3-5 3-4 4-4 3 1 4 0 3-1 4 1 3 1 4-1 3 0 4 5 3 5 4-1 3 0 4 2 3 1 4-3 3-4 3-1 4 0 3-1 4 0 3-1 4 0 3-2 4 1 3 1 4 3 3 2 4 1 3 1 4 3 3-1 4-1 3-3 3 2 4 3 3 7 4-2 3-3 4-1 3-1 4-2 3 0 4 2 3-1 4-1 3 1 4 1 3 3 4-1 3-3 3-1 4 5 3 2 4-1 3-8 4-3 3-3 4 4 3 4 4 2 3-1 4 1 3-1 4-2 3 0 4 4 3 4 3 2 4-3 3 0 4 2 3 1 4-3 3-2 4-2 3 0 4-3 3 1 4 2 3 4 4-3 3-4 4-1 3 3 3 1 4 1 3 2 4 6 3 0 4-1 3-5 4 0 3 1 4 2 3 0 4-2 3 0 4-1 3 0 4 0 3-1 3 0 4 0 3 0 4 1 3 1 4 1 3-1 4-3 3-2 4 1 3 1 4-1 3-4 4-1 3-4 4-6 3-7 3-10 4-12 3-13 4-9 3-8 4 2 3 5 4 10 3 11 4 15 3 9 4 6 3 7 4 3 3 0 3 3 4 3 3 0 4-2 3 1 4 2 3-2 4 1 3 2 4 3 3 2 4 1 3 1 4-3 3-5 4-3 3 0 3 4 4 1 3 1 4-5 3-2 4 1 3 5 4 4 3-1 4-4 3-4 4 1 3 3 4 1 3 1 4-2 3 2 3 1 4 2 3-2 4 2 3-2 4-5 3-3 4 7 3 1 4-3 3-2 4 4 3 1 4-3 3-1 4 1 3 1 3-1 4 2 3 1 4 2 3-2 4 0 3-1 4 0 3 2 4 3 3 1 4-4 3-2 4-2 3-2 4-1 3 1 3 3 4 1 3-1 4-2 3 0 4-3 3 3 4 4 3 1 4-7 3 0 4 4 3 2 4-4 3 2 4 4 3 1 3-1 4 1 3-4 4-4 3-1 4 3 3 0 4 1 3 0 4-4 3-2 4 0 3 5 4-2 3 2 4-1 3 2 3-2 4 0 3 2 4 6 3-1 4-1 3 0 4 3 3-2 4-1 3-2 4 0 3-2 4-1 3-2 4 2 3 1 3 2 4 2 3 2 4 1 3-3 4-3 3 0 4-1 3 1 4 1 3 1 4-3 3-2 4 1 3 3 3-3 4 0 3 1 4 6 3 0 4 0 3-4 4-2 3-1 4 4 3 2 4-2 3-4 4 3 3 4 4 3 3-2 3-3 4 0 3-1 4 0 3-1 4 0 3-2 4 4 3 2 4-2 3 0 4 1 3 0 4 1 3 2 4-1 3-4 3-4 4-2 3 1 4 6 3 1 4-3 3-4 4 1 3 0 4 2 3 1 4-4 3 0 4 0 3 2 4-1 3 2" fill="none" stroke="#f4b888" stroke-width="16.0" stroke-linejoin="round" opacity="1"/>
<text x="384.30" y="433.20" font-size="8.2" text-anchor="start" font-weight="normal" fill="#ff2020">MB/WO<tspan dy="2.2" font-size="6" font-style="italic">3-x</tspan><tspan dy="-2.2">/WSe</tspan><tspan dy="2.2" font-size="6">2</tspan></text>
<text x="396.80" y="447.70" font-size="8.2" text-anchor="start" font-weight="normal" fill="#2020a0">MB/WO<tspan dy="2.2" font-size="6" font-style="italic">3-x</tspan></text>
<text x="396.00" y="461.20" font-size="8.2" text-anchor="start" font-weight="normal" fill="#1a8a1a">MB/NG</text>
<text x="396.00" y="472.90" font-size="8.2" text-anchor="start" font-weight="normal" fill="#6a3a10">MB/NbS<tspan dy="2.2" font-size="6">2</tspan></text>
<text x="396.00" y="486.10" font-size="8.2" text-anchor="start" font-weight="normal" fill="#a0602a">MB/WSe<tspan dy="2.2" font-size="6">2</tspan></text>
<text x="396.00" y="499.30" font-size="8.2" text-anchor="start" font-weight="normal" fill="#f5b080">MB/PG</text>
<path d="M272.20,424.90 C271.42,423.86 269.34,422.30 269.34,421.16 C269.34,419.44 271.94,419.44 272.20,421.00 C272.46,419.44 275.06,419.44 275.06,421.16 C275.06,422.30 272.98,423.86 272.20,424.90 Z" fill="#000"/>
<path d="M293.70,419.90 C292.92,418.86 290.84,417.30 290.84,416.16 C290.84,414.44 293.44,414.44 293.70,416.00 C293.96,414.44 296.56,414.44 296.56,416.16 C296.56,417.30 294.48,418.86 293.70,419.90 Z" fill="#000"/>
<path d="M320.40,424.90 C319.62,423.86 317.54,422.30 317.54,421.16 C317.54,419.44 320.14,419.44 320.40,421.00 C320.66,419.44 323.26,419.44 323.26,421.16 C323.26,422.30 321.18,423.86 320.40,424.90 Z" fill="#000"/>
<path d="M336.80,407.00 C336.02,405.96 333.94,404.40 333.94,403.26 C333.94,401.54 336.54,401.54 336.80,403.10 C337.06,401.54 339.66,401.54 339.66,403.26 C339.66,404.40 337.58,405.96 336.80,407.00 Z" fill="#000"/>
<path d="M356.00,421.30 C355.22,420.26 353.14,418.70 353.14,417.56 C353.14,415.84 355.74,415.84 356.00,417.40 C356.26,415.84 358.86,415.84 358.86,417.56 C358.86,418.70 356.78,420.26 356.00,421.30 Z" fill="#000"/>
<path d="M378.00,375.90 C377.22,374.86 375.14,373.30 375.14,372.16 C375.14,370.44 377.74,370.44 378.00,372.00 C378.26,370.44 380.86,370.44 380.86,372.16 C380.86,373.30 378.78,374.86 378.00,375.90 Z" fill="#000"/>
<rect x="492.4" y="367.5" width="179.0" height="143.89999999999998" fill="none" stroke="#939393" stroke-width="1"/>
<line x1="492.40" y1="511.4" x2="492.40" y2="513.6" stroke="#939393" stroke-width="1"/>
<line x1="510.30" y1="511.4" x2="510.30" y2="512.6" stroke="#939393" stroke-width="1"/>
<line x1="528.20" y1="511.4" x2="528.20" y2="513.6" stroke="#939393" stroke-width="1"/>
<line x1="546.10" y1="511.4" x2="546.10" y2="512.6" stroke="#939393" stroke-width="1"/>
<line x1="564.00" y1="511.4" x2="564.00" y2="513.6" stroke="#939393" stroke-width="1"/>
<line x1="581.90" y1="511.4" x2="581.90" y2="512.6" stroke="#939393" stroke-width="1"/>
<line x1="599.80" y1="511.4" x2="599.80" y2="513.6" stroke="#939393" stroke-width="1"/>
<line x1="617.70" y1="511.4" x2="617.70" y2="512.6" stroke="#939393" stroke-width="1"/>
<line x1="635.60" y1="511.4" x2="635.60" y2="513.6" stroke="#939393" stroke-width="1"/>
<line x1="653.50" y1="511.4" x2="653.50" y2="512.6" stroke="#939393" stroke-width="1"/>
<line x1="671.40" y1="511.4" x2="671.40" y2="513.6" stroke="#939393" stroke-width="1"/>
<text x="492.40" y="524.30" font-size="10.2" text-anchor="middle" font-weight="normal" fill="#111">1000</text>
<text x="528.20" y="524.30" font-size="10.2" text-anchor="middle" font-weight="normal" fill="#111">1200</text>
<text x="564.00" y="524.30" font-size="10.2" text-anchor="middle" font-weight="normal" fill="#111">1400</text>
<text x="599.80" y="524.30" font-size="10.2" text-anchor="middle" font-weight="normal" fill="#111">1600</text>
<text x="635.60" y="524.30" font-size="10.2" text-anchor="middle" font-weight="normal" fill="#111">1800</text>
<text x="671.40" y="524.30" font-size="10.2" text-anchor="middle" font-weight="normal" fill="#111">2000</text>
<text x="581.90" y="537.60" font-size="10.8" text-anchor="middle" font-weight="normal" fill="#111">Raman shift (cm<tspan dy="-3.6" font-size="6.5">-1</tspan><tspan dy="3.6">)</tspan></text>
<text x="486.30" y="435.20" font-size="11.0" text-anchor="middle" font-weight="normal" fill="#111" transform="rotate(-90 486.3 435.2)">Intensity (arb. units)</text>
<text x="498.00" y="380.30" font-size="8.8" text-anchor="start" font-weight="bold" fill="#000">MB/WO<tspan dy="2.4" font-size="6" font-style="italic">3-x</tspan><tspan dy="-2.4">/WSe</tspan><tspan dy="2.4" font-size="6">2</tspan></text>
<path transform="scale(0.1)" d="M4924,4160l3-2 4 14 3-18 4-6 3 22 4 2 3-16 4 6 3 23 3-29 4-2 3 13 4-5 3-4 4-22 3-30 4-20 3-24 4-5 3-7 3-3 4 29 3 15 4 24 3 14 4 10 3-12 4 23 3-4 3 17 4-15 3 2 4 2 3 10 4 8 3-7 4-3 3 1 4-2 3-1 3-6 4 7 3 16 4-6 3-25 4 9 3 6 4-7 3-2 3 8 4 11 3 0 4-8 3 4 4-7 3 1 4-7 3-13 3 7 4 13 3 7 4-3 3 11 4-10 3-13 4-3 3 16 4-23 3-15 3 6 4-10 3-3 4-21 3 11 4-7 3-23 4-15 3 4 3 3 4-17 3 3 4 15 3 1 4-1 3 9 4 5 3-1 4-1 3-18 3 21 4 9 3-6 4-8 3 21 4 5 3-9 4 13 3 7 3 8 4 23 3 4 4-12 3 5 4 6 3-3 4 10 3-4 3-6 4-15 3 12 4-28 3 9 4 5 3-18 4-19 3-6 4-4 3 24 3 3 4 1 3 27 4-6 3 5 4-11 3 17 4 11 3-4 3-5 4 12 3-11 4 16 3-10 4-1 3 5 4 4 3 11 4-17 3-17 3 12 4-9 3 2 4 1 3 6 4 8 3-12 4-12 3-10 3-7 4-5 3-4 4-12 3-14 4-34 3 9 4-8 3-24 3 29 4 3 3 0 4 23 3 2 4 16 3 15 4 7 3-5 4-21 3-24 3 8 4 14 3 11 4 1 3-1 4 12 3 5 4 11 3-6 3 17 4 10 3-10 4 11 3-23 4 19 3-9 4 6 3 8 4 0 3-19 3 10 4-12 3 12 4 0 3 0 4-14 3-3 4-13 3-2 3-10 4-27 3-37 4-26 3-39 4-27 3-27 4-5 3 28 3 38 4 28 3 36 4 26 3 36 4 4 3 3 4 27 3-6 4 18 3-17 3-14 4-3 3 3 4-19 3-7 4-21 3 9 4 0 3 16 3 35 4-18 3 19 4-5 3 14 4 3 3 8 4 7 3-5 4 13 3-6 3 11 4-9 3 2 4 3 3 2 4 15 3 16 4-26 3-11 3 6 4 2 3-3 4 19 3-28 4 1 3-11 4 15 3 3 3-20 4-3 3-6 4 14 3-7 4-7 3 0 4 10 3-6 4 5 3-8 3 17 4 9 3-7 4 14 3-12 4 0 3 7 4 11 3 1 3 4 4-31 3 18 4 18 3-11 4 13 3-6 4 15 3-33 3 23 4 9 3-8 4-22 3 12 4-22 3 18 4 15 3-2 4-5 3 0 3-5 4-21 3-5 4 16 3 0 4-4 3 2 4 2 3-9 3-10 4 5 3-6 4-9 3-2 4-14 3 2 4 0 3-3 4-4 3 2 3 8 4 9 3-15 4-37 3-33 4-66 3-48 4-61 3-57 3-37 4 13 3 39 4 66 3 55 4 65 3 47 4 41 3 1 3 5 4 11 3 14 4 3 3 15 4 14 3-21 4-11 3 12 4 12 3 7 3-15 4 17 3-13 4-8 3 4 4-1 3-4 4-12 3 2 3-5 4 11 3 1 4 10 3-7 4-10 3 3 4 4 3 1 4 12 3-17 3-3 4 7 3-6 4 9 3-1 4 2 3 0 4 4 3-5 3 4 4-8 3-2 4 12 3 7 4-14 3-3 4 0 3 6 3-4 4 6 3 2 4 11 3-3 4-8 3 7 4 8 3 6 4-1 3-19 3 6 4 3 3 16 4-5 3-19 4-2 3-1 4-3 3 7 3-6 4-5 3 7 4-2 3-12 4 7 3 9 4 1 3 21 4-1 3-15 3 10 4-7 3-19 4 14 3 16 4-7 3-1 4 10 3 1 3-4 4-13 3 4 4 0 3-6 4-9 3 10 4 4 3-14 3 37 4-2 3 2 4 3 3-13 4-7 3 20 4-13 3 18 4-4 3-17 3 9 4-10 3 6 4-4 3 5 4-12 3 1 4 11 3-21 3 13 4-10 3 2 4-10 3 17 4 9 3-7 4 9 3 6 4-12 3-2 3 2 4-1 3 1 4 0 3 15 4-10 3-2 4 2 3 10 3 13 4-18 3-4 4-2 3 4 4 9 3-2 4-5 3 2 3 1 4-7 3-4 4 10 3 4 4-11 3 20 4-4 3-4 4 10 3-6 3-3 4-4 3-10 4 4 3-3 4 24 3 3 4 3 3 2 3-11 4-13 3 18 4-3 3 2 4 10 3-3 4-13 3-7 4-1 3-16 3 14 4 17 3-16 4 9 3 9 4 0 3 0 4-2 3 3" fill="none" stroke="#1c1c8c" stroke-width="16" stroke-linejoin="round"/>
<path transform="scale(0.1)" d="M4924,4434l3-5 4 9 3 1 4-4 3 4 4-3 3-16 4 5 3 8 3-8 4 4 3 6 4-26 3-6 4-7 3-20 4-8 3-1 4-1 3 37 3-6 4 10 3 5 4-6 3 21 4 2 3 13 4 0 3-3 3-11 4 0 3 5 4 5 3 3 4 6 3-11 4 5 3 8 4-10 3 14 3-16 4-1 3-6 4 9 3 2 4-9 3-18 4 11 3-5 3-3 4-13 3 11 4 12 3-2 4 2 3 9 4 2 3-7 3-1 4-5 3-26 4-15 3 10 4 16 3-3 4-23 3 15 4-1 3-28 3-9 4-4 3-2 4-14 3-13 4-17 3-14 4 11 3-13 3-9 4-3 3-2 4 11 3-1 4 4 3 25 4 11 3 3 4-5 3 15 3 20 4-3 3 6 4 12 3 6 4-12 3 11 4 1 3 10 3 1 4-1 3-2 4 2 3 3 4 1 3-3 4 10 3 9 3-17 4 2 3 1 4 16 3-1 4-3 3-6 4 6 3 3 4-14 3 1 3 16 4-3 3 4 4-2 3-5 4 1 3 16 4-2 3 0 3 6 4 2 3-1 4-15 3-7 4 22 3-9 4 7 3-2 4 5 3 14 3-14 4 8 3-2 4 0 3-7 4-11 3-13 4-9 3-5 3-9 4 1 3-34 4-5 3-7 4-19 3 4 4-7 3-17 3 1 4 23 3 5 4-3 3 10 4 18 3 21 4-1 3 16 4 10 3-7 3 25 4 11 3-21 4-7 3 21 4 5 3-6 4-2 3 1 3-18 4 10 3 0 4 10 3-15 4 3 3 1 4-17 3 8 4 14 3 14 3-5 4-2 3-1 4-7 3-15 4-18 3-8 4 7 3-33 3-21 4-12 3-36 4-29 3-41 4-25 3-23 4 10 3 15 3 36 4 20 3 22 4 35 3 37 4 14 3 10 4 9 3 6 4-10 3 8 3 1 4-36 3-5 4-13 3-3 4-11 3-14 4-8 3-7 3 20 4 29 3 9 4 13 3 0 4 12 3-9 4 13 3 4 4-11 3 14 3-8 4 20 3-14 4-14 3-4 4-2 3-6 4 13 3-14 3-8 4 11 3 12 4-6 3-2 4 12 3 5 4-5 3 3 3 5 4-1 3-3 4-13 3 8 4-7 3-12 4 21 3 23 4-7 3-14 3 2 4 23 3 25 4-5 3 12 4-16 3-6 4-5 3-4 3 16 4 2 3 14 4 2 3-16 4-2 3 2 4 11 3 1 3-12 4 10 3-11 4 9 3 8 4 6 3-9 4 6 3-6 4-3 3-17 3 11 4 21 3-2 4 4 3-3 4-4 3-18 4 18 3-5 3-12 4 13 3 15 4-11 3-7 4 9 3-27 4 11 3-4 4 9 3-8 3-13 4 2 3-28 4-22 3-41 4-69 3-28 4-67 3-81 3-39 4 16 3 51 4 53 3 60 4 70 3 38 4 43 3 10 3 24 4 0 3 4 4 7 3 12 4-3 3-5 4-5 3 21 4-6 3-13 3 0 4-1 3 9 4 17 3-4 4-15 3-5 4 16 3-26 3 7 4 12 3-7 4 3 3 8 4-2 3-1 4-13 3 10 4 8 3-8 3-1 4 6 3 2 4-8 3 6 4 7 3-11 4 13 3-5 3 7 4-18 3 14 4-10 3 7 4-5 3-12 4 18 3-10 3 0 4 20 3-13 4-11 3-1 4 22 3-19 4 2 3-1 4 10 3-4 3-11 4-10 3 15 4 2 3 21 4-6 3-3 4 0 3-3 3 0 4-2 3-2 4 9 3 0 4-5 3-4 4-17 3 8 4 2 3 10 3-3 4-14 3-1 4 5 3 15 4 3 3 8 4-1 3-31 3-1 4 13 3 13 4-11 3-4 4 14 3-5 4 6 3 1 3 8 4-13 3 6 4 4 3 4 4-17 3-10 4 2 3 8 4-4 3 1 3 10 4 6 3-3 4-1 3-10 4-1 3 10 4 4 3 4 3-3 4-7 3-7 4-7 3 18 4 6 3 16 4-20 3-7 4 17 3-7 3-18 4 1 3 1 4-2 3 17 4-8 3-7 4 3 3 9 3-20 4 9 3-6 4-4 3 21 4-7 3-2 4 17 3 0 3-12 4 14 3-18 4 5 3 3 4 17 3-5 4 4 3-16 4 3 3-7 3-5 4 0 3-2 4-1 3 4 4-6 3 9 4 5 3-8 3 16 4 15 3-11 4 3 3-5 4-1 3 5 4-4 3 7 4-6 3-14 3 15 4 18 3-19 4-8 3 11 4-1 3-4 4-5 3 4" fill="none" stroke="#1c1c8c" stroke-width="16" stroke-linejoin="round"/>
<path transform="scale(0.1)" d="M4924,4725l3 9 4-30 3 10 4 16 3 2 4 2 3-8 4 10 3 11 3-10 4-2 3-20 4-13 3 14 4 7 3 7 4-13 3 0 4 1 3 12 3-11 4-5 3 7 4 8 3 8 4-6 3 20 4 0 3-3 3 0 4-10 3-11 4 5 3 3 4 12 3-12 4 7 3 0 4-17 3 8 3 9 4 8 3-15 4 7 3-4 4-10 3 13 4-2 3-11 3 6 4-2 3-12 4-7 3 13 4 4 3 2 4 3 3 2 3-9 4-10 3-3 4 12 3-19 4-2 3 5 4-7 3 28 4-14 3-20 3-11 4-1 3 2 4-9 3 14 4 1 3-24 4 5 3 6 3-17 4 14 3-11 4-22 3 18 4 0 3 18 4-4 3-8 4 12 3 17 3-13 4 5 3 18 4-2 3-8 4-1 3-3 4 0 3 23 3-4 4-19 3 1 4-7 3 9 4 30 3-5 4-1 3-21 3 4 4-16 3 13 4 10 3-11 4 14 3-8 4-2 3 16 4-4 3 4 3-14 4-7 3 0 4 9 3 14 4-2 3 1 4-15 3 18 3 7 4-9 3-3 4-10 3-4 4 5 3-14 4 22 3 6 4-1 3 0 3-13 4-6 3 0 4 23 3-3 4-9 3-1 4-2 3 7 3-11 4-12 3-3 4-4 3 16 4-4 3-14 4 0 3 11 3 9 4-16 3 7 4-5 3 6 4 8 3-18 4 3 3 13 4 8 3-13 3 12 4-5 3-2 4-9 3 13 4-2 3 1 4-5 3-15 3 5 4 2 3 10 4 12 3-8 4-6 3 7 4 3 3-26 4 4 3 8 3 7 4-13 3-8 4 3 3 4 4 4 3 2 4-1 3-17 3-3 4-17 3-24 4-26 3-5 4 3 3-7 4-8 3 31 3-12 4 13 3 32 4 9 3 16 4 7 3-14 4 16 3 6 4-3 3 2 3 13 4 0 3-5 4 1 3-5 4 4 3-2 4 4 3 8 3 5 4-27 3 20 4-3 3 3 4 2 3-12 4 4 3-4 4 0 3 3 3-13 4-1 3 6 4-13 3 6 4 20 3-13 4-3 3 27 3-5 4-17 3-1 4-2 3-3 4-12 3-14 4 15 3 9 3 2 4-2 3-8 4-8 3 1 4 8 3-1 4-9 3 7 4 4 3-5 3 6 4 19 3 3 4 0 3-14 4 5 3 26 4-26 3 6 3-5 4 8 3-2 4 1 3 8 4-7 3 5 4 16 3-1 3-5 4-20 3 22 4 7 3-10 4-21 3-21 4 11 3 22 4 10 3-7 3 5 4-6 3-5 4 18 3 0 4 13 3-6 4-17 3 6 3-10 4-2 3 16 4-18 3 11 4 1 3-11 4 11 3-18 4 1 3 8 3-17 4-3 3 13 4-31 3-32 4-49 3-37 4-51 3-32 3-26 4 15 3 28 4 44 3 74 4 11 3 17 4 23 3 15 3 30 4 23 3-27 4-10 3 14 4-12 3 17 4-12 3-2 4 2 3 20 3 11 4-17 3-8 4 17 3-14 4-8 3 9 4-9 3 1 3 11 4-9 3 2 4 12 3-6 4-9 3-5 4 3 3 13 4 9 3-1 3-14 4 9 3-1 4-3 3-20 4 11 3 4 4-3 3 3 3 22 4-9 3-16 4-4 3 16 4-20 3-2 4 13 3 13 3-6 4 17 3-10 4-12 3-3 4-4 3 16 4-7 3 16 4 2 3-13 3-20 4 21 3-2 4 12 3-8 4 4 3-7 4 1 3-5 3 3 4 10 3-14 4-1 3 21 4-7 3-9 4 1 3 5 4-5 3 13 3 6 4-27 3 2 4-2 3 28 4-13 3-30 4 10 3 5 3-3 4-3 3-4 4 12 3 11 4-21 3 35 4-11 3 7 3-7 4-13 3-4 4 6 3-3 4 15 3 8 4-12 3-15 4 20 3-2 3-16 4 8 3 9 4 10 3-11 4 15 3-18 4 19 3-12 3-2 4 6 3-12 4 7 3-4 4 4 3-12 4 7 3 12 4-23 3 16 3-3 4 20 3-13 4 5 3-5 4 0 3-4 4-15 3 10 3 5 4 7 3 3 4-3 3-19 4-2 3 6 4 1 3 5 3 2 4-6 3-1 4 6 3 10 4-5 3 11 4 4 3-12 4-5 3-14 3 3 4 5 3 13 4-2 3-2 4-2 3 0 4-1 3 10 3-15 4 7 3-6 4-2 3 1 4 2 3 13 4-12 3 8 4-3 3-1 3 5 4-8 3 1 4-5 3-12 4-3 3 8 4 15 3 10" fill="none" stroke="#1c1c8c" stroke-width="16" stroke-linejoin="round"/>
<path transform="scale(0.1)" d="M4924,4929l3-1 4-8 3 18 4 10 3-5 4-21 3 2 4-3 3-4 3-2 4-19 3-16 4-11 3-17 4-8 3-25 4-12 3-13 4-6 3 7 3 28 4 37 3 19 4 10 3 17 4 1 3 2 4 28 3-7 3-14 4-3 3 26 4 2 3 7 4 16 3 8 4-17 3 7 4-7 3-9 3 24 4-1 3-1 4 4 3 2 4 26 3 14 4-13 3-18 3-8 4 19 3-7 4 7 3 10 4-7 3 1 4-2 3 0 3 12 4-3 3 9 4-10 3 2 4-6 3-13 4 17 3-2 4 8 3-8 3-27 4-2 3-10 4-4 3-24 4-14 3-19 4-13 3-14 3-12 4-4 3-7 4 3 3 3 4 20 3 25 4 2 3 14 4 8 3 21 3 17 4 2 3 0 4 8 3-3 4 4 3-11 4 3 3 28 3-18 4-1 3-7 4-2 3-19 4 5 3 11 4 13 3-8 3-16 4 7 3 4 4-11 3 15 4 18 3-14 4-14 3-7 4 6 3 2 3 18 4-22 3-1 4-8 3-10 4 5 3 8 4 9 3 2 3-29 4 5 3 14 4-13 3-5 4 13 3-1 4-6 3-3 4 7 3-1 3 0 4 4 3-5 4 4 3 4 4 3 3 3 4-15 3-4 3-14 4 1 3-18 4 2 3-19 4-10 3-2 4 0 3-14 3 19 4 14 3 1 4 2 3 24 4-5 3 7 4-15 3 5 4 18 3 12 3 11 4 2 3 2 4 2 3-12 4-12 3 8 4-1 3-4 3 5 4 11 3-14 4 0 3-2 4 9 3-4 4-1 3 0 4 10 3-17 3-2 4-5 3 2 4-4 3 18 4-18 3 0 4-17 3-7 3-10 4-18 3-46 4-37 3 14 4-36 3-19 4-6 3 13 3 13 4 28 3 48 4 21 3 3 4 16 3 6 4 4 3 19 4-9 3 7 3-22 4-13 3-24 4-15 3-5 4-33 3 0 4 2 3-7 3 15 4 7 3 23 4 31 3 0 4 12 3 15 4 1 3 18 4 5 3 9 3-16 4 3 3 1 4 8 3-10 4-5 3 2 4-7 3 26 3-7 4-36 3 19 4 23 3 5 4-6 3-13 4-20 3-1 3 8 4 6 3-8 4-12 3-1 4 3 3-8 4 1 3 22 4 7 3-1 3 4 4 4 3 24 4-11 3 15 4 5 3-3 4 6 3-3 3-5 4 5 3 3 4 7 3-16 4 7 3-3 4 5 3-7 3-3 4-11 3 10 4 0 3 7 4-11 3-4 4 15 3 14 4-17 3-9 3 14 4-9 3-17 4 7 3 1 4-5 3 5 4 5 3 14 3-21 4-9 3 10 4-13 3 8 4 18 3 1 4-4 3-2 4-14 3 5 3-2 4-18 3-14 4 0 3-29 4-27 3-58 4-52 3-54 3-38 4-11 3 51 4 54 3 50 4 48 3 48 4 13 3 6 3 4 4 13 3 12 4 11 3-1 4-9 3-11 4 5 3 14 4-6 3 3 3-2 4 2 3-3 4 7 3-3 4-1 3-2 4 3 3 17 3-9 4-21 3 4 4 13 3-10 4 3 3 14 4-7 3-14 4 4 3 1 3 4 4-10 3 8 4-8 3 12 4 3 3-4 4 8 3 0 3-5 4 1 3-10 4 7 3 7 4-20 3 5 4 20 3-7 3-12 4 7 3 11 4-8 3 9 4-19 3-11 4 23 3-5 4 4 3-12 3 5 4 12 3-3 4 8 3-26 4 3 3 10 4-13 3 4 3 2 4-1 3 20 4 14 3-31 4 2 3-2 4-1 3-3 4 13 3 3 3-6 4-12 3-8 4 13 3 7 4-1 3 6 4-5 3-7 3 13 4 3 3-9 4-8 3-9 4 10 3 9 4-5 3 10 3 3 4-3 3-4 4 11 3-23 4 7 3-1 4 16 3 17 4-14 3-8 3-8 4-2 3 9 4 0 3 1 4-9 3 2 4 3 3-6 3 15 4-11 3 14 4-11 3 2 4 5 3 5 4-13 3-1 4 1 3 1 3 0 4 3 3-16 4 6 3 12 4 0 3 19 4-8 3-7 3-8 4 13 3-9 4-14 3 0 4 6 3 2 4 6 3 13 3 0 4-13 3 6 4 7 3-13 4-7 3 7 4-3 3-1 4 5 3-12 3 22 4-24 3-1 4-1 3 8 4 18 3-13 4 9 3 6 3-13 4 7 3-4 4 8 3 2 4 1 3-14 4-14 3 10 4-1 3 8 3 2 4-21 3 12 4 7 3 6 4-17 3 9 4-7 3-12" fill="none" stroke="#1c1c8c" stroke-width="16" stroke-linejoin="round"/>
<text x="610.50" y="411.10" font-size="9.5" text-anchor="start" font-weight="normal" fill="#2828a0">Fresh sample</text>
<text x="622.60" y="439.80" font-size="9.5" text-anchor="start" font-weight="normal" fill="#2828a0">1 week</text>
<text x="622.60" y="468.60" font-size="9.5" text-anchor="start" font-weight="normal" fill="#2828a0">2 weeks</text>
<text x="622.60" y="492.80" font-size="9.5" text-anchor="start" font-weight="normal" fill="#2828a0">4 weeks</text>
<rect x="36.6" y="367.4" width="180.0" height="146.0" fill="none" stroke="#8a8a8a" stroke-width="1"/>
<line x1="34.4" y1="377.50" x2="36.6" y2="377.50" stroke="#8a8a8a" stroke-width="1"/>
<line x1="35.4" y1="387.92" x2="36.6" y2="387.92" stroke="#8a8a8a" stroke-width="1"/>
<line x1="34.4" y1="398.34" x2="36.6" y2="398.34" stroke="#8a8a8a" stroke-width="1"/>
<line x1="35.4" y1="408.76" x2="36.6" y2="408.76" stroke="#8a8a8a" stroke-width="1"/>
<line x1="34.4" y1="419.18" x2="36.6" y2="419.18" stroke="#8a8a8a" stroke-width="1"/>
<line x1="35.4" y1="429.60" x2="36.6" y2="429.60" stroke="#8a8a8a" stroke-width="1"/>
<line x1="34.4" y1="440.02" x2="36.6" y2="440.02" stroke="#8a8a8a" stroke-width="1"/>
<line x1="35.4" y1="450.44" x2="36.6" y2="450.44" stroke="#8a8a8a" stroke-width="1"/>
<line x1="34.4" y1="460.86" x2="36.6" y2="460.86" stroke="#8a8a8a" stroke-width="1"/>
<line x1="35.4" y1="471.28" x2="36.6" y2="471.28" stroke="#8a8a8a" stroke-width="1"/>
<line x1="34.4" y1="481.70" x2="36.6" y2="481.70" stroke="#8a8a8a" stroke-width="1"/>
<line x1="35.4" y1="492.12" x2="36.6" y2="492.12" stroke="#8a8a8a" stroke-width="1"/>
<line x1="34.4" y1="502.54" x2="36.6" y2="502.54" stroke="#8a8a8a" stroke-width="1"/>
<text x="13.30" y="378.80" font-size="7.7" text-anchor="start" font-weight="normal" fill="#111">10<tspan dy="-3.6" font-size="5.8">-18</tspan></text>
<text x="13.30" y="399.64" font-size="7.7" text-anchor="start" font-weight="normal" fill="#111">10<tspan dy="-3.6" font-size="5.8">-16</tspan></text>
<text x="13.30" y="420.48" font-size="7.7" text-anchor="start" font-weight="normal" fill="#111">10<tspan dy="-3.6" font-size="5.8">-14</tspan></text>
<text x="13.30" y="441.32" font-size="7.7" text-anchor="start" font-weight="normal" fill="#111">10<tspan dy="-3.6" font-size="5.8">-12</tspan></text>
<text x="13.30" y="462.16" font-size="7.7" text-anchor="start" font-weight="normal" fill="#111">10<tspan dy="-3.6" font-size="5.8">-10</tspan></text>
<text x="13.30" y="483.00" font-size="7.7" text-anchor="start" font-weight="normal" fill="#111">10<tspan dy="-3.6" font-size="5.8">-8</tspan></text>
<text x="13.30" y="503.84" font-size="7.7" text-anchor="start" font-weight="normal" fill="#111">10<tspan dy="-3.6" font-size="5.8">-6</tspan></text>
<text x="6.60" y="435.00" font-size="8.2" text-anchor="middle" font-weight="normal" fill="#111" transform="rotate(-90 6.6 435)">Limit of concentrations (M)</text>
<rect x="49.1" y="481.7" width="9.4" height="31.70" fill="#800000"/>
<rect x="69.9" y="471.4" width="9.4" height="42.00" fill="#0000ff"/>
<rect x="90.7" y="471.4" width="9.4" height="42.00" fill="#ff00ff"/>
<rect x="111.5" y="450.9" width="9.4" height="62.50" fill="#008000"/>
<rect x="132.2" y="419.5" width="9.4" height="93.90" fill="#000080"/>
<rect x="153.1" y="419.5" width="9.4" height="93.90" fill="#ff8000"/>
<rect x="174.1" y="409.1" width="9.4" height="104.30" fill="#9900cc"/>
<rect x="195.1" y="377.6" width="9.4" height="135.80" fill="#ff0000"/>
<text x="53.80" y="478.50" font-size="6.5" text-anchor="middle" font-weight="normal" fill="#111">Ref.15</text>
<text x="74.60" y="468.20" font-size="6.5" text-anchor="middle" font-weight="normal" fill="#111">Ref.9</text>
<text x="95.40" y="468.20" font-size="6.5" text-anchor="middle" font-weight="normal" fill="#111">Ref.10</text>
<text x="116.20" y="447.70" font-size="6.5" text-anchor="middle" font-weight="normal" fill="#111">Ref.16</text>
<text x="136.90" y="417.40" font-size="6.5" text-anchor="middle" font-weight="normal" fill="#111">Ref.17</text>
<text x="157.80" y="417.40" font-size="6.5" text-anchor="middle" font-weight="normal" fill="#111">Ref.18</text>
<text x="178.80" y="408.00" font-size="6.5" text-anchor="middle" font-weight="normal" fill="#111">Ref.11</text>
<text x="200.00" y="376.10" font-size="7.0" text-anchor="middle" font-weight="normal" fill="#ff0000">This work</text>
<text x="58.30" y="517.30" font-size="7.8" text-anchor="end" fill="#111" transform="rotate(-45 58.30 517.30)">1T-MoSe<tspan font-size="5.5" dy="1.5">2</tspan></text>
<text x="81.65" y="520.50" font-size="7.8" text-anchor="end" fill="#111" transform="rotate(-45 81.65 520.50)">1T'-ReS<tspan font-size="5.5" dy="1.5">2</tspan></text>
<text x="101.70" y="520.50" font-size="7.8" text-anchor="end" fill="#111" transform="rotate(-45 101.70 520.50)">MoS<tspan font-size="5.5" dy="1.5">2</tspan></text>
<text x="121.75" y="520.50" font-size="7.8" text-anchor="end" fill="#111" transform="rotate(-45 121.75 520.50)">NG</text>
<text x="143.40" y="519.70" font-size="7.8" text-anchor="end" fill="#111" transform="rotate(-45 143.40 519.70)">1T'-WTe<tspan font-size="5.5" dy="1.5">2</tspan></text>
<text x="163.45" y="520.50" font-size="7.8" text-anchor="end" fill="#111" transform="rotate(-45 163.45 520.50)">NbS<tspan font-size="5.5" dy="1.5">2</tspan></text>
<text x="181.90" y="519.70" font-size="7.8" text-anchor="end" fill="#111" transform="rotate(-45 181.90 519.70)">Nano-CG</text>
<text x="206.75" y="517.30" font-size="7.8" text-anchor="end" fill="#111" transform="rotate(-45 206.75 517.30)">WO<tspan font-size="5.5" dy="1.5">3-x</tspan><tspan dy="-1.5">/WSe</tspan><tspan font-size="5.5" dy="1.5">2</tspan></text>
<g stroke="#606060" stroke-width="0.9" fill="none">
<path d="M480.5,148.3 L480.5,71.8 L525.5,3.799999999999997 L668.0,3.799999999999997 L668.0,80.30000000000001 L623.0,148.3 L480.5,148.3"/>
<line x1="525.5" y1="3.799999999999997" x2="525.5" y2="80.30000000000001"/>
</g>
<line x1="486.70" y1="148.3" x2="486.70" y2="149.60000000000002" stroke="#606060" stroke-width="0.8"/>
<line x1="500.88" y1="148.3" x2="500.88" y2="149.60000000000002" stroke="#606060" stroke-width="0.8"/>
<line x1="515.06" y1="148.3" x2="515.06" y2="149.60000000000002" stroke="#606060" stroke-width="0.8"/>
<line x1="529.24" y1="148.3" x2="529.24" y2="149.60000000000002" stroke="#606060" stroke-width="0.8"/>
<line x1="543.42" y1="148.3" x2="543.42" y2="149.60000000000002" stroke="#606060" stroke-width="0.8"/>
<line x1="557.60" y1="148.3" x2="557.60" y2="149.60000000000002" stroke="#606060" stroke-width="0.8"/>
<line x1="571.78" y1="148.3" x2="571.78" y2="149.60000000000002" stroke="#606060" stroke-width="0.8"/>
<line x1="585.96" y1="148.3" x2="585.96" y2="149.60000000000002" stroke="#606060" stroke-width="0.8"/>
<line x1="600.14" y1="148.3" x2="600.14" y2="149.60000000000002" stroke="#606060" stroke-width="0.8"/>
<line x1="614.32" y1="148.3" x2="614.32" y2="149.60000000000002" stroke="#606060" stroke-width="0.8"/>
<path transform="scale(0.1)" d="M5255,803l0-181 6 5 5-19 6-17 5 10 6 9 5-7 6 7 5 6 6-1 5-14 6 14 5-17 6 15 5 13 6-11 5 0 6-8 5 8 6 17 5-7 6-15 5-13 6 15 5 12 6-13 5-6 6 9 5 12 6-21 5-2 6 18 5-13 6 18 5-6 6-20 5-5 6-3 5-9 6 11 5-9 6 19 5 10 6 1 5-8 6-21 5-12 6 2 5 6 6-12 5-7 6-11 5-7 6-2 5-32 6-15 5-15 6-34 5-31 6-7 5-12 6-6 5-10 6 22 5 23 6 19 5-7 6 16 5 19 6 20 5 22 6 10 5-17 6 1 5 20 6-3 5-19 6 8 5 11 6-6 5-12 6-20 5-18 6 8 5 13 6-11 5 5 6 8 5-15 6 11 5 20 6 23 5 24 6-1 5-4 6 14 5 15 6-6 5 11 6 20 5-13 6-2 5-3 6 2 5-1 6 26 5 9 6-19 5 10 6 8 5-8 6 21 5-2 6-21 5-3 6 2 5 5 6-14 5-13 6-1 5 3 6 3 5 14 6-26 5-11 6 6 5 6 6-11 5 2 6-4 5 30 6 13 5-13 6-10 5 5 6 6 5-9 6 21 5 13 6-4 5 0 6-3 5 1 6 18 5 10 6 0 5-7 6 7 5 25 6-9 5-12 6 16 5-18 6-22 5 7 6 13 5 19 6 4 5-21 6 3 5 18 6 1 5 1 6-3 5 9 6 20 5-10 6 0 5 2 6-26 5 9 6-10 5 4 6 6 5 10 6-6 5-3 6 7 5-9 6 9 5 12 6-17 5 7 6-14 5-19 6 15 5 9 6-9 5 11 6 8 5 0 6 3 5 12 6-23 5-25 6 6 5 14 6-17 5-16 6-3 5-4 6-12 5-12 6-26 5-30 6-67 5-76 6-46 5-41 6-53 5-24 6 0 5 22 6 47 5 67 6 61 5 45 6 43 5 50 6 13 5 22 6 28 5 12 6 17 5 13 6-19 5 3 6 10 5 1 6-8 5 6 6 18 5 17 6-1 5 7 6 1 5-10 6-14 5 2 6-9 5 15 6 17 5 1 6 5 5-29 6-16 5 18 6 15 5-19 6-4 5-4 6 2 5 34 6 16 5-18 6 1 5 20 6-30 5-17 6 5 0 102Z" fill="#fff" stroke="none"/>
<path transform="scale(0.1)" d="M5255,803l0-181 6 5 5-19 6-17 5 10 6 9 5-7 6 7 5 6 6-1 5-14 6 14 5-17 6 15 5 13 6-11 5 0 6-8 5 8 6 17 5-7 6-15 5-13 6 15 5 12 6-13 5-6 6 9 5 12 6-21 5-2 6 18 5-13 6 18 5-6 6-20 5-5 6-3 5-9 6 11 5-9 6 19 5 10 6 1 5-8 6-21 5-12 6 2 5 6 6-12 5-7 6-11 5-7 6-2 5-32 6-15 5-15 6-34 5-31 6-7 5-12 6-6 5-10 6 22 5 23 6 19 5-7 6 16 5 19 6 20 5 22 6 10 5-17 6 1 5 20 6-3 5-19 6 8 5 11 6-6 5-12 6-20 5-18 6 8 5 13 6-11 5 5 6 8 5-15 6 11 5 20 6 23 5 24 6-1 5-4 6 14 5 15 6-6 5 11 6 20 5-13 6-2 5-3 6 2 5-1 6 26 5 9 6-19 5 10 6 8 5-8 6 21 5-2 6-21 5-3 6 2 5 5 6-14 5-13 6-1 5 3 6 3 5 14 6-26 5-11 6 6 5 6 6-11 5 2 6-4 5 30 6 13 5-13 6-10 5 5 6 6 5-9 6 21 5 13 6-4 5 0 6-3 5 1 6 18 5 10 6 0 5-7 6 7 5 25 6-9 5-12 6 16 5-18 6-22 5 7 6 13 5 19 6 4 5-21 6 3 5 18 6 1 5 1 6-3 5 9 6 20 5-10 6 0 5 2 6-26 5 9 6-10 5 4 6 6 5 10 6-6 5-3 6 7 5-9 6 9 5 12 6-17 5 7 6-14 5-19 6 15 5 9 6-9 5 11 6 8 5 0 6 3 5 12 6-23 5-25 6 6 5 14 6-17 5-16 6-3 5-4 6-12 5-12 6-26 5-30 6-67 5-76 6-46 5-41 6-53 5-24 6 0 5 22 6 47 5 67 6 61 5 45 6 43 5 50 6 13 5 22 6 28 5 12 6 17 5 13 6-19 5 3 6 10 5 1 6-8 5 6 6 18 5 17 6-1 5 7 6 1 5-10 6-14 5 2 6-9 5 15 6 17 5 1 6 5 5-29 6-16 5 18 6 15 5-19 6-4 5-4 6 2 5 34 6 16 5-18 6 1 5 20 6-30 5-17 6 5 0 102" fill="none" stroke="#000099" stroke-width="10.5" stroke-linejoin="round"/>
<path transform="scale(0.1)" d="M5229,843l0-221 5 2 6 8 5 13 6 18 5-19 6-13 5 13 6-9 5-14 6 13 5 27 6 21 5-14 6-15 5-1 6-2 5-5 6-17 5 14 6 6 5 11 6 3 5-13 6 7 5 12 6-6 5 1 6-11 5-13 6-4 5 6 6 20 5-10 6-15 5 20 6-14 5-2 6 15 5-3 6-14 5 0 6 11 5-5 6-29 5-9 6 3 5 6 6 7 5-12 6-35 5-8 6-14 5-6 6-26 5-17 6 1 5 1 6-20 5-29 6-20 5-2 6 6 5-3 6 20 5 16 6 22 5 23 6 4 5 18 6 20 5-3 6 5 5 2 6-4 5 11 6 18 5-5 6-34 5-23 6 8 5-6 6-12 5 3 6 4 5 8 6 9 5-7 6 11 5 15 6 19 5-2 6-11 5 29 6 44 5-20 6-6 5 13 6 8 5 2 6-2 5 16 6 5 5-16 6 8 5-13 6-7 5 2 6 12 5-1 6-3 5 2 6-3 5-3 6-8 5 12 6-1 5 7 6 2 5 8 6-6 5-12 6 3 5-14 6 1 5 6 6 7 5 1 6-12 5 1 6 11 5-1 6-13 5 9 6 12 5-11 6-3 5 10 6 6 5 23 6 4 5-7 6 0 5 1 6 21 5 4 6-8 5-3 6 0 5-1 6-4 5 9 6 9 5 6 6 14 5 0 6-2 5-1 6 6 5 11 6-34 5 2 6-3 5 23 6 19 5-5 6 7 5-16 6-18 5 12 6 16 5-24 6-17 5-3 6 10 5 10 6-12 5 5 6 24 5-12 6-2 5 6 6-10 5 16 6-6 5-15 6-6 5 6 6 13 5-17 6-6 5 11 6 3 5 7 6 6 5-2 6-1 5 9 6-2 5-31 6-20 5-40 6-15 5 3 6-36 5-59 6-59 5-64 6-44 5-34 6-44 5 11 6 50 5 44 6 39 5 51 6 63 5 74 6 30 5 14 6 16 5 10 6 19 5 13 6 2 5 8 6-16 5 15 6 11 5-5 6-5 5 28 6 13 5-28 6-8 5 2 6 4 5 2 6-11 5 2 6 3 5 21 6 2 5-11 6 1 6 17 5 4 6 4 5-14 6 18 5 12 6-13 5-19 6-8 5-2 6-2 5-5 6 13 5 13 6-11 0 90Z" fill="#fff" stroke="none"/>
<path transform="scale(0.1)" d="M5229,843l0-221 5 2 6 8 5 13 6 18 5-19 6-13 5 13 6-9 5-14 6 13 5 27 6 21 5-14 6-15 5-1 6-2 5-5 6-17 5 14 6 6 5 11 6 3 5-13 6 7 5 12 6-6 5 1 6-11 5-13 6-4 5 6 6 20 5-10 6-15 5 20 6-14 5-2 6 15 5-3 6-14 5 0 6 11 5-5 6-29 5-9 6 3 5 6 6 7 5-12 6-35 5-8 6-14 5-6 6-26 5-17 6 1 5 1 6-20 5-29 6-20 5-2 6 6 5-3 6 20 5 16 6 22 5 23 6 4 5 18 6 20 5-3 6 5 5 2 6-4 5 11 6 18 5-5 6-34 5-23 6 8 5-6 6-12 5 3 6 4 5 8 6 9 5-7 6 11 5 15 6 19 5-2 6-11 5 29 6 44 5-20 6-6 5 13 6 8 5 2 6-2 5 16 6 5 5-16 6 8 5-13 6-7 5 2 6 12 5-1 6-3 5 2 6-3 5-3 6-8 5 12 6-1 5 7 6 2 5 8 6-6 5-12 6 3 5-14 6 1 5 6 6 7 5 1 6-12 5 1 6 11 5-1 6-13 5 9 6 12 5-11 6-3 5 10 6 6 5 23 6 4 5-7 6 0 5 1 6 21 5 4 6-8 5-3 6 0 5-1 6-4 5 9 6 9 5 6 6 14 5 0 6-2 5-1 6 6 5 11 6-34 5 2 6-3 5 23 6 19 5-5 6 7 5-16 6-18 5 12 6 16 5-24 6-17 5-3 6 10 5 10 6-12 5 5 6 24 5-12 6-2 5 6 6-10 5 16 6-6 5-15 6-6 5 6 6 13 5-17 6-6 5 11 6 3 5 7 6 6 5-2 6-1 5 9 6-2 5-31 6-20 5-40 6-15 5 3 6-36 5-59 6-59 5-64 6-44 5-34 6-44 5 11 6 50 5 44 6 39 5 51 6 63 5 74 6 30 5 14 6 16 5 10 6 19 5 13 6 2 5 8 6-16 5 15 6 11 5-5 6-5 5 28 6 13 5-28 6-8 5 2 6 4 5 2 6-11 5 2 6 3 5 21 6 2 5-11 6 1 6 17 5 4 6 4 5-14 6 18 5 12 6-13 5-19 6-8 5-2 6-2 5-5 6 13 5 13 6-11 0 90" fill="none" stroke="#000099" stroke-width="10.5" stroke-linejoin="round"/>
<path transform="scale(0.1)" d="M5202,883l0-188 6-3 5-1 6 18 5 8 6-14 5 3 6-10 5-15 6 14 5-2 6-10 5-2 6 2 5-1 6-9 5 16 6 19 5-7 6 8 5-2 6-19 5 10 6 11 5-16 6 8 5-12 6-5 5 9 6 0 5-14 6-10 5-6 6 9 5 6 6 7 5 10 6-8 5 0 6 1 5-5 6-18 5 14 6 6 5-4 6 10 5-28 6 3 5 0 6-16 5 2 6-16 5-26 6-2 5-1 6-9 5-42 6-25 5-8 6-32 5-7 6 9 5 0 6-8 5 26 6 6 5 30 6 12 5-3 6-3 5 22 6 28 5 10 6 19 5 1 6-9 5-1 6-8 5-6 6-8 5 3 6-27 5-19 6 3 5 12 6-7 5 11 6 23 5-1 6 19 5 18 6 10 5-10 6 6 5 14 6 9 5-7 6 4 5 21 6 0 5-9 6 16 5-10 6-22 5 11 6 12 5 7 6 4 5 7 6-18 5-7 6 3 5 9 6 3 5 1 6-2 5-7 6 5 5 6 6-14 5 7 6 5 5-9 6 7 5-10 6-7 5-18 6 13 5 8 6 1 5 12 6 6 5-10 6 24 5-8 6-9 5-1 6 13 5-11 6-6 5 24 6-9 5-2 6 33 5 11 6-25 5 24 6-10 5-27 6 20 5 14 6-6 5-2 6 4 5 10 6-12 5-11 6 7 5 16 6 4 5 8 6-3 5-6 6-4 5 2 6-6 5-1 6-3 5 1 6-4 5 16 6 13 5 3 6-3 5 10 6 0 5-15 6-15 5 16 6-5 5-5 6-4 5 10 6 9 5 9 6-9 5-1 6 24 5-15 6-1 5 2 6-15 5 5 6 1 5-5 6-11 5-1 6-3 5-9 6-8 5-10 6-6 5-19 6-7 5-53 6-52 5-38 6-57 5-58 6-50 5-2 6 4 5 10 6 60 5 67 6 47 5 44 6 23 5 21 6 47 5 15 6 11 5 1 6 18 5 13 6 17 5 12 6 0 5-5 6-1 6 8 5-14 6 3 5-4 6 5 5 0 6 4 5 0 6 6 5-12 6-3 5 11 6 6 5-2 6 12 5-9 6 7 5 0 6-4 5-2 6-5 5 16 6-1 5-2 6-2 5-3 6 4 5-6 6 9 5 1 0 83Z" fill="#fff" stroke="none"/>
<path transform="scale(0.1)" d="M5202,883l0-188 6-3 5-1 6 18 5 8 6-14 5 3 6-10 5-15 6 14 5-2 6-10 5-2 6 2 5-1 6-9 5 16 6 19 5-7 6 8 5-2 6-19 5 10 6 11 5-16 6 8 5-12 6-5 5 9 6 0 5-14 6-10 5-6 6 9 5 6 6 7 5 10 6-8 5 0 6 1 5-5 6-18 5 14 6 6 5-4 6 10 5-28 6 3 5 0 6-16 5 2 6-16 5-26 6-2 5-1 6-9 5-42 6-25 5-8 6-32 5-7 6 9 5 0 6-8 5 26 6 6 5 30 6 12 5-3 6-3 5 22 6 28 5 10 6 19 5 1 6-9 5-1 6-8 5-6 6-8 5 3 6-27 5-19 6 3 5 12 6-7 5 11 6 23 5-1 6 19 5 18 6 10 5-10 6 6 5 14 6 9 5-7 6 4 5 21 6 0 5-9 6 16 5-10 6-22 5 11 6 12 5 7 6 4 5 7 6-18 5-7 6 3 5 9 6 3 5 1 6-2 5-7 6 5 5 6 6-14 5 7 6 5 5-9 6 7 5-10 6-7 5-18 6 13 5 8 6 1 5 12 6 6 5-10 6 24 5-8 6-9 5-1 6 13 5-11 6-6 5 24 6-9 5-2 6 33 5 11 6-25 5 24 6-10 5-27 6 20 5 14 6-6 5-2 6 4 5 10 6-12 5-11 6 7 5 16 6 4 5 8 6-3 5-6 6-4 5 2 6-6 5-1 6-3 5 1 6-4 5 16 6 13 5 3 6-3 5 10 6 0 5-15 6-15 5 16 6-5 5-5 6-4 5 10 6 9 5 9 6-9 5-1 6 24 5-15 6-1 5 2 6-15 5 5 6 1 5-5 6-11 5-1 6-3 5-9 6-8 5-10 6-6 5-19 6-7 5-53 6-52 5-38 6-57 5-58 6-50 5-2 6 4 5 10 6 60 5 67 6 47 5 44 6 23 5 21 6 47 5 15 6 11 5 1 6 18 5 13 6 17 5 12 6 0 5-5 6-1 6 8 5-14 6 3 5-4 6 5 5 0 6 4 5 0 6 6 5-12 6-3 5 11 6 6 5-2 6 12 5-9 6 7 5 0 6-4 5-2 6-5 5 16 6-1 5-2 6-2 5-3 6 4 5-6 6 9 5 1 0 83" fill="none" stroke="#000099" stroke-width="10.5" stroke-linejoin="round"/>
<path transform="scale(0.1)" d="M5176,923l0-200 5-5 6 14 5 4 6-12 5 0 6 4 5-7 6 0 5 5 6 12 5-11 6-2 5 5 6-21 5-13 6 17 5 14 6-2 5-15 6 22 5 16 6-14 5-5 6 4 5-5 6-10 5 6 6 22 5-9 6-11 5 3 6 1 5-21 6-25 5 30 6 33 5-20 6 0 5-4 6 8 5 6 6-20 5-9 6 0 5-12 6 8 5-3 6 3 5 6 6-23 5-12 6-22 5-8 6-8 5-7 6-25 5 8 6-1 5-23 6-29 5-10 6 17 5 13 6 10 5 2 6-7 5 15 6 20 5 13 6 10 5 13 6 8 5-9 6 15 5 15 6-10 5-13 6-22 5-16 6 3 5-2 6 0 5 19 6 9 5-23 6-7 5 4 6 25 5 8 6-4 5 15 6 4 5 23 6 14 5 4 6 7 5-13 6 6 5-2 6-7 5-7 6 20 5 7 6-4 5 8 6-15 5-3 6 37 5-13 6-22 5 21 6-1 5-1 6-17 5 20 6 5 5-14 6-18 5-8 6 6 5-4 6 14 5-1 6-4 5 10 6 22 5-3 6 3 5 0 6-15 5-17 6 6 5 4 6 13 5-3 6 8 5 14 6 0 5-5 6-2 5 3 6 11 5-2 6-6 5 3 6 9 5-4 6 1 5 14 6 15 5 6 6-3 5-14 6 2 5 5 6 19 5 1 6-33 5 0 6 6 5 11 6-13 5-6 6 0 5 7 6 8 5-4 6 7 5-9 6 24 5-1 6-20 5 2 6 22 5-4 6-7 5 2 6 2 5-4 6 10 5-15 6-16 5 26 6 32 5-4 6-22 5-13 6 14 5 2 6-12 5 0 6 2 5 3 6-16 5-14 6 19 5-4 6-1 5 0 6-2 5-15 6-24 5-32 6-10 5-33 6-58 5-33 6-42 5-26 6-11 5 3 6 16 5 23 6 34 6 61 5 37 6 18 5 27 6 10 5 19 6 16 5 18 6 2 5 1 6-13 5 8 6 13 5 8 6-1 5-12 6 10 5 6 6 22 5-12 6-11 5 6 6-7 5 19 6-20 5 18 6 21 5-3 6-22 5 9 6 5 5-9 6 7 5 1 6 21 5 8 6-16 5-3 6 12 5-3 6-7 5-5 6-13 5 3 6 17 0 78Z" fill="#fff" stroke="none"/>
<path transform="scale(0.1)" d="M5176,923l0-200 5-5 6 14 5 4 6-12 5 0 6 4 5-7 6 0 5 5 6 12 5-11 6-2 5 5 6-21 5-13 6 17 5 14 6-2 5-15 6 22 5 16 6-14 5-5 6 4 5-5 6-10 5 6 6 22 5-9 6-11 5 3 6 1 5-21 6-25 5 30 6 33 5-20 6 0 5-4 6 8 5 6 6-20 5-9 6 0 5-12 6 8 5-3 6 3 5 6 6-23 5-12 6-22 5-8 6-8 5-7 6-25 5 8 6-1 5-23 6-29 5-10 6 17 5 13 6 10 5 2 6-7 5 15 6 20 5 13 6 10 5 13 6 8 5-9 6 15 5 15 6-10 5-13 6-22 5-16 6 3 5-2 6 0 5 19 6 9 5-23 6-7 5 4 6 25 5 8 6-4 5 15 6 4 5 23 6 14 5 4 6 7 5-13 6 6 5-2 6-7 5-7 6 20 5 7 6-4 5 8 6-15 5-3 6 37 5-13 6-22 5 21 6-1 5-1 6-17 5 20 6 5 5-14 6-18 5-8 6 6 5-4 6 14 5-1 6-4 5 10 6 22 5-3 6 3 5 0 6-15 5-17 6 6 5 4 6 13 5-3 6 8 5 14 6 0 5-5 6-2 5 3 6 11 5-2 6-6 5 3 6 9 5-4 6 1 5 14 6 15 5 6 6-3 5-14 6 2 5 5 6 19 5 1 6-33 5 0 6 6 5 11 6-13 5-6 6 0 5 7 6 8 5-4 6 7 5-9 6 24 5-1 6-20 5 2 6 22 5-4 6-7 5 2 6 2 5-4 6 10 5-15 6-16 5 26 6 32 5-4 6-22 5-13 6 14 5 2 6-12 5 0 6 2 5 3 6-16 5-14 6 19 5-4 6-1 5 0 6-2 5-15 6-24 5-32 6-10 5-33 6-58 5-33 6-42 5-26 6-11 5 3 6 16 5 23 6 34 6 61 5 37 6 18 5 27 6 10 5 19 6 16 5 18 6 2 5 1 6-13 5 8 6 13 5 8 6-1 5-12 6 10 5 6 6 22 5-12 6-11 5 6 6-7 5 19 6-20 5 18 6 21 5-3 6-22 5 9 6 5 5-9 6 7 5 1 6 21 5 8 6-16 5-3 6 12 5-3 6-7 5-5 6-13 5 3 6 17 0 78" fill="none" stroke="#000099" stroke-width="10.5" stroke-linejoin="round"/>
<path transform="scale(0.1)" d="M5149,963l0-181 6-7 5-9 6 9 5 12 6-28 5-13 6 21 5 19 6 5 5-6 6-19 5 5 6 13 5 10 6-4 5-19 6 0 5 7 6-11 5-10 6-14 5 19 6 11 5-22 6 12 5 7 6-18 5 7 6-8 5 14 6 17 5-14 6-2 5 9 6-15 5 10 6 15 5-6 6-18 5-18 6-8 5 10 6-8 5 19 6 0 5-13 6-3 5 25 6-12 5-16 6-7 5-24 6-3 5-10 6-17 5-5 6-13 5-10 6-21 5-30 6 6 5 12 6-3 5-5 6 29 5-5 6 10 5 34 6-5 5 10 6 13 5 20 6 14 5-18 6 4 5-17 6-3 5 8 6-26 5 2 6 19 5-34 6-3 5-5 6 18 5-4 6 27 5 6 6-14 5 19 6 10 5-4 6 22 5 19 6-12 5 1 6-9 5-5 6 13 5 29 6-6 5-9 6-9 5 7 6 28 5 0 6-11 5 8 6-2 5-4 6 7 5 17 6-12 5-27 6-1 5 12 6 8 5 14 6-16 5-36 6 6 5 14 6 17 5 6 6-17 5 16 6 0 5-6 6-12 5-4 6 2 5 11 6 2 5 2 6 18 5 5 6-6 5-15 6 8 5 21 6 2 5 2 6 6 5-23 6-7 5 13 6-2 5 14 6 21 5-4 6-5 5-20 6-4 5-11 6-1 5 18 6-8 5 13 6 15 5-11 6-5 5 7 6 20 5-8 6 12 5 20 6-5 5-4 6-11 5 11 6-14 5-9 6 2 5 0 6-7 5 11 6 15 5-9 6-11 5 3 6 5 5-3 6-5 5 14 6 11 5-16 6-12 5 26 6-1 5-27 6 13 5 11 6-8 5-5 6 11 5-8 6-18 5 1 6 1 6-6 5-13 6-8 5-33 6-27 5-52 6-12 5-32 6-54 5-47 6-21 5 16 6 22 5 31 6 45 5 44 6 43 5 26 6 7 5 29 6 43 5 17 6 3 5 0 6 13 5 16 6-13 5-13 6 14 5-7 6-10 5 9 6-1 5 8 6 3 5-10 6 3 5-3 6 1 5 12 6-4 5-11 6 7 5 14 6 11 5-11 6 2 5-8 6-16 5 16 6 5 5-15 6-7 5 7 6 11 5-7 6-21 5 8 6 8 5 11 0 98Z" fill="#fff" stroke="none"/>
<path transform="scale(0.1)" d="M5149,963l0-181 6-7 5-9 6 9 5 12 6-28 5-13 6 21 5 19 6 5 5-6 6-19 5 5 6 13 5 10 6-4 5-19 6 0 5 7 6-11 5-10 6-14 5 19 6 11 5-22 6 12 5 7 6-18 5 7 6-8 5 14 6 17 5-14 6-2 5 9 6-15 5 10 6 15 5-6 6-18 5-18 6-8 5 10 6-8 5 19 6 0 5-13 6-3 5 25 6-12 5-16 6-7 5-24 6-3 5-10 6-17 5-5 6-13 5-10 6-21 5-30 6 6 5 12 6-3 5-5 6 29 5-5 6 10 5 34 6-5 5 10 6 13 5 20 6 14 5-18 6 4 5-17 6-3 5 8 6-26 5 2 6 19 5-34 6-3 5-5 6 18 5-4 6 27 5 6 6-14 5 19 6 10 5-4 6 22 5 19 6-12 5 1 6-9 5-5 6 13 5 29 6-6 5-9 6-9 5 7 6 28 5 0 6-11 5 8 6-2 5-4 6 7 5 17 6-12 5-27 6-1 5 12 6 8 5 14 6-16 5-36 6 6 5 14 6 17 5 6 6-17 5 16 6 0 5-6 6-12 5-4 6 2 5 11 6 2 5 2 6 18 5 5 6-6 5-15 6 8 5 21 6 2 5 2 6 6 5-23 6-7 5 13 6-2 5 14 6 21 5-4 6-5 5-20 6-4 5-11 6-1 5 18 6-8 5 13 6 15 5-11 6-5 5 7 6 20 5-8 6 12 5 20 6-5 5-4 6-11 5 11 6-14 5-9 6 2 5 0 6-7 5 11 6 15 5-9 6-11 5 3 6 5 5-3 6-5 5 14 6 11 5-16 6-12 5 26 6-1 5-27 6 13 5 11 6-8 5-5 6 11 5-8 6-18 5 1 6 1 6-6 5-13 6-8 5-33 6-27 5-52 6-12 5-32 6-54 5-47 6-21 5 16 6 22 5 31 6 45 5 44 6 43 5 26 6 7 5 29 6 43 5 17 6 3 5 0 6 13 5 16 6-13 5-13 6 14 5-7 6-10 5 9 6-1 5 8 6 3 5-10 6 3 5-3 6 1 5 12 6-4 5-11 6 7 5 14 6 11 5-11 6 2 5-8 6-16 5 16 6 5 5-15 6-7 5 7 6 11 5-7 6-21 5 8 6 8 5 11 0 98" fill="none" stroke="#000099" stroke-width="10.5" stroke-linejoin="round"/>
<path transform="scale(0.1)" d="M5123,1003l0-181 5-21 6-3 5 0 6 4 5-9 6 19 5 9 6-17 5 17 6-6 5-30 6 19 5 1 6 11 5-6 6-8 5-3 6-6 5 24 6-5 5 0 6-11 5 1 6 13 5 10 6-6 5 12 6-12 5-32 6 13 5 25 6 2 5 1 6-15 5-1 6-7 5-13 6 2 5 21 6-10 5-18 6 5 5 9 6 8 5 5 6-9 5-12 6-16 5 19 6-14 5-1 6-15 5-24 6-23 5 3 6-10 5-27 6-20 5-7 6 10 5 13 6 2 5 1 6 11 5-1 6-15 5 24 6 21 5 5 6 13 5-4 6 13 5-6 6 6 5-14 6-15 5 9 6 13 5-12 6 4 5-27 6-8 5 12 6 6 5-15 6 4 5 15 6 20 5-10 6 9 5 3 6 4 5 21 6 4 5 17 6 26 5-4 6-23 5-15 6 5 5 9 6-5 5 30 6 10 5-29 6-4 5 21 6 0 5 4 6 10 5-19 6-12 5 25 6 1 5 12 6 5 5-11 6-9 5-1 6 5 5 1 6 1 5 0 6-15 5 0 6 27 5-13 6-4 5-2 6-5 5 5 6 1 5-12 6 10 5 6 6-9 5 17 6 19 5-5 6-7 5-11 6 26 5 0 6-2 5-2 6 9 5 12 6 3 5-20 6 7 5 16 6-13 5-10 6-1 5 15 6 1 5-3 6-15 5 14 6 15 5 8 6-5 5-7 6 12 5-8 6 6 5 7 6-12 5-30 6 9 5 7 6 0 5-17 6 26 5 8 6-7 5 5 6-33 5-19 6 25 5 25 6-8 6-11 5 13 6-2 5-3 6 3 5 9 6 3 5-21 6 7 5-2 6 9 5-9 6 9 5-5 6 17 5-17 6 6 5-11 6-26 5-8 6-23 5-11 6-24 5-48 6-48 5-44 6-13 5 5 6 10 5-5 6 24 5 35 6 35 5 53 6 18 5 17 6 13 5 32 6 32 5 6 6-12 5 11 6-3 5-7 6-9 5 3 6 19 5-2 6 4 5 5 6 3 5 1 6-17 5 4 6 11 5-11 6-12 5 19 6 2 5-4 6-3 5 26 6-5 5-13 6 4 5 14 6 0 5 2 6 6 5-16 6-17 5-9 6 5 5 0 6-12 5 6 6 20 0 95Z" fill="#fff" stroke="none"/>
<path transform="scale(0.1)" d="M5123,1003l0-181 5-21 6-3 5 0 6 4 5-9 6 19 5 9 6-17 5 17 6-6 5-30 6 19 5 1 6 11 5-6 6-8 5-3 6-6 5 24 6-5 5 0 6-11 5 1 6 13 5 10 6-6 5 12 6-12 5-32 6 13 5 25 6 2 5 1 6-15 5-1 6-7 5-13 6 2 5 21 6-10 5-18 6 5 5 9 6 8 5 5 6-9 5-12 6-16 5 19 6-14 5-1 6-15 5-24 6-23 5 3 6-10 5-27 6-20 5-7 6 10 5 13 6 2 5 1 6 11 5-1 6-15 5 24 6 21 5 5 6 13 5-4 6 13 5-6 6 6 5-14 6-15 5 9 6 13 5-12 6 4 5-27 6-8 5 12 6 6 5-15 6 4 5 15 6 20 5-10 6 9 5 3 6 4 5 21 6 4 5 17 6 26 5-4 6-23 5-15 6 5 5 9 6-5 5 30 6 10 5-29 6-4 5 21 6 0 5 4 6 10 5-19 6-12 5 25 6 1 5 12 6 5 5-11 6-9 5-1 6 5 5 1 6 1 5 0 6-15 5 0 6 27 5-13 6-4 5-2 6-5 5 5 6 1 5-12 6 10 5 6 6-9 5 17 6 19 5-5 6-7 5-11 6 26 5 0 6-2 5-2 6 9 5 12 6 3 5-20 6 7 5 16 6-13 5-10 6-1 5 15 6 1 5-3 6-15 5 14 6 15 5 8 6-5 5-7 6 12 5-8 6 6 5 7 6-12 5-30 6 9 5 7 6 0 5-17 6 26 5 8 6-7 5 5 6-33 5-19 6 25 5 25 6-8 6-11 5 13 6-2 5-3 6 3 5 9 6 3 5-21 6 7 5-2 6 9 5-9 6 9 5-5 6 17 5-17 6 6 5-11 6-26 5-8 6-23 5-11 6-24 5-48 6-48 5-44 6-13 5 5 6 10 5-5 6 24 5 35 6 35 5 53 6 18 5 17 6 13 5 32 6 32 5 6 6-12 5 11 6-3 5-7 6-9 5 3 6 19 5-2 6 4 5 5 6 3 5 1 6-17 5 4 6 11 5-11 6-12 5 19 6 2 5-4 6-3 5 26 6-5 5-13 6 4 5 14 6 0 5 2 6 6 5-16 6-17 5-9 6 5 5 0 6-12 5 6 6 20 0 95" fill="none" stroke="#000099" stroke-width="10.5" stroke-linejoin="round"/>
<path transform="scale(0.1)" d="M5096,1043l0-189 6 7 5-13 6 1 5 16 6-22 5 1 6 30 5-14 6-13 5 1 6 8 5 6 6-4 5-4 6-6 5-13 6-10 5 7 6-3 5 2 6 15 5 4 6 3 5-11 6 2 5 3 6-10 5 2 6 8 5 5 6 3 5 8 6-5 5-2 6-13 5 3 6 11 5 4 6 7 5-24 6 1 5 0 6 7 5 13 6-35 5-16 6 12 5-3 6-11 5-5 6-12 5 15 6-23 5-32 6-9 5-18 6-13 5-14 6-19 5-6 6-2 5-10 6 6 5 31 6 13 5-1 6 13 5 35 6 6 5 13 6-9 5 0 6-8 5 4 6 10 5 11 6 4 5-8 6-13 5-13 6-20 5-1 6 6 5-19 6 18 5 31 6-12 5-2 6-5 5 0 6 44 5 2 6-11 5-7 6 26 5 14 6 16 5 7 6-22 5-1 6 14 5-6 6 8 5 11 6-16 5-15 6 8 5 5 6-10 5 7 6 27 5 23 6-8 5-23 6-7 5 6 6-1 5-3 6 8 5 15 6-9 5 2 6-11 5 8 6-14 5 5 6 2 5-11 6 1 5-7 6-6 5 21 6 15 5-9 6-2 5 11 6 17 5-1 6-4 5 9 6 3 5-13 6 6 5 17 6-9 5-8 6-3 5 20 6 12 5-16 6-7 5 10 6-3 5 16 6 6 5-11 6-1 5 20 6-8 5-8 6 0 5-5 6 17 5 1 6-1 5-15 6 13 6-6 5 12 6-3 5-9 6 16 5-5 6-15 5 7 6 19 5-11 6-6 5 8 6-1 5-17 6 8 5 18 6 7 5-13 6-20 5-2 6 4 5 10 6-9 5-10 6 19 5 12 6 1 5-1 6 18 5-19 6-22 5-9 6-5 5-17 6-17 5-28 6-37 5-23 6-36 5-62 6-61 5-13 6 4 5-12 6 18 5 41 6 29 5 56 6 51 5 47 6 32 5 22 6 4 5 1 6 13 5 15 6 24 5 7 6-19 5 5 6 10 5-8 6-22 5 21 6 8 5-9 6-7 5 0 6-11 5 3 6 16 5-3 6 6 5 7 6-11 5-9 6 27 5 0 6 11 5 7 6 0 5-7 6-33 5 5 6 5 5 9 6 18 5-20 6-25 5 8 6 7 5 5 0 100Z" fill="#fff" stroke="none"/>
<path transform="scale(0.1)" d="M5096,1043l0-189 6 7 5-13 6 1 5 16 6-22 5 1 6 30 5-14 6-13 5 1 6 8 5 6 6-4 5-4 6-6 5-13 6-10 5 7 6-3 5 2 6 15 5 4 6 3 5-11 6 2 5 3 6-10 5 2 6 8 5 5 6 3 5 8 6-5 5-2 6-13 5 3 6 11 5 4 6 7 5-24 6 1 5 0 6 7 5 13 6-35 5-16 6 12 5-3 6-11 5-5 6-12 5 15 6-23 5-32 6-9 5-18 6-13 5-14 6-19 5-6 6-2 5-10 6 6 5 31 6 13 5-1 6 13 5 35 6 6 5 13 6-9 5 0 6-8 5 4 6 10 5 11 6 4 5-8 6-13 5-13 6-20 5-1 6 6 5-19 6 18 5 31 6-12 5-2 6-5 5 0 6 44 5 2 6-11 5-7 6 26 5 14 6 16 5 7 6-22 5-1 6 14 5-6 6 8 5 11 6-16 5-15 6 8 5 5 6-10 5 7 6 27 5 23 6-8 5-23 6-7 5 6 6-1 5-3 6 8 5 15 6-9 5 2 6-11 5 8 6-14 5 5 6 2 5-11 6 1 5-7 6-6 5 21 6 15 5-9 6-2 5 11 6 17 5-1 6-4 5 9 6 3 5-13 6 6 5 17 6-9 5-8 6-3 5 20 6 12 5-16 6-7 5 10 6-3 5 16 6 6 5-11 6-1 5 20 6-8 5-8 6 0 5-5 6 17 5 1 6-1 5-15 6 13 6-6 5 12 6-3 5-9 6 16 5-5 6-15 5 7 6 19 5-11 6-6 5 8 6-1 5-17 6 8 5 18 6 7 5-13 6-20 5-2 6 4 5 10 6-9 5-10 6 19 5 12 6 1 5-1 6 18 5-19 6-22 5-9 6-5 5-17 6-17 5-28 6-37 5-23 6-36 5-62 6-61 5-13 6 4 5-12 6 18 5 41 6 29 5 56 6 51 5 47 6 32 5 22 6 4 5 1 6 13 5 15 6 24 5 7 6-19 5 5 6 10 5-8 6-22 5 21 6 8 5-9 6-7 5 0 6-11 5 3 6 16 5-3 6 6 5 7 6-11 5-9 6 27 5 0 6 11 5 7 6 0 5-7 6-33 5 5 6 5 5 9 6 18 5-20 6-25 5 8 6 7 5 5 0 100" fill="none" stroke="#ff0000" stroke-width="10.5" stroke-linejoin="round"/>
<path transform="scale(0.1)" d="M5070,1083l0-189 5-13 6-7 5 12 6-2 5-3 6-5 5 11 6 0 5 15 6-8 5 6 6-12 5 2 6 20 5-16 6-24 5 7 6 26 5 15 6-6 5 4 6 2 5-24 6-15 5 15 6 1 5 7 6-12 5-1 6-10 5-6 6-2 5 15 6-4 5 13 6-9 5-6 6 4 5-1 6 13 5-5 6-20 5-4 6 9 5-4 6-14 5-11 6-18 5 19 6 8 5-27 6-31 5-14 6-5 5-2 6-44 5-7 6 5 5-9 6-8 5-33 6 6 5 12 6 2 5 25 6 11 5-5 6 8 5 10 6 23 5 21 6 29 5 16 6-8 5-21 6 3 5 13 6-18 5-4 6-6 5-19 6-8 5-3 6 2 5-5 6 15 5-9 6 31 5 7 6 8 5 31 6-6 5-6 6 17 5 18 6-19 5 8 6 14 5 5 6-6 5 12 6 5 5-14 6-9 5-8 6 17 5 14 6 0 5 16 6 5 5-20 6-19 5-6 6 18 5 22 6 1 5-27 6 9 5 7 6-21 5 11 6 6 5 8 6-10 5-11 6 3 5-9 6 0 5-6 6 2 5 21 6 4 5 8 6-9 5-5 6 17 5 7 6-11 5-5 6 34 5-7 6-5 5 3 6-15 5 1 6 12 5 15 6 23 5 0 6-12 5-23 6-13 6 18 5 19 6-1 5-6 6-14 5 13 6 7 5-11 6-1 5 7 6 12 5-1 6-4 5-6 6-4 5 4 6 28 5-3 6-14 5-6 6 8 5 2 6-3 5 12 6 0 5 0 6-15 5-8 6 12 5 14 6 4 5-14 6-1 5-3 6 10 5-10 6-12 5 30 6 10 5-22 6-31 5 1 6 0 5 11 6 9 5 21 6-14 5-17 6-24 5-25 6-12 5-44 6-49 5-53 6-46 5-65 6-40 5-16 6 23 5 47 6 62 5 24 6 56 5 46 6 34 5 30 6 6 5 21 6 28 5 9 6-13 5 6 6 9 5 13 6 6 5-5 6 6 5 6 6-10 5 4 6 21 5-22 6-12 5-2 6 24 5 16 6-4 5-20 6 4 5 12 6-6 5-3 6 21 5-2 6-26 5 0 6 16 5 3 6-8 5-20 6-8 5 23 6 13 5 17 6-17 5 10 6 5 0 74Z" fill="#fff" stroke="none"/>
<path transform="scale(0.1)" d="M5070,1083l0-189 5-13 6-7 5 12 6-2 5-3 6-5 5 11 6 0 5 15 6-8 5 6 6-12 5 2 6 20 5-16 6-24 5 7 6 26 5 15 6-6 5 4 6 2 5-24 6-15 5 15 6 1 5 7 6-12 5-1 6-10 5-6 6-2 5 15 6-4 5 13 6-9 5-6 6 4 5-1 6 13 5-5 6-20 5-4 6 9 5-4 6-14 5-11 6-18 5 19 6 8 5-27 6-31 5-14 6-5 5-2 6-44 5-7 6 5 5-9 6-8 5-33 6 6 5 12 6 2 5 25 6 11 5-5 6 8 5 10 6 23 5 21 6 29 5 16 6-8 5-21 6 3 5 13 6-18 5-4 6-6 5-19 6-8 5-3 6 2 5-5 6 15 5-9 6 31 5 7 6 8 5 31 6-6 5-6 6 17 5 18 6-19 5 8 6 14 5 5 6-6 5 12 6 5 5-14 6-9 5-8 6 17 5 14 6 0 5 16 6 5 5-20 6-19 5-6 6 18 5 22 6 1 5-27 6 9 5 7 6-21 5 11 6 6 5 8 6-10 5-11 6 3 5-9 6 0 5-6 6 2 5 21 6 4 5 8 6-9 5-5 6 17 5 7 6-11 5-5 6 34 5-7 6-5 5 3 6-15 5 1 6 12 5 15 6 23 5 0 6-12 5-23 6-13 6 18 5 19 6-1 5-6 6-14 5 13 6 7 5-11 6-1 5 7 6 12 5-1 6-4 5-6 6-4 5 4 6 28 5-3 6-14 5-6 6 8 5 2 6-3 5 12 6 0 5 0 6-15 5-8 6 12 5 14 6 4 5-14 6-1 5-3 6 10 5-10 6-12 5 30 6 10 5-22 6-31 5 1 6 0 5 11 6 9 5 21 6-14 5-17 6-24 5-25 6-12 5-44 6-49 5-53 6-46 5-65 6-40 5-16 6 23 5 47 6 62 5 24 6 56 5 46 6 34 5 30 6 6 5 21 6 28 5 9 6-13 5 6 6 9 5 13 6 6 5-5 6 6 5 6 6-10 5 4 6 21 5-22 6-12 5-2 6 24 5 16 6-4 5-20 6 4 5 12 6-6 5-3 6 21 5-2 6-26 5 0 6 16 5 3 6-8 5-20 6-8 5 23 6 13 5 17 6-17 5 10 6 5 0 74" fill="none" stroke="#ff0000" stroke-width="10.5" stroke-linejoin="round"/>
<path transform="scale(0.1)" d="M5043,1123l0-183 6 9 5-11 6 3 5 16 6-12 5-2 6-10 5 12 6 4 5-29 6-9 5 7 6 12 5 12 6-5 5 11 6-16 5-4 6 2 5 5 6 13 5-20 6 5 5 10 6-4 5 4 6 9 5-2 6-30 5-2 6 15 5-9 6-9 5-2 6 17 5-2 6-9 5 17 6 24 5-14 6-8 5-13 6 3 5 10 6-21 5-13 6-42 5 15 6 26 5-8 6-26 5-13 6 5 5-15 6-29 5-10 6 7 5-1 6-29 5-31 6-16 5-8 6 13 5 20 6 9 5-19 6 23 5 35 6 29 5 19 6 7 5-2 6 3 5-6 6-1 5-6 6 1 5 6 6-7 5-5 6-4 5-11 6 11 5-16 6-3 5 8 6 12 5 25 6-4 5 6 6 22 5 12 6-1 5-4 6-6 5 7 6 9 5 11 6 5 5-5 6-2 5-9 6-8 5 21 6 20 5 8 6-19 5-21 6 14 5 11 6-7 5 5 6 15 5-17 6-2 5-4 6-4 5-17 6-9 5 14 6-3 5-4 6-2 5 13 6-4 5-6 6 18 5-11 6 1 5 0 6 22 5 3 6-6 5-12 6-4 5 7 6 15 6 21 5 4 6-12 5-13 6 2 5 2 6 1 5 17 6 12 5 4 6-9 5-8 6-8 5 9 6 18 5 1 6 23 5 3 6-6 5-24 6 9 5 0 6-12 5 11 6 18 5-21 6-10 5 29 6 8 5-5 6-3 5-8 6-10 5 17 6 10 5 1 6-19 5 1 6 11 5 8 6 2 5-5 6-6 5 14 6 3 5-20 6-9 5-2 6 17 5-14 6-7 5 18 6 2 5-11 6-4 5 15 6 5 5 8 6-10 5-11 6-11 5-13 6-16 5-14 6 12 5-21 6-30 5-35 6-53 5-52 6-54 5-41 6-17 5 31 6 31 5 24 6 33 5 46 6 58 5 33 6 4 5 5 6 28 5 25 6 19 5 20 6-4 5 0 6-10 5 0 6 1 5 16 6 12 5-6 6-5 5 5 6 0 5-12 6-6 5 9 6 8 5 4 6-5 5-12 6 11 5 5 6-6 5 5 6-12 5 17 6 10 5 1 6-13 5 28 6 14 5-3 6-24 5-22 6 6 5 2 6 6 5-31 0 127Z" fill="#fff" stroke="none"/>
<path transform="scale(0.1)" d="M5043,1123l0-183 6 9 5-11 6 3 5 16 6-12 5-2 6-10 5 12 6 4 5-29 6-9 5 7 6 12 5 12 6-5 5 11 6-16 5-4 6 2 5 5 6 13 5-20 6 5 5 10 6-4 5 4 6 9 5-2 6-30 5-2 6 15 5-9 6-9 5-2 6 17 5-2 6-9 5 17 6 24 5-14 6-8 5-13 6 3 5 10 6-21 5-13 6-42 5 15 6 26 5-8 6-26 5-13 6 5 5-15 6-29 5-10 6 7 5-1 6-29 5-31 6-16 5-8 6 13 5 20 6 9 5-19 6 23 5 35 6 29 5 19 6 7 5-2 6 3 5-6 6-1 5-6 6 1 5 6 6-7 5-5 6-4 5-11 6 11 5-16 6-3 5 8 6 12 5 25 6-4 5 6 6 22 5 12 6-1 5-4 6-6 5 7 6 9 5 11 6 5 5-5 6-2 5-9 6-8 5 21 6 20 5 8 6-19 5-21 6 14 5 11 6-7 5 5 6 15 5-17 6-2 5-4 6-4 5-17 6-9 5 14 6-3 5-4 6-2 5 13 6-4 5-6 6 18 5-11 6 1 5 0 6 22 5 3 6-6 5-12 6-4 5 7 6 15 6 21 5 4 6-12 5-13 6 2 5 2 6 1 5 17 6 12 5 4 6-9 5-8 6-8 5 9 6 18 5 1 6 23 5 3 6-6 5-24 6 9 5 0 6-12 5 11 6 18 5-21 6-10 5 29 6 8 5-5 6-3 5-8 6-10 5 17 6 10 5 1 6-19 5 1 6 11 5 8 6 2 5-5 6-6 5 14 6 3 5-20 6-9 5-2 6 17 5-14 6-7 5 18 6 2 5-11 6-4 5 15 6 5 5 8 6-10 5-11 6-11 5-13 6-16 5-14 6 12 5-21 6-30 5-35 6-53 5-52 6-54 5-41 6-17 5 31 6 31 5 24 6 33 5 46 6 58 5 33 6 4 5 5 6 28 5 25 6 19 5 20 6-4 5 0 6-10 5 0 6 1 5 16 6 12 5-6 6-5 5 5 6 0 5-12 6-6 5 9 6 8 5 4 6-5 5-12 6 11 5 5 6-6 5 5 6-12 5 17 6 10 5 1 6-13 5 28 6 14 5-3 6-24 5-22 6 6 5 2 6 6 5-31 0 127" fill="none" stroke="#ff0000" stroke-width="10.5" stroke-linejoin="round"/>
<path transform="scale(0.1)" d="M5017,1163l0-171 5-3 6-20 5 8 6 0 5-6 6 15 5-9 6-7 5-19 6 12 5 6 6-28 5 1 6 13 5 26 6-2 5-27 6-1 5 14 6-9 5 2 6-11 5-2 6 38 5 11 6-14 5-12 6 1 5 3 6-6 5 12 6-6 5-15 6 8 5 10 6 6 5-26 6 3 5 23 6 1 5 7 6-9 5-24 6-7 5-9 6 5 5-1 6 3 5-10 6-18 5-5 6-19 5-12 6-9 5-21 6-24 5-42 6-2 5-7 6-14 5-3 6-4 5-10 6 9 5 14 6 22 5 44 6 26 5-16 6 8 5 34 6 8 5-17 6-2 5 13 6-2 5 1 6-8 5-31 6 9 5 16 6-7 5-25 6-9 5 9 6 10 5-8 6 2 5 30 6 9 5 8 6 24 5 0 6 5 5-2 6 3 5 14 6 14 5 3 6 2 5-3 6-8 5 7 6 1 5-11 6 11 5 7 6 16 5-1 6-29 5 3 6 16 5 0 6 12 5 1 6-17 5-1 6 14 5-13 6-2 5 8 6 2 6 0 5-13 6 2 5-7 6-3 5 14 6 9 5-1 6-8 5-7 6-15 5 17 6 29 5-18 6 1 5 9 6 21 5-7 6-11 5 7 6 19 5-5 6-17 5-8 6 12 5 17 6-8 5-6 6 16 5 3 6-9 5-5 6 33 5 14 6-10 5 3 6-23 5 5 6 28 5-12 6-8 5-7 6-8 5 14 6 10 5 21 6 10 5-14 6-7 5-17 6-9 5-2 6 6 5 13 6-10 5-7 6 27 5 3 6-1 5-13 6-1 5-2 6 4 5 5 6-4 5-3 6-3 5-4 6-5 5 0 6-7 5 1 6 4 5 12 6 17 5-4 6-22 5-24 6-19 5-35 6-32 5-29 6-48 5-26 6-31 5-68 6-50 5-12 6-7 5 16 6 50 5 43 6 74 5 48 6 47 5 42 6 23 5 14 6 19 5 12 6-2 5-6 6 3 5 16 6 18 5-12 6-17 5-1 6 20 5 9 6 1 5 3 6 11 5-7 6 2 5-7 6-7 5 17 6-5 5 13 6-19 5-4 6 10 5 5 6 16 5-7 6-25 5-19 6 2 5 16 6 12 5-2 6 6 5-10 6 0 5 0 6 2 0 99Z" fill="#fff" stroke="none"/>
<path transform="scale(0.1)" d="M5017,1163l0-171 5-3 6-20 5 8 6 0 5-6 6 15 5-9 6-7 5-19 6 12 5 6 6-28 5 1 6 13 5 26 6-2 5-27 6-1 5 14 6-9 5 2 6-11 5-2 6 38 5 11 6-14 5-12 6 1 5 3 6-6 5 12 6-6 5-15 6 8 5 10 6 6 5-26 6 3 5 23 6 1 5 7 6-9 5-24 6-7 5-9 6 5 5-1 6 3 5-10 6-18 5-5 6-19 5-12 6-9 5-21 6-24 5-42 6-2 5-7 6-14 5-3 6-4 5-10 6 9 5 14 6 22 5 44 6 26 5-16 6 8 5 34 6 8 5-17 6-2 5 13 6-2 5 1 6-8 5-31 6 9 5 16 6-7 5-25 6-9 5 9 6 10 5-8 6 2 5 30 6 9 5 8 6 24 5 0 6 5 5-2 6 3 5 14 6 14 5 3 6 2 5-3 6-8 5 7 6 1 5-11 6 11 5 7 6 16 5-1 6-29 5 3 6 16 5 0 6 12 5 1 6-17 5-1 6 14 5-13 6-2 5 8 6 2 6 0 5-13 6 2 5-7 6-3 5 14 6 9 5-1 6-8 5-7 6-15 5 17 6 29 5-18 6 1 5 9 6 21 5-7 6-11 5 7 6 19 5-5 6-17 5-8 6 12 5 17 6-8 5-6 6 16 5 3 6-9 5-5 6 33 5 14 6-10 5 3 6-23 5 5 6 28 5-12 6-8 5-7 6-8 5 14 6 10 5 21 6 10 5-14 6-7 5-17 6-9 5-2 6 6 5 13 6-10 5-7 6 27 5 3 6-1 5-13 6-1 5-2 6 4 5 5 6-4 5-3 6-3 5-4 6-5 5 0 6-7 5 1 6 4 5 12 6 17 5-4 6-22 5-24 6-19 5-35 6-32 5-29 6-48 5-26 6-31 5-68 6-50 5-12 6-7 5 16 6 50 5 43 6 74 5 48 6 47 5 42 6 23 5 14 6 19 5 12 6-2 5-6 6 3 5 16 6 18 5-12 6-17 5-1 6 20 5 9 6 1 5 3 6 11 5-7 6 2 5-7 6-7 5 17 6-5 5 13 6-19 5-4 6 10 5 5 6 16 5-7 6-25 5-19 6 2 5 16 6 12 5-2 6 6 5-10 6 0 5 0 6 2 0 99" fill="none" stroke="#ff0000" stroke-width="10.5" stroke-linejoin="round"/>
<path transform="scale(0.1)" d="M4990,1203l0-176 6-9 5 5 6-1 5-13 6 5 5-7 6-2 5-26 6 1 5 9 6 9 5 11 6 1 5 13 6 1 5 9 6-20 5 3 6 6 5-8 6-24 5-4 6 7 5-11 6 6 5 18 6-4 5-1 6 16 5-6 6-5 5 13 6-7 5-7 6-4 5-7 6-3 5-3 6 9 5 13 6 3 5-5 6-11 5 12 6-15 5-14 6-8 5-7 6 3 5 10 6-1 5-18 6-29 5-29 6-18 5-16 6-17 5 7 6 12 5-19 6-25 5 3 6 13 5 18 6 6 5 7 6 14 5 5 6 6 5 12 6 10 5 8 6-8 5 12 6 13 5-2 6-4 5-10 6-18 5-14 6 14 5-3 6-22 5 17 6 7 5-6 6 32 5-10 6-10 5 6 6 6 5 16 6 22 5 18 6-20 5 3 6 11 5 19 6 11 5-10 6 12 5 4 6 12 5 13 6-23 5-13 6 16 6-5 5-29 6 11 5 10 6-10 5-2 6 8 5-9 6-12 5 14 6 13 5-12 6-9 5 7 6 1 5 1 6 4 5 20 6 2 5 5 6-13 5 10 6-2 5 0 6-19 5 10 6 16 5 8 6 10 5-6 6-19 5-6 6 9 5 12 6 8 5 3 6-6 5 15 6 11 5-4 6-1 5-18 6 2 5 28 6 4 5-4 6 2 5 12 6-8 5-16 6 2 5 2 6 1 5 9 6-6 5-5 6-19 5 24 6 22 5-16 6 11 5-23 6 7 5 9 6-16 5-7 6 9 5 9 6 14 5-9 6-15 5-11 6 1 5 6 6-2 5 23 6 11 5-21 6-6 5 10 6-14 5-1 6 16 5-15 6-7 5 12 6 7 5 5 6-1 5-10 6 6 5 2 6-11 5-17 6-43 5-26 6-8 5-16 6-54 5-55 6-42 5-30 6-11 5 21 6 25 5 20 6 41 5 24 6 30 5 36 6 40 5 51 6 1 5-12 6 23 5 15 6-14 5-3 6 4 5 15 6 1 5 2 6 29 5-9 6-7 5 0 6 20 5-8 6-11 5-4 6 10 5-10 6-6 5 2 6 21 5 19 6-13 5-11 6-2 5-5 6-9 5 1 6 0 5 15 6 11 5-1 6-6 5 3 6-14 5-3 6 14 5 2 0 90Z" fill="#fff" stroke="none"/>
<path transform="scale(0.1)" d="M4990,1203l0-176 6-9 5 5 6-1 5-13 6 5 5-7 6-2 5-26 6 1 5 9 6 9 5 11 6 1 5 13 6 1 5 9 6-20 5 3 6 6 5-8 6-24 5-4 6 7 5-11 6 6 5 18 6-4 5-1 6 16 5-6 6-5 5 13 6-7 5-7 6-4 5-7 6-3 5-3 6 9 5 13 6 3 5-5 6-11 5 12 6-15 5-14 6-8 5-7 6 3 5 10 6-1 5-18 6-29 5-29 6-18 5-16 6-17 5 7 6 12 5-19 6-25 5 3 6 13 5 18 6 6 5 7 6 14 5 5 6 6 5 12 6 10 5 8 6-8 5 12 6 13 5-2 6-4 5-10 6-18 5-14 6 14 5-3 6-22 5 17 6 7 5-6 6 32 5-10 6-10 5 6 6 6 5 16 6 22 5 18 6-20 5 3 6 11 5 19 6 11 5-10 6 12 5 4 6 12 5 13 6-23 5-13 6 16 6-5 5-29 6 11 5 10 6-10 5-2 6 8 5-9 6-12 5 14 6 13 5-12 6-9 5 7 6 1 5 1 6 4 5 20 6 2 5 5 6-13 5 10 6-2 5 0 6-19 5 10 6 16 5 8 6 10 5-6 6-19 5-6 6 9 5 12 6 8 5 3 6-6 5 15 6 11 5-4 6-1 5-18 6 2 5 28 6 4 5-4 6 2 5 12 6-8 5-16 6 2 5 2 6 1 5 9 6-6 5-5 6-19 5 24 6 22 5-16 6 11 5-23 6 7 5 9 6-16 5-7 6 9 5 9 6 14 5-9 6-15 5-11 6 1 5 6 6-2 5 23 6 11 5-21 6-6 5 10 6-14 5-1 6 16 5-15 6-7 5 12 6 7 5 5 6-1 5-10 6 6 5 2 6-11 5-17 6-43 5-26 6-8 5-16 6-54 5-55 6-42 5-30 6-11 5 21 6 25 5 20 6 41 5 24 6 30 5 36 6 40 5 51 6 1 5-12 6 23 5 15 6-14 5-3 6 4 5 15 6 1 5 2 6 29 5-9 6-7 5 0 6 20 5-8 6-11 5-4 6 10 5-10 6-6 5 2 6 21 5 19 6-13 5-11 6-2 5-5 6-9 5 1 6 0 5 15 6 11 5-1 6-6 5 3 6-14 5-3 6 14 5 2 0 90" fill="none" stroke="#ff0000" stroke-width="10.5" stroke-linejoin="round"/>
<path transform="scale(0.1)" d="M4964,1243l0-197 5-13 6 7 5 12 6 9 5 12 6 3 5-22 6-15 5 17 6 9 5-8 6-14 5-12 6-8 5 22 6-4 5 5 6 6 5-13 6 9 5 4 6-5 5 7 6-10 5-5 6 8 5 15 6-8 5-21 6 18 5 6 6-19 5-1 6 15 5 12 6 10 5 13 6-17 5-24 6 0 5 0 6-6 5-9 6-9 5 4 6-8 5-5 6 10 5-10 6-11 5-13 6-26 5-3 6 0 5-11 6-22 5-40 6-23 5-23 6-24 5 7 6 17 5-5 6 16 5 29 6 12 5-6 6 19 5 26 6 6 5 7 6 21 5 14 6 16 5-10 6-6 5-14 6-8 5-12 6 9 5-3 6-16 5-16 6-4 5 12 6 13 5-9 6 1 5 29 6 25 5-19 6 7 6 15 5 23 6 6 5 1 6 14 5-6 6-7 5-9 6 8 5 11 6-3 5-6 6 18 5 28 6-12 5-9 6-7 5 3 6 2 5-10 6 5 5 9 6-2 5-1 6 14 5 0 6 7 5-1 6-11 5-20 6-12 5-3 6 7 5 16 6 6 5-20 6 10 5 6 6 11 5-7 6 33 5 7 6-22 5-18 6 11 5 6 6 3 5-19 6 1 5 12 6 16 5-5 6 5 5 4 6 15 5 16 6-5 5-8 6 5 5-5 6-6 5 11 6 4 5 0 6-16 5-12 6 24 5 23 6-11 5 2 6 6 5 2 6-9 5 20 6-2 5-22 6 0 5-1 6 11 5 10 6-9 5-6 6-1 5 0 6 7 5-2 6-12 5-14 6-1 5 31 6 3 5-11 6-11 5-14 6-2 5 17 6 9 5 5 6 0 5-17 6-6 5-4 6-16 5 12 6 24 5-13 6-14 5-12 6-22 5-10 6-11 5-35 6-43 5-51 6-38 5-60 6-70 5 5 6 20 5 7 6 36 5 52 6 70 5 46 6 15 5 57 6 55 5-5 6-15 5 9 6 31 5 11 6-6 5 15 6-3 5-12 6 4 5 11 6-9 5-2 6 18 5-3 6-11 5 22 6-5 5-15 6 4 5-2 6 7 5 2 6-22 5 1 6 18 5 24 6-10 5-28 6 6 5 10 6 0 5-8 6 0 5 1 6-12 5 4 6 8 5 31 6-8 0 81Z" fill="#fff" stroke="none"/>
<path transform="scale(0.1)" d="M4964,1243l0-197 5-13 6 7 5 12 6 9 5 12 6 3 5-22 6-15 5 17 6 9 5-8 6-14 5-12 6-8 5 22 6-4 5 5 6 6 5-13 6 9 5 4 6-5 5 7 6-10 5-5 6 8 5 15 6-8 5-21 6 18 5 6 6-19 5-1 6 15 5 12 6 10 5 13 6-17 5-24 6 0 5 0 6-6 5-9 6-9 5 4 6-8 5-5 6 10 5-10 6-11 5-13 6-26 5-3 6 0 5-11 6-22 5-40 6-23 5-23 6-24 5 7 6 17 5-5 6 16 5 29 6 12 5-6 6 19 5 26 6 6 5 7 6 21 5 14 6 16 5-10 6-6 5-14 6-8 5-12 6 9 5-3 6-16 5-16 6-4 5 12 6 13 5-9 6 1 5 29 6 25 5-19 6 7 6 15 5 23 6 6 5 1 6 14 5-6 6-7 5-9 6 8 5 11 6-3 5-6 6 18 5 28 6-12 5-9 6-7 5 3 6 2 5-10 6 5 5 9 6-2 5-1 6 14 5 0 6 7 5-1 6-11 5-20 6-12 5-3 6 7 5 16 6 6 5-20 6 10 5 6 6 11 5-7 6 33 5 7 6-22 5-18 6 11 5 6 6 3 5-19 6 1 5 12 6 16 5-5 6 5 5 4 6 15 5 16 6-5 5-8 6 5 5-5 6-6 5 11 6 4 5 0 6-16 5-12 6 24 5 23 6-11 5 2 6 6 5 2 6-9 5 20 6-2 5-22 6 0 5-1 6 11 5 10 6-9 5-6 6-1 5 0 6 7 5-2 6-12 5-14 6-1 5 31 6 3 5-11 6-11 5-14 6-2 5 17 6 9 5 5 6 0 5-17 6-6 5-4 6-16 5 12 6 24 5-13 6-14 5-12 6-22 5-10 6-11 5-35 6-43 5-51 6-38 5-60 6-70 5 5 6 20 5 7 6 36 5 52 6 70 5 46 6 15 5 57 6 55 5-5 6-15 5 9 6 31 5 11 6-6 5 15 6-3 5-12 6 4 5 11 6-9 5-2 6 18 5-3 6-11 5 22 6-5 5-15 6 4 5-2 6 7 5 2 6-22 5 1 6 18 5 24 6-10 5-28 6 6 5 10 6 0 5-8 6 0 5 1 6-12 5 4 6 8 5 31 6-8 0 81" fill="none" stroke="#ff0000" stroke-width="10.5" stroke-linejoin="round"/>
<path transform="scale(0.1)" d="M4937,1283l0-221 6-2 5 16 6 9 5 4 6-7 5-3 6 5 5-6 6 7 5 10 6 16 5-24 6 10 5 4 6 6 5-16 6 25 5 27 6-5 5-8 6 5 5-11 6 13 5 27 6-4 5-11 6-8 5 0 6 8 5 6 6-12 5-16 6 9 5 5 6-14 5-23 6 14 5 17 6-30 5-10 6 10 5 4 6-2 5 12 6-33 5-5 6-11 5-22 6-3 5 2 6-8 5-27 6-11 5-22 6-21 5-31 6-20 5-28 6 3 5-13 6-5 5-11 6 0 5 15 6 1 5 18 6 25 5 31 6 18 5 12 6 18 5 28 6 3 5-14 6 2 5-10 6-8 6-10 5 4 6-2 5-24 6-9 5 8 6-1 5-6 6 24 5 5 6 4 5 10 6 7 5 12 6 25 5 7 6-6 5 6 6 14 5 11 6-4 5-3 6-4 5 10 6-2 5-16 6-3 5 23 6 1 5-2 6 25 5-16 6-7 5 5 6 11 5-3 6 11 5 0 6-23 5-3 6 11 5 1 6 14 5-25 6-20 5 8 6 14 5 9 6 2 5 5 6-8 5-15 6 3 5 11 6-10 5-17 6 11 5 10 6 7 5 14 6 12 5 0 6-24 5 22 6 21 5-12 6-7 5 28 6 17 5-5 6-18 5-9 6-5 5 21 6 7 5-2 6-6 5-5 6 16 5 17 6-4 5 0 6-13 5-8 6 5 5-9 6 3 5 21 6-1 5-26 6 1 5-6 6 22 5 11 6-5 5 8 6 1 5-10 6-15 5 9 6-11 5 18 6 3 5-17 6-5 5 21 6 4 5-7 6-10 5 15 6-9 5-32 6 0 5 18 6 10 5 4 6 7 5 4 6-11 5-20 6-14 5-12 6 9 5-4 6-39 5-32 6-12 5-60 6-67 5-39 6-41 5-60 6-2 5-11 6 10 5 50 6 34 5 65 6 74 5 56 6 18 5 25 6 19 5 34 6-7 5 11 6 17 5-4 6 13 5 13 6-19 5-9 6 33 5-9 6-7 5 0 6-11 5 6 6-1 5 7 6-4 5 2 6 15 5 6 6-9 5-5 6 12 5 4 6-15 5 3 6 22 5-2 6-8 5 0 6 21 5 8 6-21 5 1 6 2 5-3 6-3 5 3 0 90Z" fill="#fff" stroke="none"/>
<path transform="scale(0.1)" d="M4937,1283l0-221 6-2 5 16 6 9 5 4 6-7 5-3 6 5 5-6 6 7 5 10 6 16 5-24 6 10 5 4 6 6 5-16 6 25 5 27 6-5 5-8 6 5 5-11 6 13 5 27 6-4 5-11 6-8 5 0 6 8 5 6 6-12 5-16 6 9 5 5 6-14 5-23 6 14 5 17 6-30 5-10 6 10 5 4 6-2 5 12 6-33 5-5 6-11 5-22 6-3 5 2 6-8 5-27 6-11 5-22 6-21 5-31 6-20 5-28 6 3 5-13 6-5 5-11 6 0 5 15 6 1 5 18 6 25 5 31 6 18 5 12 6 18 5 28 6 3 5-14 6 2 5-10 6-8 6-10 5 4 6-2 5-24 6-9 5 8 6-1 5-6 6 24 5 5 6 4 5 10 6 7 5 12 6 25 5 7 6-6 5 6 6 14 5 11 6-4 5-3 6-4 5 10 6-2 5-16 6-3 5 23 6 1 5-2 6 25 5-16 6-7 5 5 6 11 5-3 6 11 5 0 6-23 5-3 6 11 5 1 6 14 5-25 6-20 5 8 6 14 5 9 6 2 5 5 6-8 5-15 6 3 5 11 6-10 5-17 6 11 5 10 6 7 5 14 6 12 5 0 6-24 5 22 6 21 5-12 6-7 5 28 6 17 5-5 6-18 5-9 6-5 5 21 6 7 5-2 6-6 5-5 6 16 5 17 6-4 5 0 6-13 5-8 6 5 5-9 6 3 5 21 6-1 5-26 6 1 5-6 6 22 5 11 6-5 5 8 6 1 5-10 6-15 5 9 6-11 5 18 6 3 5-17 6-5 5 21 6 4 5-7 6-10 5 15 6-9 5-32 6 0 5 18 6 10 5 4 6 7 5 4 6-11 5-20 6-14 5-12 6 9 5-4 6-39 5-32 6-12 5-60 6-67 5-39 6-41 5-60 6-2 5-11 6 10 5 50 6 34 5 65 6 74 5 56 6 18 5 25 6 19 5 34 6-7 5 11 6 17 5-4 6 13 5 13 6-19 5-9 6 33 5-9 6-7 5 0 6-11 5 6 6-1 5 7 6-4 5 2 6 15 5 6 6-9 5-5 6 12 5 4 6-15 5 3 6 22 5-2 6-8 5 0 6 21 5 8 6-21 5 1 6 2 5-3 6-3 5 3 0 90" fill="none" stroke="#008000" stroke-width="10.5" stroke-linejoin="round"/>
<path transform="scale(0.1)" d="M4911,1323l0-203 5-19 6 9 5 20 6 15 5 0 6-4 5 15 6-8 5 8 6 0 5-11 6-15 5-1 6-7 5 14 6 21 5 1 6-1 5-16 6 23 5 4 6 10 5-11 6-12 5 3 6 1 5 5 6 21 5 8 6-5 5-5 6 9 5 6 6-19 5-5 6-13 5 7 6 2 5-27 6-13 5 9 6 9 5-4 6-24 5 8 6-22 5-21 6 18 5 10 6-34 5-26 6-15 5 5 6-19 5-5 6-39 5-42 6-16 5 1 6-6 6-11 5 2 6 3 5 12 6 26 5 9 6 11 5 26 6-3 5 9 6 26 5 6 6 14 5 15 6-25 5-4 6 14 5-6 6-12 5-20 6-2 5-12 6 6 5 15 6-15 5 5 6-4 5-3 6 24 5 24 6 11 5 9 6-7 5 13 6 45 5-3 6-12 5-10 6 5 5-8 6 6 5 26 6-1 5 0 6 13 5 4 6 0 5-12 6-1 5-14 6-5 5 4 6 3 5 2 6-18 5 4 6 16 5 10 6-3 5-5 6-16 5 13 6 18 5 1 6-1 5-16 6-15 5-1 6 5 5-6 6-10 5 10 6 21 5 22 6-6 5-13 6-8 5 24 6 8 5 18 6 6 5-15 6 12 5-1 6 15 5 15 6-18 5 14 6 16 5-42 6-18 5 28 6 7 5 3 6 5 5-6 6 15 5-14 6-30 5 4 6 8 5 0 6 10 5 10 6 4 5 15 6 6 5-18 6 1 5-13 6-9 5 8 6 7 5 12 6 2 5-3 6-3 5-5 6 3 5-12 6 7 5-4 6-4 5 6 6 0 5 6 6-17 5-7 6 8 5 7 6-7 5 17 6-6 5-11 6-5 5 15 6 0 5 0 6 7 5-17 6-39 5-23 6-23 5-43 6-38 5-35 6-51 5-59 6-31 5-37 6-10 5 9 6 44 5 74 6 51 5 35 6 64 5 62 6 26 5 9 6 24 5 10 6 0 5 2 6-10 5-4 6 18 5 7 6 9 5-3 6 10 5-16 6-10 5 13 6 7 5-5 6 5 5 11 6-16 5-25 6 5 5 14 6 9 5 1 6 5 5-27 6 2 5 19 6 4 5 15 6 7 5-11 6-14 5-1 6 8 5 4 6-21 5-14 6 25 0 100Z" fill="#fff" stroke="none"/>
<path transform="scale(0.1)" d="M4911,1323l0-203 5-19 6 9 5 20 6 15 5 0 6-4 5 15 6-8 5 8 6 0 5-11 6-15 5-1 6-7 5 14 6 21 5 1 6-1 5-16 6 23 5 4 6 10 5-11 6-12 5 3 6 1 5 5 6 21 5 8 6-5 5-5 6 9 5 6 6-19 5-5 6-13 5 7 6 2 5-27 6-13 5 9 6 9 5-4 6-24 5 8 6-22 5-21 6 18 5 10 6-34 5-26 6-15 5 5 6-19 5-5 6-39 5-42 6-16 5 1 6-6 6-11 5 2 6 3 5 12 6 26 5 9 6 11 5 26 6-3 5 9 6 26 5 6 6 14 5 15 6-25 5-4 6 14 5-6 6-12 5-20 6-2 5-12 6 6 5 15 6-15 5 5 6-4 5-3 6 24 5 24 6 11 5 9 6-7 5 13 6 45 5-3 6-12 5-10 6 5 5-8 6 6 5 26 6-1 5 0 6 13 5 4 6 0 5-12 6-1 5-14 6-5 5 4 6 3 5 2 6-18 5 4 6 16 5 10 6-3 5-5 6-16 5 13 6 18 5 1 6-1 5-16 6-15 5-1 6 5 5-6 6-10 5 10 6 21 5 22 6-6 5-13 6-8 5 24 6 8 5 18 6 6 5-15 6 12 5-1 6 15 5 15 6-18 5 14 6 16 5-42 6-18 5 28 6 7 5 3 6 5 5-6 6 15 5-14 6-30 5 4 6 8 5 0 6 10 5 10 6 4 5 15 6 6 5-18 6 1 5-13 6-9 5 8 6 7 5 12 6 2 5-3 6-3 5-5 6 3 5-12 6 7 5-4 6-4 5 6 6 0 5 6 6-17 5-7 6 8 5 7 6-7 5 17 6-6 5-11 6-5 5 15 6 0 5 0 6 7 5-17 6-39 5-23 6-23 5-43 6-38 5-35 6-51 5-59 6-31 5-37 6-10 5 9 6 44 5 74 6 51 5 35 6 64 5 62 6 26 5 9 6 24 5 10 6 0 5 2 6-10 5-4 6 18 5 7 6 9 5-3 6 10 5-16 6-10 5 13 6 7 5-5 6 5 5 11 6-16 5-25 6 5 5 14 6 9 5 1 6 5 5-27 6 2 5 19 6 4 5 15 6 7 5-11 6-14 5-1 6 8 5 4 6-21 5-14 6 25 0 100" fill="none" stroke="#008000" stroke-width="10.5" stroke-linejoin="round"/>
<path transform="scale(0.1)" d="M4884,1363l0-192 6-16 5-2 6 15 5-21 6 11 5 26 6 5 5-6 6 7 5 16 6 1 5-21 6 2 5-23 6-3 5 23 6-2 5 9 6-14 5 16 6 32 5-2 6-8 5-10 6-1 5 29 6-19 5-29 6 29 5 12 6-4 5 3 6-18 5-7 6-11 5-12 6-5 5 17 6 6 5 7 6-27 5-7 6-1 5 2 6-10 6-15 5 2 6-5 5-6 6-15 5-18 6-2 5-11 6-18 5-25 6-24 5-17 6-26 5-26 6-1 5-9 6-14 5 10 6 16 5 30 6 3 5-9 6 29 5 29 6 19 5 26 6 9 5-7 6 2 5 13 6-31 5 12 6 9 5 9 6-18 5-28 6-9 5 15 6 6 5-11 6-19 5 16 6 3 5 8 6 2 5 21 6 28 5 10 6-10 5 9 6 3 5-2 6 12 5 7 6 18 5 13 6 2 5-12 6-19 5 8 6 13 5 9 6-13 5-20 6 4 5 13 6 3 5-6 6 1 5-8 6-5 5 4 6 19 5 0 6-19 5 17 6 4 5-13 6-9 5-1 6-4 5 22 6 7 5-11 6-15 5 2 6 9 5-6 6 7 5 12 6 8 5-3 6 8 5 4 6 11 5 1 6-1 5 2 6-4 5 4 6 4 5 0 6 13 5-7 6 14 5-19 6-11 5 2 6 11 5 1 6 1 5 8 6 0 5-3 6 6 5 6 6-1 5-4 6-4 5 20 6 1 5-10 6 10 5 7 6-11 5-11 6 1 5 21 6 0 5-9 6-5 5-3 6 4 5 11 6 10 5-14 6-24 5-1 6 16 5 18 6-5 5-9 6 21 5-3 6-9 5 11 6-17 5-8 6-19 5 11 6-1 5-9 6-11 5 5 6-7 5-3 6-12 5-43 6-43 5-37 6-51 5-67 6-53 5-49 6-44 5 18 6 31 5 55 6 39 5 69 6 63 5 44 6 36 5 36 6 25 5 12 6 15 5 3 6 5 5 7 6-5 5 2 6 7 5 16 6 2 5-39 6 7 5 14 6-3 5 3 6 9 5 17 6-4 5-24 6-13 5 6 6 21 5-20 6-20 5 15 6 8 5 12 6 17 5-22 6-7 5 15 6 11 5-4 6-12 5-7 6 8 5 3 6 5 5 7 0 86Z" fill="#fff" stroke="none"/>
<path transform="scale(0.1)" d="M4884,1363l0-192 6-16 5-2 6 15 5-21 6 11 5 26 6 5 5-6 6 7 5 16 6 1 5-21 6 2 5-23 6-3 5 23 6-2 5 9 6-14 5 16 6 32 5-2 6-8 5-10 6-1 5 29 6-19 5-29 6 29 5 12 6-4 5 3 6-18 5-7 6-11 5-12 6-5 5 17 6 6 5 7 6-27 5-7 6-1 5 2 6-10 6-15 5 2 6-5 5-6 6-15 5-18 6-2 5-11 6-18 5-25 6-24 5-17 6-26 5-26 6-1 5-9 6-14 5 10 6 16 5 30 6 3 5-9 6 29 5 29 6 19 5 26 6 9 5-7 6 2 5 13 6-31 5 12 6 9 5 9 6-18 5-28 6-9 5 15 6 6 5-11 6-19 5 16 6 3 5 8 6 2 5 21 6 28 5 10 6-10 5 9 6 3 5-2 6 12 5 7 6 18 5 13 6 2 5-12 6-19 5 8 6 13 5 9 6-13 5-20 6 4 5 13 6 3 5-6 6 1 5-8 6-5 5 4 6 19 5 0 6-19 5 17 6 4 5-13 6-9 5-1 6-4 5 22 6 7 5-11 6-15 5 2 6 9 5-6 6 7 5 12 6 8 5-3 6 8 5 4 6 11 5 1 6-1 5 2 6-4 5 4 6 4 5 0 6 13 5-7 6 14 5-19 6-11 5 2 6 11 5 1 6 1 5 8 6 0 5-3 6 6 5 6 6-1 5-4 6-4 5 20 6 1 5-10 6 10 5 7 6-11 5-11 6 1 5 21 6 0 5-9 6-5 5-3 6 4 5 11 6 10 5-14 6-24 5-1 6 16 5 18 6-5 5-9 6 21 5-3 6-9 5 11 6-17 5-8 6-19 5 11 6-1 5-9 6-11 5 5 6-7 5-3 6-12 5-43 6-43 5-37 6-51 5-67 6-53 5-49 6-44 5 18 6 31 5 55 6 39 5 69 6 63 5 44 6 36 5 36 6 25 5 12 6 15 5 3 6 5 5 7 6-5 5 2 6 7 5 16 6 2 5-39 6 7 5 14 6-3 5 3 6 9 5 17 6-4 5-24 6-13 5 6 6 21 5-20 6-20 5 15 6 8 5 12 6 17 5-22 6-7 5 15 6 11 5-4 6-12 5-7 6 8 5 3 6 5 5 7 0 86" fill="none" stroke="#008000" stroke-width="10.5" stroke-linejoin="round"/>
<path transform="scale(0.1)" d="M4858,1403l0-180 5 5 6-3 5-4 6-24 5-2 6 3 5 1 6 24 5 11 6-15 5 1 6 10 5-13 6-6 5 19 6 1 5-2 6-1 5-3 6 3 5 4 6 23 5 2 6-9 5 12 6 5 5-6 6-3 5 4 6-13 6-2 5 33 6 4 5-29 6-6 5-28 6-17 5 26 6 9 5-9 6-8 5 2 6 1 5-7 6 8 5-23 6-17 5-15 6-2 5-4 6 0 5-23 6-28 5-19 6-14 5-32 6-14 5 11 6 7 5-26 6-26 5-5 6 11 5 9 6 8 5 32 6 32 5-3 6 1 5 24 6 1 5 6 6 10 5 6 6 9 5-13 6-19 5 11 6 1 5-22 6 4 5-24 6 1 5-1 6 5 5 5 6 1 5 21 6 20 5 10 6 21 5 4 6 14 5-9 6-8 5 7 6 23 5 28 6-19 5-19 6 13 5 0 6 3 5-6 6 29 5-3 6-11 5-8 6 3 5 10 6 11 5-32 6 7 5 8 6-11 5 15 6-10 5-14 6 1 5 7 6 8 5 5 6-7 5 4 6-21 5-4 6 17 5 16 6-21 5-2 6 19 5-1 6-8 5-2 6 16 5 11 6 4 5-3 6-25 5 7 6 41 5-8 6-25 5-4 6 0 5 11 6 15 5 3 6-6 5 16 6 23 5-4 6 7 5-19 6-2 5 7 6 6 5 17 6-5 5-5 6-6 5 0 6-3 5 5 6 18 5-4 6-19 5 12 6-4 5-9 6 0 5-12 6 25 5 14 6 5 5-23 6 0 5-6 6-10 5-14 6 18 5 19 6-1 5-4 6 21 5-2 6 4 5-11 6-19 5 14 6-3 5-8 6 15 5-6 6 2 5-11 6-6 5-15 6-2 5-16 6-22 5-12 6-35 5-34 6-36 5-34 6-55 5-53 6-47 5-27 6 3 5 34 6 55 5 50 6 46 5 61 6 38 5 26 6 20 5 23 6 28 5 6 6 25 5-6 6-14 5 8 6-9 5-14 6 25 5 18 6 14 5-23 6-16 5 11 6-4 5-21 6 22 5 12 6 5 5 7 6-17 5-11 6 2 5 10 6 18 5-9 6-22 5 35 6 12 5-8 6 11 5 4 6 1 5-6 6-15 5-12 6 2 5 0 6 10 0 90Z" fill="#fff" stroke="none"/>
<path transform="scale(0.1)" d="M4858,1403l0-180 5 5 6-3 5-4 6-24 5-2 6 3 5 1 6 24 5 11 6-15 5 1 6 10 5-13 6-6 5 19 6 1 5-2 6-1 5-3 6 3 5 4 6 23 5 2 6-9 5 12 6 5 5-6 6-3 5 4 6-13 6-2 5 33 6 4 5-29 6-6 5-28 6-17 5 26 6 9 5-9 6-8 5 2 6 1 5-7 6 8 5-23 6-17 5-15 6-2 5-4 6 0 5-23 6-28 5-19 6-14 5-32 6-14 5 11 6 7 5-26 6-26 5-5 6 11 5 9 6 8 5 32 6 32 5-3 6 1 5 24 6 1 5 6 6 10 5 6 6 9 5-13 6-19 5 11 6 1 5-22 6 4 5-24 6 1 5-1 6 5 5 5 6 1 5 21 6 20 5 10 6 21 5 4 6 14 5-9 6-8 5 7 6 23 5 28 6-19 5-19 6 13 5 0 6 3 5-6 6 29 5-3 6-11 5-8 6 3 5 10 6 11 5-32 6 7 5 8 6-11 5 15 6-10 5-14 6 1 5 7 6 8 5 5 6-7 5 4 6-21 5-4 6 17 5 16 6-21 5-2 6 19 5-1 6-8 5-2 6 16 5 11 6 4 5-3 6-25 5 7 6 41 5-8 6-25 5-4 6 0 5 11 6 15 5 3 6-6 5 16 6 23 5-4 6 7 5-19 6-2 5 7 6 6 5 17 6-5 5-5 6-6 5 0 6-3 5 5 6 18 5-4 6-19 5 12 6-4 5-9 6 0 5-12 6 25 5 14 6 5 5-23 6 0 5-6 6-10 5-14 6 18 5 19 6-1 5-4 6 21 5-2 6 4 5-11 6-19 5 14 6-3 5-8 6 15 5-6 6 2 5-11 6-6 5-15 6-2 5-16 6-22 5-12 6-35 5-34 6-36 5-34 6-55 5-53 6-47 5-27 6 3 5 34 6 55 5 50 6 46 5 61 6 38 5 26 6 20 5 23 6 28 5 6 6 25 5-6 6-14 5 8 6-9 5-14 6 25 5 18 6 14 5-23 6-16 5 11 6-4 5-21 6 22 5 12 6 5 5 7 6-17 5-11 6 2 5 10 6 18 5-9 6-22 5 35 6 12 5-8 6 11 5 4 6 1 5-6 6-15 5-12 6 2 5 0 6 10 0 90" fill="none" stroke="#008000" stroke-width="10.5" stroke-linejoin="round"/>
<path transform="scale(0.1)" d="M4831,1443l0-178 6 15 5-18 6-28 5 10 6 11 5-3 6-5 5-4 6 5 5-2 6 16 5 6 6 3 5-10 6-9 6 38 5 12 6-15 5-18 6 11 5 15 6 2 5 15 6 4 5-9 6-12 5 4 6-6 5-9 6 7 5-6 6 6 5-16 6 30 5 10 6-26 5-12 6-14 5 1 6 16 5-22 6-29 5 11 6-12 5 7 6 8 5 2 6-7 5-12 6-38 5-3 6-8 5-26 6-9 5-33 6-32 5-23 6-19 5-21 6-4 5-14 6-9 5 13 6 21 5 43 6-4 5 10 6 24 5 2 6 4 5 24 6 17 5 21 6 7 5-1 6 5 5-16 6-18 5 1 6-1 5-9 6-22 5 0 6 0 5-4 6 5 5 27 6 6 5-3 6 21 5-2 6-3 5 40 6 4 5-7 6 1 5 25 6 25 5 3 6-3 5 3 6-23 5 14 6-10 5 3 6 8 5 7 6 16 5-8 6-12 5 0 6-1 5-5 6-3 5 14 6-8 5-9 6 11 5 2 6-17 5-1 6 17 5 1 6-17 5-7 6 17 5 2 6-24 5-18 6 28 5 18 6 1 5-14 6 18 5 26 6 6 5-2 6-7 5-6 6 0 5 15 6 0 5 13 6-10 5 0 6 8 5 20 6-1 5-15 6-14 5 5 6 1 5 4 6-1 5 5 6-8 5 10 6 6 5-14 6 1 5 12 6-2 5 12 6-2 5 12 6-11 5 8 6-8 5-4 6 11 5 17 6-7 5-9 6-4 5 7 6-2 5-13 6 7 5 8 6 29 5-4 6-12 5 0 6-6 5-21 6-10 5 15 6 17 5 8 6-16 5-28 6 17 5 8 6-13 5-16 6 3 5-13 6 11 5 6 6-11 5-16 6-17 5-28 6-57 5-56 6-44 5-50 6-65 5-41 6-22 5-11 6 24 5 67 6 60 5 40 6 52 5 36 6 47 5 44 6 37 5 17 6-9 5 12 6 18 5 7 6 3 5 6 6-2 5-2 6-13 5 7 6 17 5-3 6-19 5-1 6 13 5 19 6-6 5-3 6-10 5-8 6-4 5 9 6 20 5-13 6 5 5-18 6 2 5 27 6-6 5-2 6 1 5-5 6 12 5 25 6-15 5-10 6-13 5-11 0 112Z" fill="#fff" stroke="none"/>
<path transform="scale(0.1)" d="M4831,1443l0-178 6 15 5-18 6-28 5 10 6 11 5-3 6-5 5-4 6 5 5-2 6 16 5 6 6 3 5-10 6-9 6 38 5 12 6-15 5-18 6 11 5 15 6 2 5 15 6 4 5-9 6-12 5 4 6-6 5-9 6 7 5-6 6 6 5-16 6 30 5 10 6-26 5-12 6-14 5 1 6 16 5-22 6-29 5 11 6-12 5 7 6 8 5 2 6-7 5-12 6-38 5-3 6-8 5-26 6-9 5-33 6-32 5-23 6-19 5-21 6-4 5-14 6-9 5 13 6 21 5 43 6-4 5 10 6 24 5 2 6 4 5 24 6 17 5 21 6 7 5-1 6 5 5-16 6-18 5 1 6-1 5-9 6-22 5 0 6 0 5-4 6 5 5 27 6 6 5-3 6 21 5-2 6-3 5 40 6 4 5-7 6 1 5 25 6 25 5 3 6-3 5 3 6-23 5 14 6-10 5 3 6 8 5 7 6 16 5-8 6-12 5 0 6-1 5-5 6-3 5 14 6-8 5-9 6 11 5 2 6-17 5-1 6 17 5 1 6-17 5-7 6 17 5 2 6-24 5-18 6 28 5 18 6 1 5-14 6 18 5 26 6 6 5-2 6-7 5-6 6 0 5 15 6 0 5 13 6-10 5 0 6 8 5 20 6-1 5-15 6-14 5 5 6 1 5 4 6-1 5 5 6-8 5 10 6 6 5-14 6 1 5 12 6-2 5 12 6-2 5 12 6-11 5 8 6-8 5-4 6 11 5 17 6-7 5-9 6-4 5 7 6-2 5-13 6 7 5 8 6 29 5-4 6-12 5 0 6-6 5-21 6-10 5 15 6 17 5 8 6-16 5-28 6 17 5 8 6-13 5-16 6 3 5-13 6 11 5 6 6-11 5-16 6-17 5-28 6-57 5-56 6-44 5-50 6-65 5-41 6-22 5-11 6 24 5 67 6 60 5 40 6 52 5 36 6 47 5 44 6 37 5 17 6-9 5 12 6 18 5 7 6 3 5 6 6-2 5-2 6-13 5 7 6 17 5-3 6-19 5-1 6 13 5 19 6-6 5-3 6-10 5-8 6-4 5 9 6 20 5-13 6 5 5-18 6 2 5 27 6-6 5-2 6 1 5-5 6 12 5 25 6-15 5-10 6-13 5-11 0 112" fill="none" stroke="#008000" stroke-width="10.5" stroke-linejoin="round"/>
<path transform="scale(0.1)" d="M4805,1483l0-186 6 0 5-11 6-8 5 8 6 15 5 14 6-3 5-10 6-7 5 22 6-12 5 0 6 4 5 19 6-11 5-10 6 2 5-3 6 6 5 12 6 18 5 0 6 0 5-15 6-25 5 24 6 2 5-3 6-2 5 11 6 23 5-9 6 9 5-8 6-29 5 4 6 14 5-4 6-13 5 1 6-33 5-10 6-6 5-8 6-4 5-3 6 10 5-4 6-10 5-32 6-4 5-6 6-4 5-18 6-19 5-14 6-24 5-37 6-10 5-16 6-5 5 6 6 1 5 0 6 23 5 33 6 19 5 16 6 11 5-6 6 11 5 4 6 27 5-1 6-19 5 26 6 3 5-9 6-17 5-20 6-18 5-4 6 11 5 4 6 10 5-3 6 13 5-5 6 29 5-5 6 11 5 13 6-12 5 16 6-5 5 21 6 19 5 25 6-8 5-9 6 10 5 7 6 3 5-7 6-9 5-23 6 25 5 3 6-6 5 3 6 3 5 16 6 4 5 4 6-3 5-24 6 9 5 24 6-25 5-22 6 7 5-3 6-4 5 6 6 12 5 0 6-10 5-12 6 15 5 14 6-17 5 6 6 7 5-2 6-9 5 14 6 6 5-6 6 15 5 26 6 13 5-29 6-9 5 37 6 12 5-12 6-15 5 6 6 18 5-11 6-12 5 12 6-6 5 15 6-1 5-12 6 11 5 15 6-24 5-8 6 2 5 17 6-14 5-3 6-7 5 29 6 8 5-4 6 2 5-17 6 7 5 25 6-13 5-17 6 4 5 12 6-7 5-1 6 4 5 0 6 3 5-11 6 3 5 0 6 28 5-13 6-14 5 1 6 5 5-11 6 4 5 0 6-14 5-3 6 8 5 5 6-6 5-14 6-1 5 1 6-20 5-10 6-39 5-43 6-46 5-44 6-57 5-67 6-20 5-26 6-8 5 38 6 39 5 40 6 60 5 64 6 49 5 23 6 7 5 45 6 16 5 0 6 27 5 7 6-2 5-1 6 1 5-18 6 10 5 6 6 1 5-5 6 31 5 10 6-12 5 1 6-6 5-1 6 4 5 9 6-5 5-4 6 11 5-7 6-15 5-14 6 10 5 18 6 4 5-9 6-7 5 3 6 22 5-16 6-1 5 12 6 11 5-5 6-8 0 89Z" fill="#fff" stroke="none"/>
<path transform="scale(0.1)" d="M4805,1483l0-186 6 0 5-11 6-8 5 8 6 15 5 14 6-3 5-10 6-7 5 22 6-12 5 0 6 4 5 19 6-11 5-10 6 2 5-3 6 6 5 12 6 18 5 0 6 0 5-15 6-25 5 24 6 2 5-3 6-2 5 11 6 23 5-9 6 9 5-8 6-29 5 4 6 14 5-4 6-13 5 1 6-33 5-10 6-6 5-8 6-4 5-3 6 10 5-4 6-10 5-32 6-4 5-6 6-4 5-18 6-19 5-14 6-24 5-37 6-10 5-16 6-5 5 6 6 1 5 0 6 23 5 33 6 19 5 16 6 11 5-6 6 11 5 4 6 27 5-1 6-19 5 26 6 3 5-9 6-17 5-20 6-18 5-4 6 11 5 4 6 10 5-3 6 13 5-5 6 29 5-5 6 11 5 13 6-12 5 16 6-5 5 21 6 19 5 25 6-8 5-9 6 10 5 7 6 3 5-7 6-9 5-23 6 25 5 3 6-6 5 3 6 3 5 16 6 4 5 4 6-3 5-24 6 9 5 24 6-25 5-22 6 7 5-3 6-4 5 6 6 12 5 0 6-10 5-12 6 15 5 14 6-17 5 6 6 7 5-2 6-9 5 14 6 6 5-6 6 15 5 26 6 13 5-29 6-9 5 37 6 12 5-12 6-15 5 6 6 18 5-11 6-12 5 12 6-6 5 15 6-1 5-12 6 11 5 15 6-24 5-8 6 2 5 17 6-14 5-3 6-7 5 29 6 8 5-4 6 2 5-17 6 7 5 25 6-13 5-17 6 4 5 12 6-7 5-1 6 4 5 0 6 3 5-11 6 3 5 0 6 28 5-13 6-14 5 1 6 5 5-11 6 4 5 0 6-14 5-3 6 8 5 5 6-6 5-14 6-1 5 1 6-20 5-10 6-39 5-43 6-46 5-44 6-57 5-67 6-20 5-26 6-8 5 38 6 39 5 40 6 60 5 64 6 49 5 23 6 7 5 45 6 16 5 0 6 27 5 7 6-2 5-1 6 1 5-18 6 10 5 6 6 1 5-5 6 31 5 10 6-12 5 1 6-6 5-1 6 4 5 9 6-5 5-4 6 11 5-7 6-15 5-14 6 10 5 18 6 4 5-9 6-7 5 3 6 22 5-16 6-1 5 12 6 11 5-5 6-8 0 89" fill="none" stroke="#008000" stroke-width="10.5" stroke-linejoin="round"/>
<line x1="480.5" y1="148.3" x2="623.0" y2="148.3" stroke="#606060" stroke-width="0.9"/>
<text x="515.90" y="160.10" font-size="10.1" text-anchor="middle" font-weight="normal" fill="#111">1400</text>
<text x="586.80" y="160.10" font-size="10.1" text-anchor="middle" font-weight="normal" fill="#111">1600</text>
<text x="551.50" y="172.00" font-size="10.8" text-anchor="middle" font-weight="normal" fill="#111">Raman shift (cm<tspan dy="-3.6" font-size="6.5">-1</tspan><tspan dy="3.6">)</tspan></text>
<text x="602.00" y="17.60" font-size="9.7" text-anchor="start" font-weight="bold" fill="#000">MB 5×10<tspan dy="-3.6" font-size="6.5">-5</tspan><tspan dy="3.6"> M</tspan></text>
<text x="683.00" y="47.50" font-size="10.8" text-anchor="middle" font-weight="normal" fill="#111" transform="rotate(-90 683 47.5)">Intensity (arb. units)</text>
<defs><radialGradient id="glow1" cx="0.5" cy="0.5" r="0.5"><stop offset="0" stop-color="#d0f6c8" stop-opacity="1"/><stop offset="0.5" stop-color="#e8fae4" stop-opacity="1"/><stop offset="1" stop-color="#ffffff" stop-opacity="0"/></radialGradient><radialGradient id="glow2" cx="0.5" cy="0.5" r="0.5"><stop offset="0" stop-color="#30ee30" stop-opacity="1"/><stop offset="0.3" stop-color="#70f070" stop-opacity="1"/><stop offset="0.6" stop-color="#a8f4a0" stop-opacity="0.8"/><stop offset="1" stop-color="#d0f6c8" stop-opacity="0"/></radialGradient><linearGradient id="obj" x1="0" x2="1" y1="0" y2="0"><stop offset="0" stop-color="#585d52"/><stop offset="0.35" stop-color="#7b7d6c"/><stop offset="0.68" stop-color="#c2c2a2"/><stop offset="0.85" stop-color="#8e8e78"/><stop offset="1" stop-color="#6a6a5a"/></linearGradient><linearGradient id="obj2" x1="0" x2="1" y1="0" y2="0"><stop offset="0" stop-color="#55584a"/><stop offset="0.5" stop-color="#6e7058"/><stop offset="0.75" stop-color="#8e8e72"/><stop offset="1" stop-color="#5e5e4c"/></linearGradient><radialGradient id="apexglow" cx="0.5" cy="0.35" r="0.5"><stop offset="0" stop-color="#88e040" stop-opacity="1"/><stop offset="1" stop-color="#88e040" stop-opacity="0"/></radialGradient><radialGradient id="ring" cx="0.4" cy="0.35" r="0.6"><stop offset="0" stop-color="#4f6f58"/><stop offset="1" stop-color="#1e3324"/></radialGradient><radialGradient id="hat" cx="0.35" cy="0.3" r="0.7"><stop offset="0" stop-color="#f4f4f4"/><stop offset="1" stop-color="#808080"/></radialGradient><radialGradient id="natom" cx="0.35" cy="0.3" r="0.7"><stop offset="0" stop-color="#5a6aff"/><stop offset="1" stop-color="#101a80"/></radialGradient><radialGradient id="satom" cx="0.4" cy="0.3" r="0.7"><stop offset="0" stop-color="#f4f060"/><stop offset="1" stop-color="#a0a010"/></radialGradient><clipPath id="tri"><polygon points="13.3,154.3 226,154.3 122.6,89.8"/></clipPath><pattern id="hA" width="1.4" height="1.4" patternUnits="userSpaceOnUse" patternTransform="rotate(40)"><rect width="0.5" height="1.4" fill="#a88c30"/></pattern><pattern id="hB" width="1.4" height="1.4" patternUnits="userSpaceOnUse" patternTransform="rotate(-40)"><rect width="0.5" height="1.4" fill="#a88c30"/></pattern><pattern id="tex" width="3" height="3" patternUnits="userSpaceOnUse" patternTransform="rotate(35)"><rect width="3" height="3" fill="#e8d460"/><rect width="1" height="3" fill="#cdb24a"/></pattern></defs>
<ellipse cx="121" cy="76" rx="57" ry="64" fill="url(#glow1)"/>
<ellipse cx="122.6" cy="82" rx="28" ry="70" fill="url(#glow2)"/>
<polygon points="13.3,154.3 226,154.3 122.6,89.8" fill="#e8d460"/>
<polygon points="13.3,154.3 226,154.3 122.6,89.8" fill="url(#tex)" opacity="0.18"/>
<g opacity="0.3" clip-path="url(#tri)"><polygon points="52,134 78,121 112,152 82,152" fill="url(#hA)"/><polygon points="150,123 178,128 205,152 168,152" fill="url(#hB)"/><polygon points="92,142 120,136 150,152 100,152" fill="url(#hB)"/><polygon points="170,118 190,125 215,148 195,146" fill="url(#hA)"/></g>
<polygon points="122.6,89.8 95,106.5 150,106.5" fill="url(#apexglow)" opacity="0.75"/>
<polygon points="122.6,89.8 80,115.6 165,115.6" fill="url(#apexglow)" opacity="0.35"/>
<rect x="13" y="153.6" width="213.5" height="1.6" fill="#f0e060"/>
<rect x="12.5" y="155.2" width="214.5" height="3.4" fill="#35ae9c"/>
<path d="M105,5.2 Q122.3,-1.8 139.6,5.2 L139.6,27.3 Q122.3,21 105,27.3 Z" fill="url(#obj)"/>
<path d="M105,27.3 Q122.3,21 139.6,27.3 L135.2,33.3 Q122.3,35 109.9,33.3 Z" fill="url(#obj2)"/>
<rect x="117.6" y="33" width="10" height="86" fill="#30f030" opacity="0.6"/>
<rect x="119.8" y="33" width="5.6" height="86" fill="#00f400"/>
<rect x="121.9" y="33" width="1.4" height="86" fill="#d8ffd8"/>
<g opacity="0.35"><circle cx="108" cy="130" r="2.6" fill="#fff"/><circle cx="112.5" cy="131.5" r="2.6" fill="#fff"/><circle cx="117" cy="130" r="3.4" fill="#b0a040"/><circle cx="122.7" cy="131" r="3" fill="#f0e040"/><circle cx="128.4" cy="130" r="3.4" fill="#b0a040"/><circle cx="133" cy="131.5" r="2.6" fill="#fff"/><circle cx="137.5" cy="130" r="2.6" fill="#fff"/></g>
<g><circle cx="108.2" cy="116.2" r="2.3" fill="url(#hat)"/><circle cx="137.2" cy="116.2" r="2.3" fill="url(#hat)"/><circle cx="112.6" cy="114.3" r="2.2" fill="url(#hat)"/><circle cx="132.8" cy="114.3" r="2.2" fill="url(#hat)"/><circle cx="116.6" cy="112.6" r="2.1" fill="url(#hat)"/><circle cx="128.8" cy="112.6" r="2.1" fill="url(#hat)"/><circle cx="116.6" cy="118.0" r="5.1" fill="url(#ring)"/><circle cx="128.8" cy="118.0" r="5.1" fill="url(#ring)"/><circle cx="112.3" cy="119.3" r="3.4" fill="url(#ring)"/><circle cx="133.1" cy="119.3" r="3.4" fill="url(#ring)"/><circle cx="122.7" cy="114.6" r="2.2" fill="url(#natom)"/><circle cx="111.6" cy="121.3" r="2.2" fill="url(#natom)"/><circle cx="133.8" cy="121.3" r="2.2" fill="url(#natom)"/><circle cx="106.7" cy="120.3" r="2.4" fill="url(#hat)"/><circle cx="138.7" cy="120.3" r="2.4" fill="url(#hat)"/><circle cx="108.3" cy="124.5" r="2.5" fill="url(#hat)"/><circle cx="137.1" cy="124.5" r="2.5" fill="url(#hat)"/><circle cx="112.6" cy="125.8" r="2.3" fill="url(#hat)"/><circle cx="132.8" cy="125.8" r="2.3" fill="url(#hat)"/><circle cx="117.6" cy="124.2" r="2.0" fill="url(#hat)"/><circle cx="127.8" cy="124.2" r="2.0" fill="url(#hat)"/><circle cx="122.7" cy="122.2" r="3.2" fill="url(#satom)"/></g>
<text x="104.60" y="113.40" font-size="14.4" text-anchor="start" font-weight="normal" fill="#111" transform="rotate(-90 104.6 113.4)">Laser beam</text>
<text x="142.30" y="128.40" font-size="14.0" text-anchor="start" font-weight="normal" fill="#111">MB</text>
<text x="57.6" y="174.9" font-size="14.6" fill="#111">1D/2D WO<tspan font-size="9.8" dy="3" font-style="italic">3-x</tspan><tspan dy="-3">/WSe</tspan><tspan font-size="9.8" dy="3">2</tspan></text>
</svg></body></html>
